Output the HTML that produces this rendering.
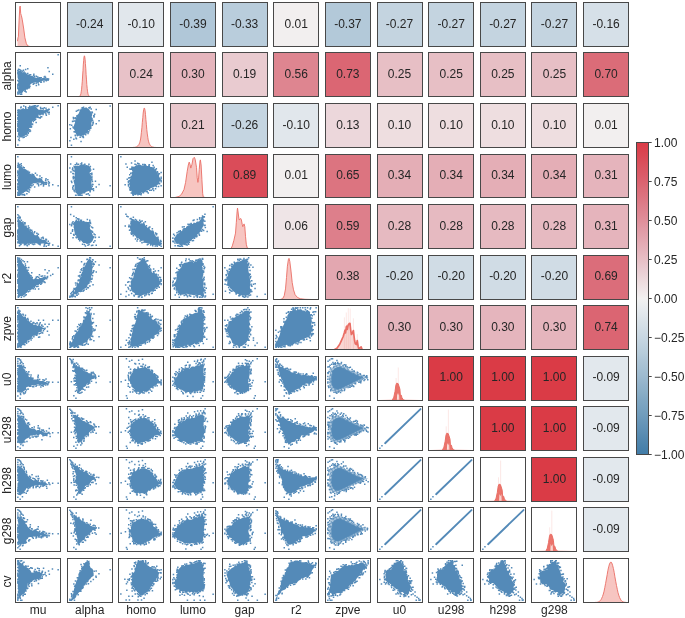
<!DOCTYPE html>
<html><head><meta charset="utf-8"><title>pairplot</title><style>html,body{margin:0;padding:0;background:#fff}svg{display:block}</style></head><body>
<svg width="685" height="618" viewBox="0 0 685 618" font-family="'Liberation Sans', sans-serif">
<rect width="685" height="618" fill="#fff"/>
<defs><pattern id="lat" width="3" height="3" patternUnits="userSpaceOnUse" patternTransform="rotate(-27)"><rect width="3" height="3" fill="#548ab8" fill-opacity="0.3"/><circle cx="1.5" cy="1.5" r="1.2" fill="#548ab8"/></pattern></defs>
<path d="M17.5,70.0L19.0,70.8L20.9,71.0L22.3,72.2L24.2,72.2L26.0,72.4L27.0,74.2L28.3,74.6L29.9,74.4L30.7,76.0L32.2,75.8L33.7,76.8L35.2,77.5L37.0,77.7L38.5,77.3L39.8,77.6L41.2,78.4L42.6,77.9L44.2,77.9L45.8,78.3L47.7,77.9L49.1,79.5L47.7,80.0L46.6,81.0L45.0,80.8L43.2,80.7L41.6,81.0L40.2,81.9L38.6,82.3L37.1,83.1L35.2,82.2L33.6,82.7L32.0,83.2L30.5,84.2L29.7,86.0L28.5,87.3L27.3,88.4L26.3,89.7L24.5,90.2L23.4,91.2L22.5,92.5L21.8,93.8L20.1,93.4L18.2,94.5L18.4,93.0L18.1,91.7L18.2,90.4L17.5,89.0L18.3,87.7L18.6,86.4L17.5,85.1L17.8,83.8L18.4,82.5L17.7,81.2L18.6,79.9L17.8,78.6L17.5,77.3L17.5,76.0L17.5,74.7L18.2,73.3L18.0,72.0L18.3,70.7Z" fill="#548ab8"/>
<path d="M18.0,68.9h1.5v1.5h-1.5zM17.9,68.6h1.5v1.5h-1.5zM20.1,69.8h1.5v1.5h-1.5zM19.1,68.9h1.5v1.5h-1.5zM21.4,70.4h1.5v1.5h-1.5zM24.9,68.7h1.5v1.5h-1.5zM22.7,69.4h1.5v1.5h-1.5zM23.3,71.2h1.5v1.5h-1.5zM29.9,73.9h1.5v1.5h-1.5zM29.3,73.9h1.5v1.5h-1.5zM27.0,72.7h1.5v1.5h-1.5zM33.7,75.5h1.5v1.5h-1.5zM35.6,75.4h1.5v1.5h-1.5zM32.9,74.8h1.5v1.5h-1.5zM37.0,76.3h1.5v1.5h-1.5zM40.5,76.9h1.5v1.5h-1.5zM39.0,76.9h1.5v1.5h-1.5zM43.5,76.3h1.5v1.5h-1.5zM44.8,76.7h1.5v1.5h-1.5zM44.2,75.8h1.5v1.5h-1.5zM47.8,78.3h1.5v1.5h-1.5zM47.3,79.6h1.5v1.5h-1.5zM45.6,79.9h1.5v1.5h-1.5zM40.6,81.3h1.5v1.5h-1.5zM43.2,81.0h1.5v1.5h-1.5zM40.1,81.4h1.5v1.5h-1.5zM35.4,82.4h1.5v1.5h-1.5zM37.5,82.2h1.5v1.5h-1.5zM35.6,84.7h1.5v1.5h-1.5zM32.5,83.6h1.5v1.5h-1.5zM33.4,82.6h1.5v1.5h-1.5zM32.8,83.2h1.5v1.5h-1.5zM29.2,85.5h1.5v1.5h-1.5zM28.3,85.4h1.5v1.5h-1.5zM26.5,88.0h1.5v1.5h-1.5zM27.7,87.2h1.5v1.5h-1.5zM27.3,86.6h1.5v1.5h-1.5zM24.4,90.1h1.5v1.5h-1.5zM24.2,90.6h1.5v1.5h-1.5zM25.4,91.2h1.5v1.5h-1.5zM20.0,93.4h1.5v1.5h-1.5zM20.9,93.4h1.5v1.5h-1.5zM17.3,93.1h1.5v1.5h-1.5zM17.1,79.7h1.5v1.5h-1.5zM17.1,84.5h1.5v1.5h-1.5zM17.1,73.1h1.5v1.5h-1.5zM17.1,72.1h1.5v1.5h-1.5zM17.1,73.0h1.5v1.5h-1.5zM17.1,86.9h1.5v1.5h-1.5zM17.1,83.8h1.5v1.5h-1.5zM17.1,91.6h1.5v1.5h-1.5zM17.1,86.1h1.5v1.5h-1.5zM17.1,69.7h1.5v1.5h-1.5zM17.1,70.2h1.5v1.5h-1.5zM17.1,69.7h1.5v1.5h-1.5zM17.1,87.0h1.5v1.5h-1.5zM17.1,87.6h1.5v1.5h-1.5zM57.4,54.1h1.5v1.5h-1.5zM19.5,65.1h1.5v1.5h-1.5zM27.0,67.9h1.5v1.5h-1.5zM47.2,67.1h1.5v1.5h-1.5zM48.5,70.8h1.5v1.5h-1.5zM52.0,73.6h1.5v1.5h-1.5zM33.1,73.5h1.5v1.5h-1.5zM37.9,83.9h1.5v1.5h-1.5zM28.7,87.1h1.5v1.5h-1.5zM17.1,93.2h1.5v1.5h-1.5zM19.5,93.4h1.5v1.5h-1.5z" fill="#548ab8"/>
<path d="M17.6,111.7L17.7,110.3L18.5,109.0L20.5,109.6L21.7,108.9L23.2,108.1L24.4,109.1L25.8,108.7L27.7,108.9L28.9,107.4L30.4,106.2L32.3,105.5L33.6,105.7L34.9,106.1L35.7,106.4L36.5,107.5L37.3,108.6L38.6,109.7L39.9,109.7L41.3,109.7L42.7,109.9L44.5,110.3L45.9,109.2L47.1,108.9L48.3,109.4L49.0,109.6L48.6,111.3L47.4,112.3L46.0,112.7L44.7,113.2L43.4,114.0L42.2,114.6L40.8,114.9L38.4,114.8L38.7,116.4L39.4,118.1L38.1,118.2L36.6,117.7L35.2,118.6L34.6,120.4L32.3,121.0L31.9,122.6L32.0,124.4L31.6,126.1L31.2,127.4L29.4,128.0L29.0,129.3L29.3,131.0L28.1,132.1L27.4,133.5L26.7,135.0L25.0,134.9L24.6,136.7L23.2,136.4L21.7,137.4L20.5,137.5L19.3,136.7L18.6,136.3L17.7,134.0L18.3,132.7L17.8,131.4L17.5,130.1L18.4,128.8L17.5,127.4L17.9,126.1L17.8,124.8L17.5,123.5L18.0,122.2L17.8,120.8L17.5,119.5L17.5,118.2L18.1,116.9L17.5,115.6L17.5,114.3L17.6,112.9Z" fill="#548ab8"/>
<path d="M17.1,109.4h1.5v1.5h-1.5zM20.4,106.3h1.5v1.5h-1.5zM20.1,107.1h1.5v1.5h-1.5zM25.0,107.6h1.5v1.5h-1.5zM23.0,105.3h1.5v1.5h-1.5zM24.9,106.0h1.5v1.5h-1.5zM27.6,107.0h1.5v1.5h-1.5zM29.0,105.6h1.5v1.5h-1.5zM28.7,106.6h1.5v1.5h-1.5zM33.4,105.1h1.5v1.5h-1.5zM34.8,105.1h1.5v1.5h-1.5zM36.4,105.8h1.5v1.5h-1.5zM37.3,105.1h1.5v1.5h-1.5zM39.8,106.7h1.5v1.5h-1.5zM40.0,108.1h1.5v1.5h-1.5zM41.6,107.7h1.5v1.5h-1.5zM42.6,108.2h1.5v1.5h-1.5zM45.2,107.4h1.5v1.5h-1.5zM48.4,108.8h1.5v1.5h-1.5zM48.0,108.4h1.5v1.5h-1.5zM48.5,111.4h1.5v1.5h-1.5zM47.2,111.8h1.5v1.5h-1.5zM45.1,113.0h1.5v1.5h-1.5zM45.6,114.5h1.5v1.5h-1.5zM40.9,116.0h1.5v1.5h-1.5zM39.3,114.1h1.5v1.5h-1.5zM42.3,113.8h1.5v1.5h-1.5zM39.9,116.2h1.5v1.5h-1.5zM38.8,116.9h1.5v1.5h-1.5zM34.8,118.2h1.5v1.5h-1.5zM34.9,118.4h1.5v1.5h-1.5zM34.6,118.8h1.5v1.5h-1.5zM33.7,119.5h1.5v1.5h-1.5zM31.8,123.3h1.5v1.5h-1.5zM32.6,120.7h1.5v1.5h-1.5zM31.8,123.7h1.5v1.5h-1.5zM35.4,121.8h1.5v1.5h-1.5zM29.0,129.1h1.5v1.5h-1.5zM30.8,126.1h1.5v1.5h-1.5zM29.7,130.3h1.5v1.5h-1.5zM30.2,126.6h1.5v1.5h-1.5zM28.9,130.8h1.5v1.5h-1.5zM27.3,131.8h1.5v1.5h-1.5zM26.7,134.3h1.5v1.5h-1.5zM23.4,136.5h1.5v1.5h-1.5zM25.2,135.4h1.5v1.5h-1.5zM23.0,136.5h1.5v1.5h-1.5zM22.3,136.7h1.5v1.5h-1.5zM22.5,136.7h1.5v1.5h-1.5zM18.5,137.3h1.5v1.5h-1.5zM17.1,135.7h1.5v1.5h-1.5zM17.1,135.8h1.5v1.5h-1.5zM17.1,125.5h1.5v1.5h-1.5zM17.1,130.4h1.5v1.5h-1.5zM17.1,116.7h1.5v1.5h-1.5zM17.1,129.6h1.5v1.5h-1.5zM17.1,114.4h1.5v1.5h-1.5zM17.1,118.3h1.5v1.5h-1.5zM17.1,127.9h1.5v1.5h-1.5zM17.1,123.0h1.5v1.5h-1.5zM17.1,123.3h1.5v1.5h-1.5zM17.1,111.7h1.5v1.5h-1.5zM17.1,121.0h1.5v1.5h-1.5zM17.1,111.6h1.5v1.5h-1.5zM17.1,125.3h1.5v1.5h-1.5zM17.1,124.7h1.5v1.5h-1.5zM57.4,105.1h1.5v1.5h-1.5zM52.0,106.4h1.5v1.5h-1.5zM48.3,113.3h1.5v1.5h-1.5zM34.7,105.1h1.5v1.5h-1.5zM36.3,105.7h1.5v1.5h-1.5zM27.5,132.5h1.5v1.5h-1.5zM18.7,139.7h1.5v1.5h-1.5zM17.1,144.2h1.5v1.5h-1.5zM17.9,138.9h1.5v1.5h-1.5zM39.5,117.3h1.5v1.5h-1.5zM33.1,106.1h1.5v1.5h-1.5zM43.5,106.9h1.5v1.5h-1.5z" fill="#548ab8"/>
<path d="M83.6,108.1L85.4,107.8L86.0,107.0L87.0,108.1L88.4,108.8L89.5,109.7L90.0,111.1L91.6,111.9L91.9,113.5L92.3,115.0L91.6,116.9L92.8,118.3L92.7,119.9L91.8,121.4L91.4,123.0L91.3,124.2L91.8,126.0L91.2,127.1L90.2,128.2L89.9,129.5L88.3,130.2L88.0,132.0L87.2,133.4L85.6,133.7L84.5,135.0L82.8,134.9L81.6,135.9L80.3,136.4L79.1,135.5L77.5,136.5L76.6,135.7L76.2,134.3L75.6,132.9L73.8,131.9L74.9,130.4L73.7,129.1L74.0,127.7L73.9,126.3L74.1,125.1L74.6,123.8L75.1,122.6L75.0,121.3L75.3,120.1L75.7,118.7L76.3,117.3L76.0,115.5L77.6,114.7L78.7,113.4L79.4,111.8L80.0,109.9L81.5,109.6L82.4,108.6Z" fill="#548ab8"/>
<path d="M82.6,106.9h1.5v1.5h-1.5zM82.8,106.6h1.5v1.5h-1.5zM88.2,107.0h1.5v1.5h-1.5zM88.9,107.3h1.5v1.5h-1.5zM89.4,106.6h1.5v1.5h-1.5zM91.3,111.3h1.5v1.5h-1.5zM90.5,108.3h1.5v1.5h-1.5zM91.6,112.0h1.5v1.5h-1.5zM93.0,114.9h1.5v1.5h-1.5zM93.2,116.3h1.5v1.5h-1.5zM93.4,115.2h1.5v1.5h-1.5zM91.9,119.8h1.5v1.5h-1.5zM92.3,122.9h1.5v1.5h-1.5zM92.5,121.6h1.5v1.5h-1.5zM92.2,121.9h1.5v1.5h-1.5zM90.0,127.1h1.5v1.5h-1.5zM90.0,127.6h1.5v1.5h-1.5zM91.6,124.4h1.5v1.5h-1.5zM88.0,130.9h1.5v1.5h-1.5zM87.3,132.8h1.5v1.5h-1.5zM87.3,132.2h1.5v1.5h-1.5zM88.9,129.2h1.5v1.5h-1.5zM84.9,133.9h1.5v1.5h-1.5zM81.7,136.0h1.5v1.5h-1.5zM81.5,135.4h1.5v1.5h-1.5zM82.4,135.3h1.5v1.5h-1.5zM75.2,137.3h1.5v1.5h-1.5zM79.4,136.4h1.5v1.5h-1.5zM75.7,138.0h1.5v1.5h-1.5zM74.5,134.6h1.5v1.5h-1.5zM74.7,134.9h1.5v1.5h-1.5zM72.8,127.2h1.5v1.5h-1.5zM72.3,126.2h1.5v1.5h-1.5zM73.4,131.0h1.5v1.5h-1.5zM73.7,120.2h1.5v1.5h-1.5zM72.2,120.5h1.5v1.5h-1.5zM70.9,124.4h1.5v1.5h-1.5zM71.8,120.7h1.5v1.5h-1.5zM74.4,116.9h1.5v1.5h-1.5zM74.5,117.6h1.5v1.5h-1.5zM72.8,118.0h1.5v1.5h-1.5zM72.6,116.7h1.5v1.5h-1.5zM75.6,110.5h1.5v1.5h-1.5zM78.1,109.2h1.5v1.5h-1.5zM76.8,109.8h1.5v1.5h-1.5zM81.6,107.4h1.5v1.5h-1.5zM81.4,107.1h1.5v1.5h-1.5zM80.4,108.8h1.5v1.5h-1.5zM109.4,105.2h1.5v1.5h-1.5zM95.5,108.7h1.5v1.5h-1.5zM98.3,119.9h1.5v1.5h-1.5zM95.5,123.1h1.5v1.5h-1.5zM93.9,113.5h1.5v1.5h-1.5zM69.1,123.9h1.5v1.5h-1.5zM69.6,127.9h1.5v1.5h-1.5zM70.2,136.8h1.5v1.5h-1.5zM73.1,138.4h1.5v1.5h-1.5zM70.7,144.4h1.5v1.5h-1.5zM80.3,140.8h1.5v1.5h-1.5zM82.7,136.8h1.5v1.5h-1.5zM69.1,140.0h1.5v1.5h-1.5z" fill="#548ab8"/>
<path d="M17.6,163.6L19.7,164.1L20.0,165.9L21.5,166.3L22.4,167.5L23.3,168.8L25.2,169.0L26.5,169.8L27.6,171.0L28.7,171.9L29.6,173.2L30.8,174.0L32.1,174.7L33.4,175.1L34.8,175.4L35.5,176.9L36.5,177.8L37.7,178.4L39.4,178.2L40.8,178.6L42.0,179.1L42.8,180.7L43.9,181.4L45.1,181.9L46.6,181.8L47.8,183.0L49.1,181.7L47.4,183.5L46.1,183.7L44.7,183.5L43.4,184.3L41.9,183.4L40.4,182.8L38.6,182.8L37.3,182.5L36.0,183.2L34.6,183.2L33.0,183.4L31.6,184.4L31.8,186.2L30.1,186.6L30.2,188.3L28.8,188.9L27.6,189.7L27.7,191.6L25.6,191.4L24.2,192.2L23.2,193.4L21.8,193.7L20.9,195.4L19.6,195.0L18.4,194.9L17.5,193.6L18.3,192.2L18.0,190.9L17.5,189.6L17.5,188.2L17.9,186.9L18.5,185.5L17.8,184.2L18.0,182.8L17.5,181.5L18.3,180.1L18.0,178.8L17.5,177.5L18.6,176.1L17.9,174.8L17.5,173.4L17.5,172.1L18.5,170.7L18.5,169.4L18.5,168.0L17.5,166.7L18.2,165.4Z" fill="#548ab8"/>
<path d="M17.7,163.2h1.5v1.5h-1.5zM17.6,162.4h1.5v1.5h-1.5zM20.7,165.0h1.5v1.5h-1.5zM19.3,164.1h1.5v1.5h-1.5zM20.5,162.9h1.5v1.5h-1.5zM22.6,166.9h1.5v1.5h-1.5zM22.5,166.6h1.5v1.5h-1.5zM22.4,166.7h1.5v1.5h-1.5zM23.5,167.0h1.5v1.5h-1.5zM28.7,171.4h1.5v1.5h-1.5zM27.1,170.5h1.5v1.5h-1.5zM31.4,173.5h1.5v1.5h-1.5zM32.8,173.9h1.5v1.5h-1.5zM34.7,172.5h1.5v1.5h-1.5zM36.3,174.2h1.5v1.5h-1.5zM39.1,177.7h1.5v1.5h-1.5zM39.2,175.3h1.5v1.5h-1.5zM41.0,177.0h1.5v1.5h-1.5zM45.3,178.1h1.5v1.5h-1.5zM44.9,179.5h1.5v1.5h-1.5zM45.0,179.9h1.5v1.5h-1.5zM47.1,179.1h1.5v1.5h-1.5zM47.8,181.1h1.5v1.5h-1.5zM48.0,183.3h1.5v1.5h-1.5zM48.6,181.9h1.5v1.5h-1.5zM44.3,183.2h1.5v1.5h-1.5zM45.5,183.6h1.5v1.5h-1.5zM42.9,184.1h1.5v1.5h-1.5zM37.9,183.5h1.5v1.5h-1.5zM41.2,183.1h1.5v1.5h-1.5zM40.1,183.8h1.5v1.5h-1.5zM37.0,182.5h1.5v1.5h-1.5zM36.5,182.9h1.5v1.5h-1.5zM32.4,184.1h1.5v1.5h-1.5zM31.1,184.9h1.5v1.5h-1.5zM29.9,186.7h1.5v1.5h-1.5zM28.8,189.2h1.5v1.5h-1.5zM26.9,190.4h1.5v1.5h-1.5zM28.3,188.7h1.5v1.5h-1.5zM26.1,193.1h1.5v1.5h-1.5zM23.7,193.8h1.5v1.5h-1.5zM23.9,194.4h1.5v1.5h-1.5zM22.8,194.1h1.5v1.5h-1.5zM21.3,194.1h1.5v1.5h-1.5zM18.6,194.4h1.5v1.5h-1.5zM17.3,194.4h1.5v1.5h-1.5zM17.1,166.4h1.5v1.5h-1.5zM17.1,185.8h1.5v1.5h-1.5zM17.1,175.1h1.5v1.5h-1.5zM17.1,172.0h1.5v1.5h-1.5zM17.1,185.7h1.5v1.5h-1.5zM17.1,170.8h1.5v1.5h-1.5zM17.1,174.6h1.5v1.5h-1.5zM17.1,193.4h1.5v1.5h-1.5zM17.1,179.5h1.5v1.5h-1.5zM17.1,164.7h1.5v1.5h-1.5zM17.1,186.4h1.5v1.5h-1.5zM17.1,178.9h1.5v1.5h-1.5zM17.1,188.5h1.5v1.5h-1.5zM17.1,171.3h1.5v1.5h-1.5zM17.1,170.3h1.5v1.5h-1.5zM17.1,184.0h1.5v1.5h-1.5zM17.1,183.0h1.5v1.5h-1.5zM17.1,191.7h1.5v1.5h-1.5zM17.1,156.1h1.5v1.5h-1.5zM57.4,184.9h1.5v1.5h-1.5zM52.0,184.1h1.5v1.5h-1.5zM48.3,184.9h1.5v1.5h-1.5zM42.7,185.2h1.5v1.5h-1.5zM37.9,184.9h1.5v1.5h-1.5zM33.9,186.2h1.5v1.5h-1.5zM28.3,191.3h1.5v1.5h-1.5zM17.1,194.4h1.5v1.5h-1.5zM18.7,194.2h1.5v1.5h-1.5z" fill="#548ab8"/>
<path d="M73.0,165.5L74.5,166.0L75.9,166.1L77.1,165.8L78.7,165.7L80.3,165.0L81.9,164.5L83.5,164.3L84.9,165.3L86.5,165.0L88.0,165.5L89.0,165.3L89.7,166.7L90.9,168.0L90.6,169.6L91.0,171.2L89.5,172.8L90.2,174.5L91.4,175.9L92.2,177.7L90.8,179.2L91.5,180.8L91.5,182.4L90.9,184.2L91.9,185.4L91.6,187.0L92.6,188.0L92.1,189.4L91.3,190.2L90.3,191.6L88.6,191.0L87.3,191.6L85.8,192.0L84.8,193.4L83.3,193.6L81.5,194.0L80.3,195.2L78.1,194.8L76.9,193.8L75.9,192.7L75.9,191.1L74.6,189.8L74.5,188.0L74.7,186.4L74.5,185.0L74.2,183.6L73.9,182.2L73.4,180.8L74.7,179.3L73.6,177.6L74.9,176.1L74.6,174.4L75.0,172.7L73.9,171.2L74.5,169.5L74.3,168.2L73.6,166.9Z" fill="#548ab8"/>
<path d="M74.5,164.1h1.5v1.5h-1.5zM75.9,162.4h1.5v1.5h-1.5zM76.2,163.8h1.5v1.5h-1.5zM77.8,163.6h1.5v1.5h-1.5zM80.3,163.0h1.5v1.5h-1.5zM81.0,162.3h1.5v1.5h-1.5zM80.6,163.7h1.5v1.5h-1.5zM84.0,163.6h1.5v1.5h-1.5zM84.2,163.8h1.5v1.5h-1.5zM88.2,163.6h1.5v1.5h-1.5zM89.6,165.8h1.5v1.5h-1.5zM91.1,172.6h1.5v1.5h-1.5zM89.7,173.1h1.5v1.5h-1.5zM89.9,169.2h1.5v1.5h-1.5zM92.8,168.6h1.5v1.5h-1.5zM91.3,176.3h1.5v1.5h-1.5zM91.1,174.0h1.5v1.5h-1.5zM91.1,179.2h1.5v1.5h-1.5zM91.2,178.2h1.5v1.5h-1.5zM91.7,180.8h1.5v1.5h-1.5zM91.0,178.2h1.5v1.5h-1.5zM92.2,183.7h1.5v1.5h-1.5zM91.5,185.5h1.5v1.5h-1.5zM91.3,183.6h1.5v1.5h-1.5zM92.7,188.1h1.5v1.5h-1.5zM91.7,188.5h1.5v1.5h-1.5zM89.4,190.9h1.5v1.5h-1.5zM88.7,194.4h1.5v1.5h-1.5zM87.5,193.0h1.5v1.5h-1.5zM85.6,193.4h1.5v1.5h-1.5zM85.9,193.6h1.5v1.5h-1.5zM81.3,194.4h1.5v1.5h-1.5zM79.8,194.4h1.5v1.5h-1.5zM80.9,194.4h1.5v1.5h-1.5zM78.7,194.4h1.5v1.5h-1.5zM77.3,194.3h1.5v1.5h-1.5zM74.9,194.4h1.5v1.5h-1.5zM74.3,190.9h1.5v1.5h-1.5zM75.3,194.4h1.5v1.5h-1.5zM73.3,190.1h1.5v1.5h-1.5zM74.0,189.6h1.5v1.5h-1.5zM72.0,186.9h1.5v1.5h-1.5zM72.9,185.0h1.5v1.5h-1.5zM71.1,181.7h1.5v1.5h-1.5zM72.4,185.5h1.5v1.5h-1.5zM72.4,176.5h1.5v1.5h-1.5zM72.6,178.1h1.5v1.5h-1.5zM72.7,176.3h1.5v1.5h-1.5zM72.8,175.8h1.5v1.5h-1.5zM72.1,172.7h1.5v1.5h-1.5zM72.5,170.0h1.5v1.5h-1.5zM72.8,172.9h1.5v1.5h-1.5zM72.0,167.2h1.5v1.5h-1.5zM72.0,168.8h1.5v1.5h-1.5zM71.7,168.7h1.5v1.5h-1.5zM70.7,156.1h1.5v1.5h-1.5zM69.9,163.3h1.5v1.5h-1.5zM69.1,167.3h1.5v1.5h-1.5zM70.2,171.3h1.5v1.5h-1.5zM70.7,180.4h1.5v1.5h-1.5zM109.4,184.9h1.5v1.5h-1.5zM98.3,183.8h1.5v1.5h-1.5zM94.7,180.4h1.5v1.5h-1.5zM95.5,186.2h1.5v1.5h-1.5zM92.8,189.7h1.5v1.5h-1.5zM77.9,194.4h1.5v1.5h-1.5zM72.3,188.4h1.5v1.5h-1.5z" fill="#548ab8"/>
<path d="M131.2,166.3L132.7,166.4L134.2,166.8L135.5,165.7L136.9,165.4L138.4,164.5L140.0,164.5L141.7,165.5L143.1,165.4L144.5,165.0L145.9,164.6L146.9,165.9L148.2,166.1L149.7,165.5L150.4,167.0L151.9,167.0L153.2,167.5L154.4,168.1L154.8,169.6L156.2,170.6L156.9,172.0L157.1,174.0L159.1,174.6L159.1,176.5L160.0,178.0L160.8,179.0L161.0,180.5L159.5,181.5L159.6,182.6L158.7,184.2L157.2,185.1L156.1,186.6L154.4,186.8L152.9,187.5L151.3,187.9L150.0,188.7L148.9,190.0L147.5,190.4L146.0,190.8L144.8,192.0L143.3,192.9L141.3,192.6L140.1,194.2L138.4,194.5L136.7,194.5L135.2,195.3L133.6,194.6L131.9,194.0L131.6,192.4L131.4,190.8L130.0,189.7L129.5,188.3L129.5,186.9L129.9,185.3L128.7,184.0L129.6,182.7L129.1,181.2L129.5,179.8L130.6,178.7L129.7,176.9L131.3,175.9L131.8,174.5L131.1,172.8L132.5,171.7L131.9,170.2L131.6,169.0Z" fill="#548ab8"/>
<path d="M135.8,164.3h1.5v1.5h-1.5zM134.3,160.2h1.5v1.5h-1.5zM134.3,163.4h1.5v1.5h-1.5zM130.8,162.3h1.5v1.5h-1.5zM142.0,163.7h1.5v1.5h-1.5zM138.2,163.0h1.5v1.5h-1.5zM136.9,162.5h1.5v1.5h-1.5zM137.7,162.9h1.5v1.5h-1.5zM144.5,164.1h1.5v1.5h-1.5zM143.7,163.8h1.5v1.5h-1.5zM148.6,163.9h1.5v1.5h-1.5zM148.2,164.6h1.5v1.5h-1.5zM153.4,166.4h1.5v1.5h-1.5zM152.4,164.7h1.5v1.5h-1.5zM151.2,161.6h1.5v1.5h-1.5zM156.7,170.9h1.5v1.5h-1.5zM155.6,168.1h1.5v1.5h-1.5zM154.9,169.0h1.5v1.5h-1.5zM160.4,171.8h1.5v1.5h-1.5zM158.7,173.1h1.5v1.5h-1.5zM157.1,172.5h1.5v1.5h-1.5zM160.4,176.4h1.5v1.5h-1.5zM160.4,178.1h1.5v1.5h-1.5zM160.3,179.9h1.5v1.5h-1.5zM160.4,180.0h1.5v1.5h-1.5zM160.4,181.1h1.5v1.5h-1.5zM155.7,185.7h1.5v1.5h-1.5zM158.8,183.0h1.5v1.5h-1.5zM157.8,185.8h1.5v1.5h-1.5zM152.3,187.8h1.5v1.5h-1.5zM151.9,188.2h1.5v1.5h-1.5zM150.6,189.6h1.5v1.5h-1.5zM154.8,188.1h1.5v1.5h-1.5zM145.3,190.8h1.5v1.5h-1.5zM147.5,192.3h1.5v1.5h-1.5zM149.0,189.4h1.5v1.5h-1.5zM146.5,190.9h1.5v1.5h-1.5zM142.7,191.9h1.5v1.5h-1.5zM140.3,194.1h1.5v1.5h-1.5zM140.6,192.7h1.5v1.5h-1.5zM137.2,194.0h1.5v1.5h-1.5zM138.8,193.6h1.5v1.5h-1.5zM139.2,193.6h1.5v1.5h-1.5zM132.1,193.8h1.5v1.5h-1.5zM132.5,194.2h1.5v1.5h-1.5zM129.2,189.1h1.5v1.5h-1.5zM129.6,189.4h1.5v1.5h-1.5zM130.6,192.2h1.5v1.5h-1.5zM128.8,187.1h1.5v1.5h-1.5zM127.7,183.9h1.5v1.5h-1.5zM127.8,185.2h1.5v1.5h-1.5zM127.6,180.7h1.5v1.5h-1.5zM128.4,180.1h1.5v1.5h-1.5zM127.7,182.0h1.5v1.5h-1.5zM130.0,172.4h1.5v1.5h-1.5zM129.1,176.9h1.5v1.5h-1.5zM128.0,177.2h1.5v1.5h-1.5zM129.0,173.9h1.5v1.5h-1.5zM129.8,168.5h1.5v1.5h-1.5zM131.1,168.5h1.5v1.5h-1.5zM129.2,168.2h1.5v1.5h-1.5zM131.0,167.6h1.5v1.5h-1.5zM129.8,168.5h1.5v1.5h-1.5zM120.1,156.1h1.5v1.5h-1.5zM125.2,163.3h1.5v1.5h-1.5zM126.5,166.5h1.5v1.5h-1.5zM126.5,178.5h1.5v1.5h-1.5zM124.4,184.1h1.5v1.5h-1.5zM160.4,176.6h1.5v1.5h-1.5zM160.4,184.9h1.5v1.5h-1.5zM152.9,189.7h1.5v1.5h-1.5zM132.6,194.4h1.5v1.5h-1.5zM157.7,173.7h1.5v1.5h-1.5z" fill="#548ab8"/>
<path d="M17.6,215.9L18.1,217.2L18.6,218.6L19.4,219.9L20.5,220.8L21.3,221.8L22.8,222.3L23.9,223.6L24.6,225.4L26.8,225.5L26.9,227.5L28.8,228.0L29.0,229.8L30.4,230.7L31.5,231.9L33.2,232.3L33.8,234.0L34.9,235.3L36.7,235.2L37.8,236.1L39.1,236.8L39.7,238.6L41.1,239.1L42.3,239.7L44.0,239.4L45.1,240.3L46.3,241.3L47.4,242.6L49.2,243.0L49.5,245.2L48.1,244.1L46.6,243.9L45.1,244.3L43.6,243.4L41.9,243.4L40.2,244.1L38.6,243.7L37.0,243.5L35.4,242.9L33.8,243.6L32.2,243.5L30.7,244.0L29.0,243.4L27.4,243.8L25.8,244.4L24.5,243.9L23.2,243.7L21.8,243.8L20.2,243.9L19.0,243.9L17.6,242.5L17.5,241.2L18.0,239.9L17.8,238.5L17.5,237.2L18.5,235.9L17.7,234.6L18.3,233.3L17.5,231.9L17.5,230.6L17.8,229.3L18.4,228.0L17.7,226.7L17.7,225.3L17.5,224.0L17.8,222.7L17.6,221.4L17.5,220.0L17.8,218.7L17.9,217.4Z" fill="#548ab8"/>
<path d="M18.1,215.3h1.5v1.5h-1.5zM19.2,217.8h1.5v1.5h-1.5zM18.7,216.7h1.5v1.5h-1.5zM20.6,219.5h1.5v1.5h-1.5zM22.2,221.3h1.5v1.5h-1.5zM24.4,222.2h1.5v1.5h-1.5zM23.9,222.1h1.5v1.5h-1.5zM24.1,223.3h1.5v1.5h-1.5zM27.6,225.2h1.5v1.5h-1.5zM29.8,229.6h1.5v1.5h-1.5zM28.2,227.0h1.5v1.5h-1.5zM29.2,228.7h1.5v1.5h-1.5zM31.4,230.7h1.5v1.5h-1.5zM33.6,232.1h1.5v1.5h-1.5zM30.9,229.6h1.5v1.5h-1.5zM36.6,234.5h1.5v1.5h-1.5zM37.6,233.5h1.5v1.5h-1.5zM36.1,232.6h1.5v1.5h-1.5zM42.2,236.5h1.5v1.5h-1.5zM40.8,237.2h1.5v1.5h-1.5zM42.6,237.4h1.5v1.5h-1.5zM45.7,238.8h1.5v1.5h-1.5zM47.5,240.5h1.5v1.5h-1.5zM45.2,239.7h1.5v1.5h-1.5zM48.8,242.4h1.5v1.5h-1.5zM45.5,245.4h1.5v1.5h-1.5zM48.1,244.2h1.5v1.5h-1.5zM47.6,244.4h1.5v1.5h-1.5zM39.4,243.9h1.5v1.5h-1.5zM43.3,245.4h1.5v1.5h-1.5zM43.7,244.1h1.5v1.5h-1.5zM38.5,243.6h1.5v1.5h-1.5zM39.0,243.0h1.5v1.5h-1.5zM37.6,242.8h1.5v1.5h-1.5zM31.7,243.3h1.5v1.5h-1.5zM34.0,243.3h1.5v1.5h-1.5zM32.8,243.8h1.5v1.5h-1.5zM27.9,243.3h1.5v1.5h-1.5zM26.6,244.9h1.5v1.5h-1.5zM26.2,244.2h1.5v1.5h-1.5zM23.7,244.0h1.5v1.5h-1.5zM24.6,243.7h1.5v1.5h-1.5zM20.3,243.4h1.5v1.5h-1.5zM19.7,243.9h1.5v1.5h-1.5zM17.1,242.0h1.5v1.5h-1.5zM17.1,236.2h1.5v1.5h-1.5zM17.1,231.4h1.5v1.5h-1.5zM17.1,238.5h1.5v1.5h-1.5zM17.1,232.4h1.5v1.5h-1.5zM17.1,234.5h1.5v1.5h-1.5zM17.1,241.4h1.5v1.5h-1.5zM17.1,230.6h1.5v1.5h-1.5zM17.1,232.5h1.5v1.5h-1.5zM17.1,235.8h1.5v1.5h-1.5zM17.1,216.9h1.5v1.5h-1.5zM17.1,236.0h1.5v1.5h-1.5zM17.1,231.4h1.5v1.5h-1.5zM17.1,238.3h1.5v1.5h-1.5zM17.1,220.4h1.5v1.5h-1.5zM17.1,229.4h1.5v1.5h-1.5zM17.1,206.1h1.5v1.5h-1.5zM57.4,245.4h1.5v1.5h-1.5zM52.0,244.2h1.5v1.5h-1.5zM17.1,214.0h1.5v1.5h-1.5zM19.5,216.6h1.5v1.5h-1.5zM33.9,231.0h1.5v1.5h-1.5zM45.1,238.6h1.5v1.5h-1.5zM18.7,245.0h1.5v1.5h-1.5zM28.3,243.8h1.5v1.5h-1.5z" fill="#548ab8"/>
<path d="M74.8,221.6L75.9,220.2L77.4,220.9L78.6,220.3L79.8,221.2L81.3,220.3L82.4,221.3L83.8,220.7L85.0,221.8L86.3,221.8L87.7,222.1L89.0,222.0L90.5,222.2L89.6,223.9L90.8,225.6L89.8,227.4L90.2,229.0L91.4,230.5L91.6,232.0L92.3,233.7L92.9,235.5L94.8,236.8L93.8,238.1L93.2,239.2L92.5,240.9L91.3,242.2L89.8,243.4L88.6,243.7L86.7,244.0L85.4,243.1L83.2,243.1L81.9,241.6L80.9,240.2L79.0,239.8L78.0,238.4L76.6,237.3L76.2,235.4L74.5,234.5L74.8,232.9L74.4,231.5L74.1,230.1L74.1,228.8L73.5,227.2L73.8,225.6L72.7,224.1L73.7,222.5Z" fill="#548ab8"/>
<path d="M76.9,218.1h1.5v1.5h-1.5zM75.7,219.5h1.5v1.5h-1.5zM80.4,219.5h1.5v1.5h-1.5zM80.7,219.6h1.5v1.5h-1.5zM78.1,218.3h1.5v1.5h-1.5zM79.8,219.4h1.5v1.5h-1.5zM86.6,218.7h1.5v1.5h-1.5zM88.9,221.2h1.5v1.5h-1.5zM89.0,219.4h1.5v1.5h-1.5zM89.6,221.5h1.5v1.5h-1.5zM90.8,226.2h1.5v1.5h-1.5zM89.8,222.7h1.5v1.5h-1.5zM91.9,227.0h1.5v1.5h-1.5zM90.7,230.3h1.5v1.5h-1.5zM91.4,230.7h1.5v1.5h-1.5zM93.3,233.2h1.5v1.5h-1.5zM91.9,231.6h1.5v1.5h-1.5zM94.3,233.9h1.5v1.5h-1.5zM94.6,236.8h1.5v1.5h-1.5zM94.7,236.5h1.5v1.5h-1.5zM93.0,241.6h1.5v1.5h-1.5zM94.2,240.0h1.5v1.5h-1.5zM88.3,243.8h1.5v1.5h-1.5zM90.8,244.8h1.5v1.5h-1.5zM87.2,244.5h1.5v1.5h-1.5zM84.7,245.2h1.5v1.5h-1.5zM81.8,243.5h1.5v1.5h-1.5zM83.7,243.7h1.5v1.5h-1.5zM78.9,239.9h1.5v1.5h-1.5zM77.9,238.6h1.5v1.5h-1.5zM79.1,239.9h1.5v1.5h-1.5zM75.4,236.5h1.5v1.5h-1.5zM75.8,237.0h1.5v1.5h-1.5zM73.3,234.4h1.5v1.5h-1.5zM71.7,230.5h1.5v1.5h-1.5zM72.9,233.8h1.5v1.5h-1.5zM71.9,229.0h1.5v1.5h-1.5zM71.1,223.8h1.5v1.5h-1.5zM70.8,225.1h1.5v1.5h-1.5zM71.1,223.8h1.5v1.5h-1.5zM72.3,220.9h1.5v1.5h-1.5zM71.5,222.2h1.5v1.5h-1.5zM70.7,206.1h1.5v1.5h-1.5zM69.9,213.7h1.5v1.5h-1.5zM73.1,215.6h1.5v1.5h-1.5zM75.5,216.9h1.5v1.5h-1.5zM69.1,223.7h1.5v1.5h-1.5zM70.2,232.6h1.5v1.5h-1.5zM72.3,237.0h1.5v1.5h-1.5zM98.3,236.6h1.5v1.5h-1.5zM95.5,244.6h1.5v1.5h-1.5zM109.4,245.4h1.5v1.5h-1.5zM92.0,244.6h1.5v1.5h-1.5zM77.9,219.3h1.5v1.5h-1.5z" fill="#548ab8"/>
<path d="M130.3,218.8L132.0,218.8L133.6,219.3L135.0,220.4L136.9,220.4L138.4,221.3L139.8,221.5L140.4,223.4L141.9,223.3L143.5,223.4L144.7,224.2L145.4,225.7L146.6,226.5L147.5,227.7L149.4,227.6L149.9,229.5L151.0,230.5L153.1,230.3L154.0,231.8L154.2,233.8L155.1,235.1L155.9,236.4L157.6,237.2L158.7,238.3L159.2,240.0L159.7,241.8L161.4,242.5L160.9,245.1L159.6,245.6L158.2,245.6L156.8,245.9L155.3,244.9L153.7,245.1L151.9,245.2L150.6,243.9L148.8,243.8L147.3,243.2L145.8,242.9L144.3,242.4L143.4,240.6L141.6,240.9L140.3,240.6L139.5,239.2L138.5,238.2L136.8,238.5L136.1,237.3L135.4,236.0L134.3,235.0L133.0,234.4L131.7,233.3L130.9,232.0L130.9,230.3L130.2,229.1L130.0,227.7L129.0,226.4L130.6,225.2L130.0,223.0L131.0,221.9L131.7,221.1L131.1,219.8Z" fill="#548ab8"/>
<path d="M130.3,217.8h1.5v1.5h-1.5zM132.6,216.4h1.5v1.5h-1.5zM135.7,219.4h1.5v1.5h-1.5zM134.5,218.7h1.5v1.5h-1.5zM134.6,218.7h1.5v1.5h-1.5zM138.9,219.6h1.5v1.5h-1.5zM141.4,220.2h1.5v1.5h-1.5zM139.8,221.6h1.5v1.5h-1.5zM139.9,220.8h1.5v1.5h-1.5zM145.7,224.9h1.5v1.5h-1.5zM143.2,223.5h1.5v1.5h-1.5zM143.0,222.3h1.5v1.5h-1.5zM144.6,221.1h1.5v1.5h-1.5zM149.1,226.2h1.5v1.5h-1.5zM148.2,226.8h1.5v1.5h-1.5zM151.6,228.1h1.5v1.5h-1.5zM154.8,232.3h1.5v1.5h-1.5zM155.3,233.3h1.5v1.5h-1.5zM156.0,233.0h1.5v1.5h-1.5zM155.7,233.9h1.5v1.5h-1.5zM157.2,236.6h1.5v1.5h-1.5zM159.8,239.8h1.5v1.5h-1.5zM159.9,240.4h1.5v1.5h-1.5zM160.4,240.7h1.5v1.5h-1.5zM160.4,242.9h1.5v1.5h-1.5zM158.9,244.4h1.5v1.5h-1.5zM156.4,245.4h1.5v1.5h-1.5zM152.0,245.0h1.5v1.5h-1.5zM154.5,245.2h1.5v1.5h-1.5zM146.6,244.0h1.5v1.5h-1.5zM149.9,243.7h1.5v1.5h-1.5zM149.9,244.2h1.5v1.5h-1.5zM141.3,242.1h1.5v1.5h-1.5zM143.2,241.4h1.5v1.5h-1.5zM141.2,241.7h1.5v1.5h-1.5zM137.0,238.4h1.5v1.5h-1.5zM136.3,240.3h1.5v1.5h-1.5zM139.4,240.3h1.5v1.5h-1.5zM132.6,234.9h1.5v1.5h-1.5zM134.8,238.3h1.5v1.5h-1.5zM132.8,234.8h1.5v1.5h-1.5zM130.3,232.2h1.5v1.5h-1.5zM131.5,233.1h1.5v1.5h-1.5zM130.8,233.5h1.5v1.5h-1.5zM129.4,229.2h1.5v1.5h-1.5zM128.0,225.9h1.5v1.5h-1.5zM128.8,229.6h1.5v1.5h-1.5zM128.3,224.4h1.5v1.5h-1.5zM128.4,225.7h1.5v1.5h-1.5zM130.4,221.0h1.5v1.5h-1.5zM130.5,220.4h1.5v1.5h-1.5zM129.5,217.9h1.5v1.5h-1.5zM120.1,206.1h1.5v1.5h-1.5zM125.2,213.4h1.5v1.5h-1.5zM126.1,215.6h1.5v1.5h-1.5zM124.5,225.3h1.5v1.5h-1.5zM127.3,216.1h1.5v1.5h-1.5zM160.4,245.4h1.5v1.5h-1.5zM147.3,243.4h1.5v1.5h-1.5z" fill="#548ab8"/>
<path d="M173.7,239.1L174.3,237.9L175.1,236.9L175.9,236.1L176.7,234.3L178.2,233.5L179.6,232.5L180.7,231.4L182.2,230.7L182.6,228.8L183.9,227.9L185.8,228.1L186.4,226.4L187.7,225.7L189.2,225.4L190.2,224.4L191.2,223.6L192.9,223.9L193.7,222.5L195.6,223.0L196.9,221.4L199.1,221.5L200.0,220.0L201.3,218.9L202.2,217.1L203.8,216.1L203.8,217.4L203.4,218.9L204.7,220.1L203.8,221.5L203.4,222.8L203.9,224.3L203.5,225.5L202.9,226.8L202.3,228.1L201.7,229.1L201.5,231.1L199.9,232.0L199.1,233.5L197.7,234.1L197.0,235.4L196.5,237.0L195.2,237.6L193.8,238.5L192.2,239.3L191.3,241.0L189.7,241.3L188.6,242.6L187.5,243.6L185.8,243.8L184.8,245.2L183.5,244.7L181.7,245.1L180.0,245.2L178.7,243.7L176.6,244.0L175.6,242.3L174.7,241.1L174.2,239.7Z" fill="#548ab8"/>
<path d="M172.1,237.2h1.5v1.5h-1.5zM173.8,234.7h1.5v1.5h-1.5zM172.9,233.6h1.5v1.5h-1.5zM178.2,231.3h1.5v1.5h-1.5zM176.3,232.1h1.5v1.5h-1.5zM177.8,230.8h1.5v1.5h-1.5zM179.6,230.4h1.5v1.5h-1.5zM179.5,230.1h1.5v1.5h-1.5zM181.7,226.3h1.5v1.5h-1.5zM188.0,224.1h1.5v1.5h-1.5zM183.4,225.9h1.5v1.5h-1.5zM187.3,223.6h1.5v1.5h-1.5zM189.3,223.4h1.5v1.5h-1.5zM190.4,222.8h1.5v1.5h-1.5zM189.2,223.5h1.5v1.5h-1.5zM192.4,219.7h1.5v1.5h-1.5zM193.3,219.3h1.5v1.5h-1.5zM196.6,218.7h1.5v1.5h-1.5zM198.9,216.9h1.5v1.5h-1.5zM198.9,218.3h1.5v1.5h-1.5zM201.9,216.1h1.5v1.5h-1.5zM200.8,217.2h1.5v1.5h-1.5zM203.6,216.3h1.5v1.5h-1.5zM203.4,215.9h1.5v1.5h-1.5zM203.5,224.4h1.5v1.5h-1.5zM203.4,224.8h1.5v1.5h-1.5zM204.3,224.4h1.5v1.5h-1.5zM204.1,220.5h1.5v1.5h-1.5zM206.4,230.8h1.5v1.5h-1.5zM201.9,228.7h1.5v1.5h-1.5zM204.6,226.8h1.5v1.5h-1.5zM202.7,229.8h1.5v1.5h-1.5zM200.8,230.4h1.5v1.5h-1.5zM202.9,229.8h1.5v1.5h-1.5zM196.3,235.3h1.5v1.5h-1.5zM198.7,234.5h1.5v1.5h-1.5zM195.8,235.9h1.5v1.5h-1.5zM198.3,233.3h1.5v1.5h-1.5zM192.7,239.7h1.5v1.5h-1.5zM191.7,240.1h1.5v1.5h-1.5zM193.8,237.6h1.5v1.5h-1.5zM187.5,242.4h1.5v1.5h-1.5zM188.0,243.6h1.5v1.5h-1.5zM188.6,241.4h1.5v1.5h-1.5zM186.5,244.2h1.5v1.5h-1.5zM185.1,243.6h1.5v1.5h-1.5zM185.4,244.1h1.5v1.5h-1.5zM180.9,244.7h1.5v1.5h-1.5zM179.9,245.4h1.5v1.5h-1.5zM177.7,244.7h1.5v1.5h-1.5zM178.5,245.4h1.5v1.5h-1.5zM174.2,242.2h1.5v1.5h-1.5zM174.4,245.0h1.5v1.5h-1.5zM172.1,240.4h1.5v1.5h-1.5zM173.1,240.6h1.5v1.5h-1.5zM212.4,206.1h1.5v1.5h-1.5zM204.2,213.4h1.5v1.5h-1.5zM201.8,215.3h1.5v1.5h-1.5zM172.1,237.4h1.5v1.5h-1.5zM172.6,241.0h1.5v1.5h-1.5zM176.9,245.0h1.5v1.5h-1.5zM181.7,245.4h1.5v1.5h-1.5z" fill="#548ab8"/>
<path d="M17.5,257.8L19.3,258.2L20.3,259.5L21.6,260.6L22.1,262.2L22.7,263.5L23.8,264.5L24.3,265.9L26.2,266.4L26.0,268.0L26.6,269.2L27.8,270.1L27.9,271.6L29.2,272.4L29.6,273.7L30.3,274.9L30.4,276.6L31.6,277.1L32.4,278.2L33.9,279.5L35.1,278.1L36.5,278.3L38.1,279.3L39.2,278.0L40.7,278.1L42.0,277.7L43.5,276.9L44.8,277.1L46.9,276.7L46.3,278.3L45.5,279.6L44.4,280.3L43.2,281.2L42.7,282.7L41.1,283.1L39.8,284.0L38.5,284.9L36.7,284.9L35.7,286.2L34.9,287.9L33.0,287.7L32.0,289.2L30.7,289.9L29.0,289.9L28.0,290.9L27.4,292.2L26.0,293.2L24.9,294.6L23.4,295.5L22.2,296.5L20.3,296.0L19.3,297.5L17.5,297.1L17.6,295.7L18.0,294.4L17.9,293.1L17.9,291.8L17.5,290.5L18.1,289.2L18.0,287.9L17.7,286.6L18.0,285.3L18.1,284.0L17.5,282.7L17.5,281.4L17.8,280.0L17.9,278.7L18.3,277.4L18.1,276.1L18.4,274.8L17.7,273.5L17.7,272.2L18.5,270.9L17.5,269.6L18.1,268.3L17.5,267.0L17.5,265.7L17.5,264.3L18.3,263.0L17.9,261.7L17.5,260.4L18.6,259.1Z" fill="#548ab8"/>
<path d="M17.1,257.1h1.5v1.5h-1.5zM22.2,259.9h1.5v1.5h-1.5zM18.9,257.5h1.5v1.5h-1.5zM20.7,258.8h1.5v1.5h-1.5zM24.7,265.1h1.5v1.5h-1.5zM24.6,263.2h1.5v1.5h-1.5zM23.6,261.1h1.5v1.5h-1.5zM28.0,266.8h1.5v1.5h-1.5zM27.2,269.5h1.5v1.5h-1.5zM25.9,266.9h1.5v1.5h-1.5zM29.5,274.7h1.5v1.5h-1.5zM31.0,272.0h1.5v1.5h-1.5zM29.9,275.1h1.5v1.5h-1.5zM30.4,275.3h1.5v1.5h-1.5zM31.5,276.7h1.5v1.5h-1.5zM35.5,276.4h1.5v1.5h-1.5zM36.5,275.9h1.5v1.5h-1.5zM38.0,276.6h1.5v1.5h-1.5zM40.5,275.6h1.5v1.5h-1.5zM44.1,275.3h1.5v1.5h-1.5zM41.9,275.2h1.5v1.5h-1.5zM46.8,275.7h1.5v1.5h-1.5zM46.5,276.8h1.5v1.5h-1.5zM46.7,276.8h1.5v1.5h-1.5zM44.3,281.8h1.5v1.5h-1.5zM43.6,281.3h1.5v1.5h-1.5zM43.1,281.1h1.5v1.5h-1.5zM40.2,283.3h1.5v1.5h-1.5zM41.0,282.6h1.5v1.5h-1.5zM40.0,283.4h1.5v1.5h-1.5zM37.3,285.4h1.5v1.5h-1.5zM36.0,285.7h1.5v1.5h-1.5zM34.5,288.3h1.5v1.5h-1.5zM32.1,287.8h1.5v1.5h-1.5zM32.6,288.0h1.5v1.5h-1.5zM27.6,291.0h1.5v1.5h-1.5zM29.0,290.2h1.5v1.5h-1.5zM25.3,294.0h1.5v1.5h-1.5zM24.4,294.8h1.5v1.5h-1.5zM25.5,294.0h1.5v1.5h-1.5zM23.2,295.7h1.5v1.5h-1.5zM20.6,296.4h1.5v1.5h-1.5zM17.6,296.4h1.5v1.5h-1.5zM17.1,274.1h1.5v1.5h-1.5zM17.1,260.2h1.5v1.5h-1.5zM17.1,275.2h1.5v1.5h-1.5zM17.1,276.0h1.5v1.5h-1.5zM17.1,269.4h1.5v1.5h-1.5zM17.1,282.3h1.5v1.5h-1.5zM17.1,282.5h1.5v1.5h-1.5zM17.1,269.8h1.5v1.5h-1.5zM17.1,292.4h1.5v1.5h-1.5zM17.1,280.6h1.5v1.5h-1.5zM17.1,273.8h1.5v1.5h-1.5zM17.1,258.5h1.5v1.5h-1.5zM17.1,279.0h1.5v1.5h-1.5zM17.1,257.2h1.5v1.5h-1.5zM17.1,275.5h1.5v1.5h-1.5zM17.1,289.6h1.5v1.5h-1.5zM17.1,257.9h1.5v1.5h-1.5zM17.1,276.2h1.5v1.5h-1.5zM17.1,261.2h1.5v1.5h-1.5zM17.1,264.1h1.5v1.5h-1.5zM17.1,261.4h1.5v1.5h-1.5zM17.1,290.2h1.5v1.5h-1.5zM17.1,276.2h1.5v1.5h-1.5zM17.1,288.9h1.5v1.5h-1.5zM57.4,267.1h1.5v1.5h-1.5zM26.7,261.1h1.5v1.5h-1.5zM44.3,269.1h1.5v1.5h-1.5zM48.3,269.9h1.5v1.5h-1.5zM46.7,272.3h1.5v1.5h-1.5zM52.0,273.4h1.5v1.5h-1.5zM49.9,274.7h1.5v1.5h-1.5zM38.7,273.9h1.5v1.5h-1.5zM45.9,277.9h1.5v1.5h-1.5zM37.9,288.3h1.5v1.5h-1.5z" fill="#548ab8"/>
<path d="M69.6,296.6L70.6,295.5L71.3,294.2L72.8,293.6L73.1,292.1L74.8,291.6L74.9,289.9L74.8,288.2L76.0,287.1L76.9,285.8L76.9,284.2L78.6,283.2L79.3,281.9L78.8,280.0L79.8,278.8L80.4,277.5L81.4,276.4L80.6,274.7L81.6,273.6L81.7,272.2L82.9,271.2L83.0,269.7L82.9,268.2L84.1,267.2L84.9,266.1L85.6,264.7L86.0,263.2L86.8,261.9L87.4,260.9L88.5,259.6L88.8,258.5L90.3,258.9L90.9,260.1L92.1,261.2L91.8,262.6L92.8,264.2L91.8,265.9L93.1,267.4L92.1,269.0L92.5,270.6L91.8,272.2L92.7,273.8L91.8,275.3L91.1,276.6L90.9,278.1L91.7,279.7L90.5,280.7L89.7,281.8L89.8,283.5L88.5,284.3L87.5,285.1L87.3,286.8L86.3,287.8L84.9,288.5L83.8,289.2L82.6,289.9L82.1,291.7L80.7,292.3L79.0,292.1L78.0,293.1L77.0,294.2L75.5,294.1L74.1,294.5L73.6,296.3L72.3,296.9L70.9,297.5Z" fill="#548ab8"/>
<path d="M70.1,293.1h1.5v1.5h-1.5zM69.1,295.4h1.5v1.5h-1.5zM72.8,289.4h1.5v1.5h-1.5zM72.7,290.5h1.5v1.5h-1.5zM71.8,291.0h1.5v1.5h-1.5zM70.9,291.9h1.5v1.5h-1.5zM73.3,287.8h1.5v1.5h-1.5zM74.1,288.5h1.5v1.5h-1.5zM73.8,287.9h1.5v1.5h-1.5zM75.2,284.2h1.5v1.5h-1.5zM77.7,279.3h1.5v1.5h-1.5zM76.5,282.4h1.5v1.5h-1.5zM74.8,282.2h1.5v1.5h-1.5zM77.4,280.1h1.5v1.5h-1.5zM79.1,274.8h1.5v1.5h-1.5zM79.3,276.3h1.5v1.5h-1.5zM79.5,271.4h1.5v1.5h-1.5zM77.8,275.2h1.5v1.5h-1.5zM81.3,269.8h1.5v1.5h-1.5zM82.7,266.8h1.5v1.5h-1.5zM80.3,268.9h1.5v1.5h-1.5zM81.1,267.9h1.5v1.5h-1.5zM83.6,263.2h1.5v1.5h-1.5zM83.2,264.2h1.5v1.5h-1.5zM84.1,262.7h1.5v1.5h-1.5zM86.6,258.5h1.5v1.5h-1.5zM86.2,258.8h1.5v1.5h-1.5zM89.8,257.3h1.5v1.5h-1.5zM89.0,257.1h1.5v1.5h-1.5zM92.3,259.2h1.5v1.5h-1.5zM91.5,261.0h1.5v1.5h-1.5zM91.8,259.0h1.5v1.5h-1.5zM92.1,263.3h1.5v1.5h-1.5zM92.6,262.6h1.5v1.5h-1.5zM93.5,263.4h1.5v1.5h-1.5zM92.2,265.6h1.5v1.5h-1.5zM92.4,271.6h1.5v1.5h-1.5zM93.1,270.1h1.5v1.5h-1.5zM92.7,270.8h1.5v1.5h-1.5zM92.0,271.9h1.5v1.5h-1.5zM90.9,278.4h1.5v1.5h-1.5zM91.3,277.9h1.5v1.5h-1.5zM91.3,277.5h1.5v1.5h-1.5zM91.8,275.1h1.5v1.5h-1.5zM88.8,285.3h1.5v1.5h-1.5zM89.2,285.3h1.5v1.5h-1.5zM90.3,281.1h1.5v1.5h-1.5zM85.6,288.4h1.5v1.5h-1.5zM87.6,287.1h1.5v1.5h-1.5zM86.7,287.1h1.5v1.5h-1.5zM83.4,289.3h1.5v1.5h-1.5zM82.9,289.8h1.5v1.5h-1.5zM82.3,290.4h1.5v1.5h-1.5zM76.4,294.6h1.5v1.5h-1.5zM77.7,293.3h1.5v1.5h-1.5zM75.6,294.3h1.5v1.5h-1.5zM74.5,296.1h1.5v1.5h-1.5zM71.7,296.0h1.5v1.5h-1.5zM73.1,295.3h1.5v1.5h-1.5zM69.1,296.4h1.5v1.5h-1.5zM109.4,267.1h1.5v1.5h-1.5zM80.8,261.1h1.5v1.5h-1.5zM89.5,257.1h1.5v1.5h-1.5zM94.7,261.1h1.5v1.5h-1.5zM98.3,264.3h1.5v1.5h-1.5zM95.5,271.2h1.5v1.5h-1.5zM93.1,263.8h1.5v1.5h-1.5zM92.3,284.0h1.5v1.5h-1.5zM69.1,296.4h1.5v1.5h-1.5z" fill="#548ab8"/>
<path d="M141.5,259.6L143.2,258.8L145.2,258.9L145.3,260.5L146.8,261.2L146.3,262.9L147.8,264.2L147.9,265.9L148.3,267.8L149.7,268.9L151.3,269.8L151.7,271.9L152.8,273.0L154.5,273.0L155.6,273.8L156.7,274.7L157.2,276.1L158.6,276.9L159.1,278.4L159.2,279.7L159.9,281.0L160.5,282.3L161.1,283.0L160.2,284.3L159.1,285.2L158.7,287.0L157.0,287.6L155.2,288.1L154.4,289.8L153.5,291.0L152.0,291.4L150.5,291.7L149.8,293.4L147.7,292.9L146.5,294.5L144.8,294.8L143.1,294.8L141.7,295.8L139.9,296.3L138.5,295.3L136.9,295.0L134.9,295.3L134.8,293.3L133.8,292.4L132.4,292.1L132.0,290.4L130.8,289.0L130.9,287.5L130.9,286.1L130.8,284.7L130.8,283.3L130.3,281.7L131.4,280.5L131.6,279.0L133.2,278.0L133.4,276.4L133.7,275.0L133.3,273.3L135.0,272.3L134.6,270.7L135.4,269.2L136.4,267.7L136.2,265.9L137.4,264.8L137.9,263.3L138.7,262.1L140.2,261.4L140.8,260.0Z" fill="#548ab8"/>
<path d="M143.5,257.1h1.5v1.5h-1.5zM141.8,257.9h1.5v1.5h-1.5zM147.0,260.1h1.5v1.5h-1.5zM146.0,260.3h1.5v1.5h-1.5zM148.1,266.3h1.5v1.5h-1.5zM147.7,265.5h1.5v1.5h-1.5zM148.9,264.8h1.5v1.5h-1.5zM150.0,268.7h1.5v1.5h-1.5zM148.6,266.7h1.5v1.5h-1.5zM149.5,268.2h1.5v1.5h-1.5zM152.8,271.0h1.5v1.5h-1.5zM154.6,270.3h1.5v1.5h-1.5zM153.1,271.6h1.5v1.5h-1.5zM155.6,273.4h1.5v1.5h-1.5zM157.4,274.2h1.5v1.5h-1.5zM158.4,276.5h1.5v1.5h-1.5zM159.7,276.8h1.5v1.5h-1.5zM159.6,278.8h1.5v1.5h-1.5zM160.4,279.1h1.5v1.5h-1.5zM160.0,280.4h1.5v1.5h-1.5zM160.4,282.9h1.5v1.5h-1.5zM158.5,286.6h1.5v1.5h-1.5zM160.4,283.7h1.5v1.5h-1.5zM156.1,287.4h1.5v1.5h-1.5zM155.5,287.6h1.5v1.5h-1.5zM154.5,289.5h1.5v1.5h-1.5zM153.0,289.6h1.5v1.5h-1.5zM150.8,292.8h1.5v1.5h-1.5zM152.4,290.2h1.5v1.5h-1.5zM151.5,292.4h1.5v1.5h-1.5zM145.4,294.0h1.5v1.5h-1.5zM148.5,293.9h1.5v1.5h-1.5zM147.5,293.3h1.5v1.5h-1.5zM144.0,294.9h1.5v1.5h-1.5zM141.3,296.2h1.5v1.5h-1.5zM141.1,296.4h1.5v1.5h-1.5zM137.7,295.6h1.5v1.5h-1.5zM138.7,296.0h1.5v1.5h-1.5zM138.4,295.5h1.5v1.5h-1.5zM133.2,294.5h1.5v1.5h-1.5zM133.5,295.3h1.5v1.5h-1.5zM130.9,292.8h1.5v1.5h-1.5zM130.2,289.6h1.5v1.5h-1.5zM129.6,289.7h1.5v1.5h-1.5zM127.9,288.2h1.5v1.5h-1.5zM129.4,285.6h1.5v1.5h-1.5zM129.1,284.8h1.5v1.5h-1.5zM128.1,281.0h1.5v1.5h-1.5zM127.0,281.5h1.5v1.5h-1.5zM131.0,277.6h1.5v1.5h-1.5zM128.9,277.0h1.5v1.5h-1.5zM130.2,278.1h1.5v1.5h-1.5zM132.7,271.5h1.5v1.5h-1.5zM131.4,274.8h1.5v1.5h-1.5zM132.0,273.2h1.5v1.5h-1.5zM132.2,273.0h1.5v1.5h-1.5zM134.5,265.4h1.5v1.5h-1.5zM132.3,268.8h1.5v1.5h-1.5zM134.0,268.6h1.5v1.5h-1.5zM135.2,263.8h1.5v1.5h-1.5zM135.1,264.3h1.5v1.5h-1.5zM136.6,262.7h1.5v1.5h-1.5zM138.7,258.6h1.5v1.5h-1.5zM140.0,258.6h1.5v1.5h-1.5zM120.1,293.6h1.5v1.5h-1.5zM136.9,257.1h1.5v1.5h-1.5zM160.4,267.0h1.5v1.5h-1.5zM157.7,269.9h1.5v1.5h-1.5zM152.9,268.3h1.5v1.5h-1.5zM124.9,284.3h1.5v1.5h-1.5zM127.3,286.7h1.5v1.5h-1.5zM125.7,290.7h1.5v1.5h-1.5zM128.1,294.2h1.5v1.5h-1.5zM125.2,295.8h1.5v1.5h-1.5zM137.7,296.3h1.5v1.5h-1.5zM160.4,280.3h1.5v1.5h-1.5z" fill="#548ab8"/>
<path d="M172.5,285.6L173.9,284.0L175.0,282.5L176.0,280.9L176.3,279.4L176.6,278.0L176.8,276.5L176.5,274.8L177.2,273.2L176.9,271.5L178.8,271.0L179.2,269.3L180.9,268.1L181.8,265.9L181.5,264.5L183.1,263.8L184.5,262.8L186.3,262.5L187.7,262.2L189.3,261.4L190.5,261.4L192.1,261.1L193.6,262.7L194.8,261.1L196.7,261.4L197.8,260.0L199.5,260.0L200.5,259.0L200.9,257.9L201.1,257.7L201.6,259.4L202.6,261.1L202.6,262.4L203.3,263.8L203.5,265.1L202.0,266.5L202.9,267.8L202.5,269.2L203.3,270.5L203.4,271.9L203.1,273.2L203.4,274.6L203.0,276.0L202.7,277.3L202.6,278.7L204.1,279.9L203.5,281.3L203.6,282.7L203.9,284.0L203.2,285.4L203.5,287.0L204.2,288.6L205.0,290.2L203.5,291.9L203.8,293.5L204.0,295.1L204.7,295.9L203.0,296.8L201.6,296.2L200.3,295.3L198.9,294.9L197.3,295.0L195.9,294.8L194.6,295.3L193.3,295.3L192.0,294.7L190.6,294.8L189.3,294.5L188.1,293.9L186.7,293.7L185.1,294.1L183.6,294.4L181.9,294.8L180.5,294.6L179.3,294.1L177.8,292.9L177.2,290.3L175.5,290.7L175.9,289.3L175.6,287.1L174.3,286.1Z" fill="#548ab8"/>
<path d="M172.1,284.2h1.5v1.5h-1.5zM172.5,280.6h1.5v1.5h-1.5zM172.1,282.0h1.5v1.5h-1.5zM175.1,277.3h1.5v1.5h-1.5zM173.9,278.2h1.5v1.5h-1.5zM173.4,277.4h1.5v1.5h-1.5zM176.1,271.5h1.5v1.5h-1.5zM175.9,272.1h1.5v1.5h-1.5zM175.3,271.9h1.5v1.5h-1.5zM176.0,267.6h1.5v1.5h-1.5zM177.8,269.1h1.5v1.5h-1.5zM179.9,265.8h1.5v1.5h-1.5zM179.5,265.0h1.5v1.5h-1.5zM178.9,264.1h1.5v1.5h-1.5zM180.3,263.8h1.5v1.5h-1.5zM180.8,261.9h1.5v1.5h-1.5zM181.0,261.5h1.5v1.5h-1.5zM185.0,260.0h1.5v1.5h-1.5zM185.4,258.3h1.5v1.5h-1.5zM188.3,258.5h1.5v1.5h-1.5zM189.4,260.0h1.5v1.5h-1.5zM191.3,260.0h1.5v1.5h-1.5zM195.1,259.4h1.5v1.5h-1.5zM192.6,260.8h1.5v1.5h-1.5zM195.8,259.8h1.5v1.5h-1.5zM196.6,259.2h1.5v1.5h-1.5zM198.0,258.7h1.5v1.5h-1.5zM199.1,258.3h1.5v1.5h-1.5zM201.8,257.7h1.5v1.5h-1.5zM202.0,258.5h1.5v1.5h-1.5zM203.5,267.4h1.5v1.5h-1.5zM203.1,265.4h1.5v1.5h-1.5zM202.4,263.3h1.5v1.5h-1.5zM204.0,266.7h1.5v1.5h-1.5zM203.3,267.9h1.5v1.5h-1.5zM202.6,271.7h1.5v1.5h-1.5zM202.9,271.1h1.5v1.5h-1.5zM203.4,276.4h1.5v1.5h-1.5zM202.8,271.4h1.5v1.5h-1.5zM202.8,270.3h1.5v1.5h-1.5zM203.0,277.9h1.5v1.5h-1.5zM203.3,278.9h1.5v1.5h-1.5zM203.9,282.4h1.5v1.5h-1.5zM203.7,284.1h1.5v1.5h-1.5zM204.1,283.9h1.5v1.5h-1.5zM204.2,289.6h1.5v1.5h-1.5zM203.8,290.2h1.5v1.5h-1.5zM205.5,287.6h1.5v1.5h-1.5zM203.8,286.4h1.5v1.5h-1.5zM204.3,292.1h1.5v1.5h-1.5zM204.6,292.0h1.5v1.5h-1.5zM204.8,295.3h1.5v1.5h-1.5zM202.0,296.0h1.5v1.5h-1.5zM201.2,296.4h1.5v1.5h-1.5zM196.8,295.3h1.5v1.5h-1.5zM196.8,294.6h1.5v1.5h-1.5zM198.9,296.4h1.5v1.5h-1.5zM196.4,294.8h1.5v1.5h-1.5zM196.4,295.1h1.5v1.5h-1.5zM195.3,295.0h1.5v1.5h-1.5zM188.7,295.0h1.5v1.5h-1.5zM188.5,294.4h1.5v1.5h-1.5zM189.9,295.5h1.5v1.5h-1.5zM185.4,293.8h1.5v1.5h-1.5zM185.1,294.1h1.5v1.5h-1.5zM186.2,294.6h1.5v1.5h-1.5zM183.5,294.7h1.5v1.5h-1.5zM183.7,294.6h1.5v1.5h-1.5zM178.6,296.4h1.5v1.5h-1.5zM179.9,294.0h1.5v1.5h-1.5zM177.9,293.8h1.5v1.5h-1.5zM176.0,292.0h1.5v1.5h-1.5zM174.5,294.3h1.5v1.5h-1.5zM176.1,290.3h1.5v1.5h-1.5zM174.0,288.3h1.5v1.5h-1.5zM173.9,287.2h1.5v1.5h-1.5zM172.1,285.3h1.5v1.5h-1.5zM173.5,287.9h1.5v1.5h-1.5zM212.4,293.4h1.5v1.5h-1.5zM186.7,296.1h1.5v1.5h-1.5zM193.3,296.3h1.5v1.5h-1.5zM196.6,296.4h1.5v1.5h-1.5zM199.4,296.3h1.5v1.5h-1.5zM204.2,296.3h1.5v1.5h-1.5zM179.6,291.1h1.5v1.5h-1.5z" fill="#548ab8"/>
<path d="M245.0,259.2L246.9,259.0L247.3,260.3L248.4,261.6L247.3,263.1L248.5,264.4L248.5,265.8L248.1,267.5L248.3,269.1L248.6,270.7L248.6,272.3L249.9,273.8L250.1,275.4L249.4,277.1L249.9,278.7L250.3,280.3L250.9,281.8L250.1,283.5L250.4,285.0L249.9,286.6L250.0,288.2L251.3,289.9L251.1,291.6L250.3,292.8L250.2,294.2L249.2,294.5L248.0,295.5L246.6,295.5L245.5,296.3L244.1,295.5L242.7,295.8L241.3,295.3L239.6,296.2L238.9,294.7L237.8,293.8L236.0,294.2L235.2,292.8L234.1,291.7L232.7,290.9L231.7,289.6L230.6,288.8L229.9,287.5L229.0,286.4L227.4,285.7L227.1,284.2L227.3,282.8L227.3,281.3L227.2,279.9L226.8,278.8L226.2,277.1L228.1,276.1L227.3,274.4L228.2,273.3L228.6,271.6L229.8,270.5L230.4,268.9L231.3,267.6L231.8,266.2L232.8,265.2L233.7,264.0L234.1,262.4L236.0,262.3L237.4,261.4L239.3,261.5L240.6,261.1L241.9,260.5L242.9,258.9Z" fill="#548ab8"/>
<path d="M246.4,258.6h1.5v1.5h-1.5zM246.9,258.7h1.5v1.5h-1.5zM248.0,263.0h1.5v1.5h-1.5zM247.8,264.3h1.5v1.5h-1.5zM248.0,262.6h1.5v1.5h-1.5zM250.1,264.3h1.5v1.5h-1.5zM248.3,266.5h1.5v1.5h-1.5zM249.3,269.8h1.5v1.5h-1.5zM252.2,266.5h1.5v1.5h-1.5zM248.7,266.4h1.5v1.5h-1.5zM249.6,276.7h1.5v1.5h-1.5zM249.5,273.5h1.5v1.5h-1.5zM249.5,277.2h1.5v1.5h-1.5zM250.0,275.8h1.5v1.5h-1.5zM251.0,280.0h1.5v1.5h-1.5zM250.3,283.4h1.5v1.5h-1.5zM254.4,282.9h1.5v1.5h-1.5zM250.1,290.1h1.5v1.5h-1.5zM250.1,289.0h1.5v1.5h-1.5zM251.2,285.4h1.5v1.5h-1.5zM250.6,284.9h1.5v1.5h-1.5zM250.1,290.9h1.5v1.5h-1.5zM249.8,294.2h1.5v1.5h-1.5zM248.3,294.8h1.5v1.5h-1.5zM244.8,296.1h1.5v1.5h-1.5zM245.2,295.8h1.5v1.5h-1.5zM243.7,296.4h1.5v1.5h-1.5zM241.9,295.6h1.5v1.5h-1.5zM242.6,296.1h1.5v1.5h-1.5zM235.4,293.3h1.5v1.5h-1.5zM238.1,294.9h1.5v1.5h-1.5zM238.7,295.0h1.5v1.5h-1.5zM230.4,290.2h1.5v1.5h-1.5zM231.2,290.6h1.5v1.5h-1.5zM228.9,292.0h1.5v1.5h-1.5zM229.4,289.6h1.5v1.5h-1.5zM227.9,286.7h1.5v1.5h-1.5zM224.7,290.5h1.5v1.5h-1.5zM228.8,288.7h1.5v1.5h-1.5zM226.3,284.0h1.5v1.5h-1.5zM224.4,278.9h1.5v1.5h-1.5zM225.5,278.4h1.5v1.5h-1.5zM225.4,279.6h1.5v1.5h-1.5zM225.1,280.0h1.5v1.5h-1.5zM225.6,274.8h1.5v1.5h-1.5zM226.8,272.2h1.5v1.5h-1.5zM225.4,274.1h1.5v1.5h-1.5zM229.0,268.3h1.5v1.5h-1.5zM228.5,268.4h1.5v1.5h-1.5zM227.1,270.6h1.5v1.5h-1.5zM226.2,269.8h1.5v1.5h-1.5zM229.0,264.8h1.5v1.5h-1.5zM231.5,263.8h1.5v1.5h-1.5zM230.8,263.4h1.5v1.5h-1.5zM230.9,265.4h1.5v1.5h-1.5zM237.2,258.6h1.5v1.5h-1.5zM233.5,261.4h1.5v1.5h-1.5zM237.0,259.0h1.5v1.5h-1.5zM239.3,258.2h1.5v1.5h-1.5zM240.2,258.8h1.5v1.5h-1.5zM238.5,259.4h1.5v1.5h-1.5zM243.2,257.8h1.5v1.5h-1.5zM224.1,267.0h1.5v1.5h-1.5zM247.9,257.1h1.5v1.5h-1.5zM264.4,293.6h1.5v1.5h-1.5zM256.4,295.8h1.5v1.5h-1.5zM254.3,287.8h1.5v1.5h-1.5zM252.7,283.5h1.5v1.5h-1.5zM224.3,283.5h1.5v1.5h-1.5zM225.5,273.9h1.5v1.5h-1.5zM251.1,290.7h1.5v1.5h-1.5zM247.1,296.3h1.5v1.5h-1.5z" fill="#548ab8"/>
<path d="M17.6,309.7L18.0,310.9L19.7,311.5L20.4,313.0L21.7,314.0L22.1,315.6L23.2,316.5L24.8,316.8L25.9,317.8L26.8,319.0L27.6,320.4L29.1,320.9L30.1,322.3L31.4,323.1L32.8,324.0L34.0,324.9L35.7,324.5L36.9,325.4L38.3,325.9L39.8,325.7L41.0,326.4L42.3,327.3L43.6,328.4L41.8,329.5L41.9,331.6L40.4,332.1L38.6,332.2L38.1,334.3L36.6,334.9L35.3,335.8L33.4,335.8L32.1,336.8L31.3,338.7L30.0,339.7L28.3,340.1L27.1,341.1L26.7,342.9L24.8,343.2L24.2,345.1L22.3,345.3L21.1,346.9L19.4,347.5L17.9,347.5L17.6,346.2L18.5,344.8L17.5,343.5L18.5,342.1L17.6,340.8L18.3,339.4L17.5,338.1L17.7,336.7L17.5,335.4L17.8,334.1L17.5,332.7L17.5,331.4L18.1,330.0L18.3,328.7L17.5,327.3L18.4,326.0L17.5,324.7L18.3,323.3L18.4,322.0L18.4,320.6L17.5,319.3L17.5,317.9L17.9,316.6L17.5,315.2L18.2,313.9L17.5,312.6L17.5,311.2Z" fill="#548ab8"/>
<path d="M18.9,310.2h1.5v1.5h-1.5zM19.2,310.5h1.5v1.5h-1.5zM18.0,309.5h1.5v1.5h-1.5zM22.5,314.3h1.5v1.5h-1.5zM24.5,316.4h1.5v1.5h-1.5zM24.7,314.6h1.5v1.5h-1.5zM22.2,313.6h1.5v1.5h-1.5zM26.7,318.3h1.5v1.5h-1.5zM27.5,319.2h1.5v1.5h-1.5zM27.0,317.8h1.5v1.5h-1.5zM32.1,322.4h1.5v1.5h-1.5zM32.7,321.8h1.5v1.5h-1.5zM30.2,320.5h1.5v1.5h-1.5zM34.6,323.1h1.5v1.5h-1.5zM36.3,323.1h1.5v1.5h-1.5zM32.6,322.1h1.5v1.5h-1.5zM38.7,323.3h1.5v1.5h-1.5zM38.2,324.4h1.5v1.5h-1.5zM38.8,323.7h1.5v1.5h-1.5zM40.9,325.0h1.5v1.5h-1.5zM42.3,325.8h1.5v1.5h-1.5zM43.8,328.4h1.5v1.5h-1.5zM42.6,327.9h1.5v1.5h-1.5zM38.5,332.9h1.5v1.5h-1.5zM41.3,331.7h1.5v1.5h-1.5zM39.8,332.4h1.5v1.5h-1.5zM36.0,334.5h1.5v1.5h-1.5zM38.9,336.2h1.5v1.5h-1.5zM36.1,334.0h1.5v1.5h-1.5zM31.3,337.5h1.5v1.5h-1.5zM33.1,335.9h1.5v1.5h-1.5zM30.4,339.3h1.5v1.5h-1.5zM27.6,340.7h1.5v1.5h-1.5zM28.0,340.6h1.5v1.5h-1.5zM27.5,340.9h1.5v1.5h-1.5zM25.8,342.4h1.5v1.5h-1.5zM24.0,344.0h1.5v1.5h-1.5zM23.8,344.0h1.5v1.5h-1.5zM20.2,346.4h1.5v1.5h-1.5zM20.2,346.4h1.5v1.5h-1.5zM17.1,346.4h1.5v1.5h-1.5zM17.1,344.6h1.5v1.5h-1.5zM17.1,345.2h1.5v1.5h-1.5zM17.1,335.7h1.5v1.5h-1.5zM17.1,324.8h1.5v1.5h-1.5zM17.1,325.7h1.5v1.5h-1.5zM17.1,312.4h1.5v1.5h-1.5zM17.1,315.1h1.5v1.5h-1.5zM17.1,316.7h1.5v1.5h-1.5zM17.1,332.0h1.5v1.5h-1.5zM17.1,332.5h1.5v1.5h-1.5zM17.1,338.3h1.5v1.5h-1.5zM17.1,343.2h1.5v1.5h-1.5zM17.1,319.3h1.5v1.5h-1.5zM17.1,321.2h1.5v1.5h-1.5zM17.1,315.6h1.5v1.5h-1.5zM17.1,312.0h1.5v1.5h-1.5zM17.1,311.4h1.5v1.5h-1.5zM17.1,335.8h1.5v1.5h-1.5zM17.1,318.5h1.5v1.5h-1.5zM17.1,311.8h1.5v1.5h-1.5zM17.1,328.5h1.5v1.5h-1.5zM17.1,324.3h1.5v1.5h-1.5zM17.1,343.4h1.5v1.5h-1.5zM17.1,307.1h1.5v1.5h-1.5zM57.4,319.5h1.5v1.5h-1.5zM52.0,319.5h1.5v1.5h-1.5zM37.9,319.5h1.5v1.5h-1.5zM42.7,319.5h1.5v1.5h-1.5zM39.5,321.9h1.5v1.5h-1.5zM44.3,323.5h1.5v1.5h-1.5zM48.3,323.5h1.5v1.5h-1.5zM46.7,325.9h1.5v1.5h-1.5zM42.7,329.9h1.5v1.5h-1.5zM46.7,330.4h1.5v1.5h-1.5zM48.3,334.3h1.5v1.5h-1.5zM37.9,336.4h1.5v1.5h-1.5zM41.1,324.3h1.5v1.5h-1.5zM36.3,321.9h1.5v1.5h-1.5zM33.1,321.9h1.5v1.5h-1.5zM34.7,327.5h1.5v1.5h-1.5zM38.7,328.3h1.5v1.5h-1.5zM44.3,327.5h1.5v1.5h-1.5zM41.9,332.3h1.5v1.5h-1.5z" fill="#548ab8"/>
<path d="M70.1,346.9L69.6,345.3L70.0,344.0L70.7,342.7L72.2,342.0L72.4,340.6L72.8,339.3L73.9,338.4L74.1,336.6L74.5,335.0L75.6,333.8L76.3,332.3L77.8,331.3L78.6,329.9L78.3,327.9L79.7,326.8L81.1,325.7L81.4,324.1L82.6,322.9L82.9,321.2L83.0,319.7L84.8,319.2L84.1,317.3L85.7,316.6L86.6,315.5L86.7,314.1L87.1,312.8L87.5,311.5L89.4,310.4L89.0,308.4L90.1,309.5L90.0,311.0L89.7,312.4L90.2,314.0L91.2,315.5L91.3,317.1L91.2,318.7L91.4,320.3L92.0,321.9L92.4,323.4L91.5,325.2L92.9,326.7L92.5,328.3L92.7,329.9L93.0,331.6L92.5,333.1L92.2,334.8L90.9,335.9L90.6,337.8L88.8,338.5L88.0,339.9L87.0,341.5L85.7,342.6L84.0,343.0L83.0,344.0L82.0,344.9L80.8,345.5L79.2,345.2L77.7,345.9L76.4,347.2L74.7,347.5L73.1,346.6L71.3,347.5Z" fill="#548ab8"/>
<path d="M69.8,342.3h1.5v1.5h-1.5zM69.1,342.8h1.5v1.5h-1.5zM69.1,343.9h1.5v1.5h-1.5zM71.6,338.3h1.5v1.5h-1.5zM71.6,338.0h1.5v1.5h-1.5zM69.5,341.3h1.5v1.5h-1.5zM71.9,336.7h1.5v1.5h-1.5zM71.9,336.2h1.5v1.5h-1.5zM72.1,336.1h1.5v1.5h-1.5zM73.1,335.0h1.5v1.5h-1.5zM76.8,326.0h1.5v1.5h-1.5zM77.0,328.8h1.5v1.5h-1.5zM74.4,330.2h1.5v1.5h-1.5zM75.4,330.6h1.5v1.5h-1.5zM80.0,322.9h1.5v1.5h-1.5zM79.0,324.6h1.5v1.5h-1.5zM79.3,324.7h1.5v1.5h-1.5zM78.1,323.8h1.5v1.5h-1.5zM83.2,316.2h1.5v1.5h-1.5zM83.4,316.9h1.5v1.5h-1.5zM83.6,316.7h1.5v1.5h-1.5zM86.4,311.2h1.5v1.5h-1.5zM85.5,312.7h1.5v1.5h-1.5zM84.7,312.1h1.5v1.5h-1.5zM85.3,307.1h1.5v1.5h-1.5zM86.2,310.2h1.5v1.5h-1.5zM87.0,307.8h1.5v1.5h-1.5zM91.0,307.1h1.5v1.5h-1.5zM89.7,309.1h1.5v1.5h-1.5zM90.3,313.7h1.5v1.5h-1.5zM90.3,312.8h1.5v1.5h-1.5zM93.2,313.3h1.5v1.5h-1.5zM92.0,317.8h1.5v1.5h-1.5zM91.4,322.0h1.5v1.5h-1.5zM92.7,321.8h1.5v1.5h-1.5zM91.4,323.0h1.5v1.5h-1.5zM91.7,322.5h1.5v1.5h-1.5zM94.1,329.5h1.5v1.5h-1.5zM93.1,330.1h1.5v1.5h-1.5zM93.2,329.6h1.5v1.5h-1.5zM92.3,328.1h1.5v1.5h-1.5zM91.4,335.5h1.5v1.5h-1.5zM90.9,335.3h1.5v1.5h-1.5zM92.0,335.7h1.5v1.5h-1.5zM89.4,337.5h1.5v1.5h-1.5zM90.7,338.7h1.5v1.5h-1.5zM89.3,338.9h1.5v1.5h-1.5zM84.6,343.7h1.5v1.5h-1.5zM86.0,340.9h1.5v1.5h-1.5zM85.8,342.8h1.5v1.5h-1.5zM81.2,343.9h1.5v1.5h-1.5zM83.6,344.2h1.5v1.5h-1.5zM81.9,344.4h1.5v1.5h-1.5zM81.5,344.2h1.5v1.5h-1.5zM77.3,345.7h1.5v1.5h-1.5zM77.7,346.4h1.5v1.5h-1.5zM76.9,346.4h1.5v1.5h-1.5zM73.8,346.4h1.5v1.5h-1.5zM73.3,346.4h1.5v1.5h-1.5zM69.6,346.4h1.5v1.5h-1.5zM109.4,319.5h1.5v1.5h-1.5zM88.8,307.1h1.5v1.5h-1.5zM95.5,325.1h1.5v1.5h-1.5zM94.3,328.8h1.5v1.5h-1.5zM98.3,336.0h1.5v1.5h-1.5zM93.1,340.0h1.5v1.5h-1.5zM87.5,343.6h1.5v1.5h-1.5zM69.1,343.6h1.5v1.5h-1.5zM69.1,346.4h1.5v1.5h-1.5z" fill="#548ab8"/>
<path d="M137.6,310.0L139.3,309.8L140.8,310.9L142.4,310.9L143.7,312.2L145.4,312.3L147.5,311.8L147.8,313.8L148.8,315.5L149.6,316.8L151.3,317.3L151.9,318.9L153.1,319.9L154.9,319.9L156.1,321.0L157.2,321.8L157.6,323.5L158.3,323.9L159.3,325.0L160.4,326.1L160.5,327.3L160.7,328.9L159.6,329.9L159.2,331.2L158.3,332.2L157.6,333.5L156.6,334.4L155.1,334.9L154.1,335.9L153.5,337.6L152.3,338.6L150.3,338.7L149.9,340.7L147.9,340.5L146.5,341.2L145.6,343.0L144.0,343.5L142.7,344.2L141.0,344.1L139.6,344.8L138.5,346.1L136.8,346.2L135.1,346.3L133.8,346.8L131.9,346.7L130.4,345.9L130.0,344.6L130.3,343.2L130.1,342.1L130.8,340.7L130.1,339.0L131.1,337.8L131.5,336.4L131.3,335.0L131.9,333.7L132.3,332.5L132.9,331.3L132.5,329.8L132.8,328.5L133.4,327.3L133.6,326.0L134.2,324.8L135.1,323.6L135.5,322.4L135.8,321.1L136.3,319.9L135.7,318.4L137.1,317.3L136.4,315.8L137.4,314.6L137.7,313.3L137.9,311.7Z" fill="#548ab8"/>
<path d="M141.6,309.3h1.5v1.5h-1.5zM141.7,309.7h1.5v1.5h-1.5zM140.9,309.6h1.5v1.5h-1.5zM144.2,309.2h1.5v1.5h-1.5zM143.0,309.9h1.5v1.5h-1.5zM142.3,309.4h1.5v1.5h-1.5zM149.6,313.7h1.5v1.5h-1.5zM147.6,313.5h1.5v1.5h-1.5zM150.8,316.3h1.5v1.5h-1.5zM149.7,315.5h1.5v1.5h-1.5zM151.6,315.5h1.5v1.5h-1.5zM155.1,319.1h1.5v1.5h-1.5zM153.8,318.9h1.5v1.5h-1.5zM155.2,318.2h1.5v1.5h-1.5zM157.2,318.7h1.5v1.5h-1.5zM158.2,322.4h1.5v1.5h-1.5zM157.6,321.2h1.5v1.5h-1.5zM160.0,323.4h1.5v1.5h-1.5zM159.6,323.7h1.5v1.5h-1.5zM160.4,329.7h1.5v1.5h-1.5zM159.2,330.6h1.5v1.5h-1.5zM159.6,328.1h1.5v1.5h-1.5zM156.8,334.8h1.5v1.5h-1.5zM157.8,333.0h1.5v1.5h-1.5zM157.2,332.4h1.5v1.5h-1.5zM157.7,332.0h1.5v1.5h-1.5zM149.3,339.5h1.5v1.5h-1.5zM152.4,337.2h1.5v1.5h-1.5zM153.3,336.2h1.5v1.5h-1.5zM152.1,337.4h1.5v1.5h-1.5zM144.6,342.9h1.5v1.5h-1.5zM144.7,342.3h1.5v1.5h-1.5zM148.6,341.0h1.5v1.5h-1.5zM146.6,341.6h1.5v1.5h-1.5zM140.4,344.3h1.5v1.5h-1.5zM139.8,344.5h1.5v1.5h-1.5zM139.0,344.6h1.5v1.5h-1.5zM136.5,345.7h1.5v1.5h-1.5zM137.5,345.9h1.5v1.5h-1.5zM134.3,346.4h1.5v1.5h-1.5zM131.6,346.4h1.5v1.5h-1.5zM129.5,346.0h1.5v1.5h-1.5zM128.7,342.3h1.5v1.5h-1.5zM128.1,343.8h1.5v1.5h-1.5zM128.2,336.9h1.5v1.5h-1.5zM128.8,340.3h1.5v1.5h-1.5zM128.6,340.7h1.5v1.5h-1.5zM129.5,333.4h1.5v1.5h-1.5zM130.3,330.1h1.5v1.5h-1.5zM129.8,334.4h1.5v1.5h-1.5zM131.1,330.6h1.5v1.5h-1.5zM131.3,328.1h1.5v1.5h-1.5zM132.5,324.4h1.5v1.5h-1.5zM132.5,327.4h1.5v1.5h-1.5zM131.7,324.9h1.5v1.5h-1.5zM134.6,317.5h1.5v1.5h-1.5zM134.7,318.2h1.5v1.5h-1.5zM134.7,317.3h1.5v1.5h-1.5zM134.9,316.0h1.5v1.5h-1.5zM134.4,313.8h1.5v1.5h-1.5zM133.9,315.9h1.5v1.5h-1.5zM136.0,311.2h1.5v1.5h-1.5zM136.3,310.5h1.5v1.5h-1.5zM120.1,346.4h1.5v1.5h-1.5zM136.9,307.1h1.5v1.5h-1.5zM160.4,319.5h1.5v1.5h-1.5zM160.4,327.5h1.5v1.5h-1.5zM125.7,339.6h1.5v1.5h-1.5zM124.9,344.4h1.5v1.5h-1.5zM127.3,342.0h1.5v1.5h-1.5zM128.1,346.4h1.5v1.5h-1.5zM159.3,319.5h1.5v1.5h-1.5zM147.3,312.3h1.5v1.5h-1.5z" fill="#548ab8"/>
<path d="M199.3,308.1L200.8,309.3L201.5,309.0L202.5,310.1L202.7,311.4L202.5,312.8L204.1,313.9L204.3,315.2L204.1,316.5L204.4,317.9L203.4,319.2L204.5,320.5L203.3,321.9L204.2,323.2L203.8,324.6L203.7,325.9L203.3,327.2L204.1,328.6L203.3,329.9L202.9,331.4L204.2,333.1L203.9,334.7L203.3,336.1L203.7,337.7L203.1,339.0L202.7,340.6L201.4,341.1L199.9,341.2L199.0,342.3L197.8,343.1L196.4,343.6L194.8,343.3L193.5,344.2L192.2,344.9L190.7,345.2L189.2,345.1L187.6,344.8L186.5,346.2L184.9,345.8L183.5,346.2L182.4,347.5L180.9,347.1L179.3,346.5L177.7,347.5L176.1,347.5L174.9,346.4L172.9,345.9L174.2,344.6L174.0,343.3L174.6,342.2L173.6,340.4L174.3,339.1L175.9,338.0L176.1,336.6L176.8,335.4L176.1,333.7L177.6,332.8L176.8,331.0L178.7,330.3L178.0,328.4L179.1,327.2L179.3,325.6L181.0,324.9L180.8,323.0L182.6,322.5L182.3,320.6L183.0,319.1L184.8,318.6L186.3,317.8L187.2,316.2L188.9,316.4L189.7,315.2L190.7,314.1L192.2,314.2L193.9,313.6L195.3,312.7L197.8,312.5L197.7,310.7L198.3,309.4Z" fill="#548ab8"/>
<path d="M201.2,307.3h1.5v1.5h-1.5zM198.8,307.1h1.5v1.5h-1.5zM203.4,311.5h1.5v1.5h-1.5zM202.8,309.9h1.5v1.5h-1.5zM202.7,311.0h1.5v1.5h-1.5zM203.3,316.9h1.5v1.5h-1.5zM204.1,316.7h1.5v1.5h-1.5zM203.7,318.8h1.5v1.5h-1.5zM203.3,315.9h1.5v1.5h-1.5zM203.4,316.3h1.5v1.5h-1.5zM204.0,323.3h1.5v1.5h-1.5zM206.2,326.8h1.5v1.5h-1.5zM205.7,327.1h1.5v1.5h-1.5zM204.4,328.5h1.5v1.5h-1.5zM203.4,326.9h1.5v1.5h-1.5zM203.6,330.9h1.5v1.5h-1.5zM204.1,330.2h1.5v1.5h-1.5zM203.3,335.5h1.5v1.5h-1.5zM203.5,329.4h1.5v1.5h-1.5zM203.0,336.0h1.5v1.5h-1.5zM204.0,336.5h1.5v1.5h-1.5zM206.0,338.6h1.5v1.5h-1.5zM201.5,340.4h1.5v1.5h-1.5zM199.4,340.9h1.5v1.5h-1.5zM200.5,340.2h1.5v1.5h-1.5zM197.8,342.6h1.5v1.5h-1.5zM192.9,344.9h1.5v1.5h-1.5zM196.2,342.2h1.5v1.5h-1.5zM196.0,343.0h1.5v1.5h-1.5zM194.8,342.7h1.5v1.5h-1.5zM188.4,344.8h1.5v1.5h-1.5zM189.7,345.2h1.5v1.5h-1.5zM186.5,345.8h1.5v1.5h-1.5zM185.3,346.3h1.5v1.5h-1.5zM185.1,345.8h1.5v1.5h-1.5zM183.3,346.4h1.5v1.5h-1.5zM182.4,346.4h1.5v1.5h-1.5zM177.9,346.4h1.5v1.5h-1.5zM176.9,346.4h1.5v1.5h-1.5zM179.0,346.4h1.5v1.5h-1.5zM172.5,345.9h1.5v1.5h-1.5zM175.0,346.4h1.5v1.5h-1.5zM172.1,341.8h1.5v1.5h-1.5zM172.8,342.2h1.5v1.5h-1.5zM172.1,339.2h1.5v1.5h-1.5zM172.4,339.7h1.5v1.5h-1.5zM173.6,335.7h1.5v1.5h-1.5zM174.2,335.9h1.5v1.5h-1.5zM173.7,333.9h1.5v1.5h-1.5zM174.4,334.3h1.5v1.5h-1.5zM173.6,334.4h1.5v1.5h-1.5zM174.8,329.2h1.5v1.5h-1.5zM177.7,325.4h1.5v1.5h-1.5zM178.8,324.6h1.5v1.5h-1.5zM176.5,328.6h1.5v1.5h-1.5zM177.2,327.4h1.5v1.5h-1.5zM180.7,321.3h1.5v1.5h-1.5zM181.3,320.3h1.5v1.5h-1.5zM180.6,321.4h1.5v1.5h-1.5zM184.5,315.2h1.5v1.5h-1.5zM185.9,315.9h1.5v1.5h-1.5zM183.8,317.3h1.5v1.5h-1.5zM186.5,315.5h1.5v1.5h-1.5zM186.7,314.4h1.5v1.5h-1.5zM189.1,313.6h1.5v1.5h-1.5zM195.4,310.4h1.5v1.5h-1.5zM194.4,309.8h1.5v1.5h-1.5zM195.0,310.6h1.5v1.5h-1.5zM198.1,307.9h1.5v1.5h-1.5zM198.0,307.5h1.5v1.5h-1.5zM197.6,308.5h1.5v1.5h-1.5zM212.4,346.4h1.5v1.5h-1.5zM172.1,343.9h1.5v1.5h-1.5zM202.6,342.8h1.5v1.5h-1.5zM198.5,344.8h1.5v1.5h-1.5zM193.7,346.0h1.5v1.5h-1.5zM189.7,313.9h1.5v1.5h-1.5zM200.1,307.1h1.5v1.5h-1.5z" fill="#548ab8"/>
<path d="M246.1,310.5L247.5,310.8L249.5,310.7L249.3,312.3L249.5,313.9L249.8,315.5L249.6,317.1L249.5,318.7L249.6,320.3L249.4,321.9L248.9,323.5L249.2,325.1L249.2,326.7L250.0,328.3L249.1,329.9L249.7,331.5L250.1,333.1L248.7,334.7L248.7,336.1L248.4,337.5L249.1,339.2L248.2,340.5L247.1,341.1L246.4,342.6L245.1,343.4L244.2,344.3L243.0,345.3L241.8,346.1L240.9,346.2L239.0,347.0L237.6,345.6L236.3,345.3L234.5,344.8L233.3,343.7L232.0,342.6L231.7,341.1L231.2,339.8L230.6,338.6L229.6,337.7L228.9,336.3L228.2,335.0L228.4,333.4L227.5,332.3L227.0,330.9L227.2,329.5L226.5,328.1L227.6,327.0L228.2,325.4L228.3,323.6L228.4,321.6L230.1,321.0L231.9,320.5L232.4,318.4L234.1,317.8L235.7,317.1L236.6,315.4L238.5,315.5L239.5,314.2L241.1,313.8L242.8,312.9L243.9,311.2L245.3,311.1Z" fill="#548ab8"/>
<path d="M245.9,308.7h1.5v1.5h-1.5zM248.5,309.1h1.5v1.5h-1.5zM248.7,311.7h1.5v1.5h-1.5zM248.5,312.6h1.5v1.5h-1.5zM250.2,311.3h1.5v1.5h-1.5zM249.0,315.8h1.5v1.5h-1.5zM250.0,317.1h1.5v1.5h-1.5zM249.4,318.4h1.5v1.5h-1.5zM249.2,318.7h1.5v1.5h-1.5zM248.5,322.5h1.5v1.5h-1.5zM249.9,328.5h1.5v1.5h-1.5zM249.1,328.9h1.5v1.5h-1.5zM248.8,324.1h1.5v1.5h-1.5zM249.0,328.5h1.5v1.5h-1.5zM249.7,333.6h1.5v1.5h-1.5zM249.9,334.0h1.5v1.5h-1.5zM249.2,330.7h1.5v1.5h-1.5zM249.9,329.4h1.5v1.5h-1.5zM248.3,339.4h1.5v1.5h-1.5zM247.9,339.5h1.5v1.5h-1.5zM248.6,335.9h1.5v1.5h-1.5zM247.5,344.7h1.5v1.5h-1.5zM245.1,343.5h1.5v1.5h-1.5zM244.7,343.7h1.5v1.5h-1.5zM242.6,346.2h1.5v1.5h-1.5zM244.5,346.4h1.5v1.5h-1.5zM243.2,346.3h1.5v1.5h-1.5zM235.8,346.3h1.5v1.5h-1.5zM238.5,346.1h1.5v1.5h-1.5zM238.5,346.4h1.5v1.5h-1.5zM234.3,344.7h1.5v1.5h-1.5zM232.7,346.4h1.5v1.5h-1.5zM233.0,344.6h1.5v1.5h-1.5zM228.4,342.7h1.5v1.5h-1.5zM229.1,340.7h1.5v1.5h-1.5zM229.6,341.9h1.5v1.5h-1.5zM226.4,332.8h1.5v1.5h-1.5zM226.4,335.4h1.5v1.5h-1.5zM227.6,336.0h1.5v1.5h-1.5zM227.4,336.1h1.5v1.5h-1.5zM224.6,327.9h1.5v1.5h-1.5zM226.2,330.2h1.5v1.5h-1.5zM226.0,329.1h1.5v1.5h-1.5zM225.1,329.0h1.5v1.5h-1.5zM226.0,324.7h1.5v1.5h-1.5zM226.1,325.3h1.5v1.5h-1.5zM226.2,324.0h1.5v1.5h-1.5zM230.4,318.2h1.5v1.5h-1.5zM229.7,316.3h1.5v1.5h-1.5zM231.2,318.3h1.5v1.5h-1.5zM235.2,315.0h1.5v1.5h-1.5zM232.0,317.5h1.5v1.5h-1.5zM235.3,314.6h1.5v1.5h-1.5zM236.2,313.5h1.5v1.5h-1.5zM237.3,313.8h1.5v1.5h-1.5zM239.5,311.9h1.5v1.5h-1.5zM241.5,311.2h1.5v1.5h-1.5zM240.8,310.4h1.5v1.5h-1.5zM244.2,308.8h1.5v1.5h-1.5zM242.9,308.9h1.5v1.5h-1.5zM224.1,319.5h1.5v1.5h-1.5zM227.1,319.5h1.5v1.5h-1.5zM247.1,307.1h1.5v1.5h-1.5zM264.4,346.4h1.5v1.5h-1.5zM256.4,342.3h1.5v1.5h-1.5zM254.3,344.8h1.5v1.5h-1.5zM252.7,337.2h1.5v1.5h-1.5zM251.1,325.9h1.5v1.5h-1.5zM224.7,325.1h1.5v1.5h-1.5zM225.5,330.7h1.5v1.5h-1.5zM243.9,346.4h1.5v1.5h-1.5zM252.7,339.6h1.5v1.5h-1.5z" fill="#548ab8"/>
<path d="M275.5,345.2L275.8,343.8L275.9,342.4L277.0,341.1L277.8,340.0L277.8,338.3L278.9,337.1L279.4,335.7L279.9,334.2L280.2,332.7L280.8,331.2L280.7,329.5L281.3,328.1L282.8,327.1L283.3,325.6L284.0,324.2L284.3,322.7L284.7,321.2L286.2,320.1L286.6,318.6L287.3,317.3L287.2,315.8L287.9,314.7L288.5,313.5L289.3,312.8L290.2,310.9L291.7,310.9L293.2,309.7L294.7,309.8L296.3,310.2L297.9,309.9L299.5,309.9L301.1,309.8L302.7,310.6L304.1,310.5L305.5,311.6L307.0,310.6L308.4,310.8L310.2,312.0L309.9,313.8L311.6,314.9L310.7,316.4L311.7,317.7L311.6,320.1L311.9,321.5L311.7,322.8L311.2,324.3L311.9,325.9L312.6,327.5L312.5,329.1L312.2,330.7L311.2,332.2L311.5,333.8L310.0,334.9L309.6,336.8L307.2,337.4L305.6,338.1L304.1,339.0L302.6,339.8L300.6,340.0L299.4,341.7L297.8,342.5L296.0,342.7L294.5,343.6L293.3,344.4L291.8,343.9L290.6,344.9L289.3,345.3L287.9,345.6L286.4,344.8L285.2,345.9L283.7,345.5L282.4,345.9L280.9,346.8L279.3,347.2L277.4,346.7L276.2,347.5Z" fill="#548ab8"/>
<path d="M275.1,343.4h1.5v1.5h-1.5zM275.1,340.7h1.5v1.5h-1.5zM275.1,344.0h1.5v1.5h-1.5zM275.5,334.7h1.5v1.5h-1.5zM276.2,336.2h1.5v1.5h-1.5zM275.1,337.8h1.5v1.5h-1.5zM280.2,327.3h1.5v1.5h-1.5zM277.7,331.4h1.5v1.5h-1.5zM275.1,329.6h1.5v1.5h-1.5zM279.4,330.5h1.5v1.5h-1.5zM280.7,327.2h1.5v1.5h-1.5zM280.1,326.0h1.5v1.5h-1.5zM280.3,327.2h1.5v1.5h-1.5zM281.1,325.9h1.5v1.5h-1.5zM285.6,316.4h1.5v1.5h-1.5zM283.2,320.8h1.5v1.5h-1.5zM283.2,317.9h1.5v1.5h-1.5zM283.3,321.5h1.5v1.5h-1.5zM285.7,312.4h1.5v1.5h-1.5zM287.5,311.5h1.5v1.5h-1.5zM287.3,311.5h1.5v1.5h-1.5zM288.0,311.1h1.5v1.5h-1.5zM292.6,307.9h1.5v1.5h-1.5zM294.3,308.5h1.5v1.5h-1.5zM292.6,309.3h1.5v1.5h-1.5zM290.9,308.6h1.5v1.5h-1.5zM296.1,307.5h1.5v1.5h-1.5zM299.2,309.3h1.5v1.5h-1.5zM300.0,309.2h1.5v1.5h-1.5zM297.1,309.0h1.5v1.5h-1.5zM304.7,308.9h1.5v1.5h-1.5zM306.5,310.0h1.5v1.5h-1.5zM304.8,308.9h1.5v1.5h-1.5zM309.5,308.3h1.5v1.5h-1.5zM310.6,314.0h1.5v1.5h-1.5zM312.2,311.5h1.5v1.5h-1.5zM311.5,315.1h1.5v1.5h-1.5zM311.2,317.5h1.5v1.5h-1.5zM311.1,317.6h1.5v1.5h-1.5zM313.7,322.0h1.5v1.5h-1.5zM311.8,321.8h1.5v1.5h-1.5zM311.9,322.3h1.5v1.5h-1.5zM311.7,325.6h1.5v1.5h-1.5zM314.0,324.3h1.5v1.5h-1.5zM312.4,328.9h1.5v1.5h-1.5zM311.5,329.9h1.5v1.5h-1.5zM311.7,332.7h1.5v1.5h-1.5zM312.6,332.9h1.5v1.5h-1.5zM310.6,335.3h1.5v1.5h-1.5zM310.4,334.0h1.5v1.5h-1.5zM311.0,333.3h1.5v1.5h-1.5zM308.5,336.6h1.5v1.5h-1.5zM309.6,339.9h1.5v1.5h-1.5zM303.7,338.9h1.5v1.5h-1.5zM306.0,338.6h1.5v1.5h-1.5zM302.8,339.2h1.5v1.5h-1.5zM303.4,339.1h1.5v1.5h-1.5zM300.2,341.7h1.5v1.5h-1.5zM298.2,341.8h1.5v1.5h-1.5zM295.3,342.8h1.5v1.5h-1.5zM297.0,343.2h1.5v1.5h-1.5zM290.7,344.0h1.5v1.5h-1.5zM291.6,343.9h1.5v1.5h-1.5zM289.6,345.0h1.5v1.5h-1.5zM287.6,344.7h1.5v1.5h-1.5zM289.2,344.9h1.5v1.5h-1.5zM284.2,345.9h1.5v1.5h-1.5zM282.9,345.5h1.5v1.5h-1.5zM282.9,345.7h1.5v1.5h-1.5zM280.2,346.4h1.5v1.5h-1.5zM281.2,346.2h1.5v1.5h-1.5zM277.8,346.4h1.5v1.5h-1.5zM275.6,346.4h1.5v1.5h-1.5zM275.1,346.4h1.5v1.5h-1.5zM275.1,345.1h1.5v1.5h-1.5zM275.1,345.4h1.5v1.5h-1.5zM292.3,307.1h1.5v1.5h-1.5zM294.7,307.1h1.5v1.5h-1.5zM297.1,307.1h1.5v1.5h-1.5zM299.6,307.1h1.5v1.5h-1.5zM302.0,307.1h1.5v1.5h-1.5zM304.4,307.1h1.5v1.5h-1.5zM306.8,307.1h1.5v1.5h-1.5zM309.9,307.1h1.5v1.5h-1.5zM315.4,307.1h1.5v1.5h-1.5zM313.3,310.9h1.5v1.5h-1.5zM314.9,310.9h1.5v1.5h-1.5zM313.3,313.8h1.5v1.5h-1.5zM312.5,321.9h1.5v1.5h-1.5zM311.7,325.1h1.5v1.5h-1.5zM312.1,329.1h1.5v1.5h-1.5zM311.7,334.0h1.5v1.5h-1.5zM309.3,337.2h1.5v1.5h-1.5zM275.1,345.3h1.5v1.5h-1.5zM276.1,345.3h1.5v1.5h-1.5zM295.5,307.3h1.5v1.5h-1.5z" fill="#548ab8"/>
<path d="M18.3,368.3L18.6,365.8L20.8,365.8L22.3,366.1L23.2,367.1L23.7,368.7L25.2,369.7L25.7,371.7L26.9,373.2L27.9,374.1L28.2,375.6L29.0,377.1L31.1,377.2L32.5,377.8L33.5,379.6L35.0,379.5L36.4,379.5L37.8,379.3L39.0,380.6L40.3,380.9L41.7,381.1L43.2,380.7L44.3,381.7L46.0,382.0L47.4,383.2L49.5,382.7L47.8,384.6L46.1,384.0L44.5,385.0L43.2,385.0L41.9,384.5L40.5,384.8L39.1,384.0L37.8,384.3L36.4,384.8L35.2,385.4L33.8,385.4L32.2,384.9L30.8,385.9L29.3,386.5L27.7,386.7L26.0,387.5L26.3,389.4L25.0,390.3L23.2,391.7L22.1,392.4L21.3,392.8L19.0,392.6L17.6,391.2L17.5,389.9L17.8,388.6L17.5,387.3L17.5,386.0L18.1,384.7L17.5,383.4L17.7,382.1L18.4,380.8L17.7,379.5L17.5,378.2L17.8,376.9L17.8,375.6L17.9,374.3L17.5,373.0L17.5,371.7L18.3,370.4L18.0,369.1Z" fill="#548ab8"/>
<path d="M17.1,365.5h1.5v1.5h-1.5zM18.4,365.1h1.5v1.5h-1.5zM19.0,364.4h1.5v1.5h-1.5zM22.3,365.8h1.5v1.5h-1.5zM20.7,364.4h1.5v1.5h-1.5zM23.4,366.7h1.5v1.5h-1.5zM24.4,367.1h1.5v1.5h-1.5zM28.1,370.9h1.5v1.5h-1.5zM25.7,371.0h1.5v1.5h-1.5zM30.3,374.3h1.5v1.5h-1.5zM27.1,372.4h1.5v1.5h-1.5zM28.1,374.1h1.5v1.5h-1.5zM30.1,376.3h1.5v1.5h-1.5zM30.0,376.2h1.5v1.5h-1.5zM32.2,377.6h1.5v1.5h-1.5zM32.0,377.5h1.5v1.5h-1.5zM38.9,378.7h1.5v1.5h-1.5zM37.1,378.7h1.5v1.5h-1.5zM37.2,375.9h1.5v1.5h-1.5zM43.5,379.8h1.5v1.5h-1.5zM43.8,379.6h1.5v1.5h-1.5zM46.2,381.1h1.5v1.5h-1.5zM45.3,378.2h1.5v1.5h-1.5zM47.8,381.7h1.5v1.5h-1.5zM47.1,383.7h1.5v1.5h-1.5zM44.7,384.2h1.5v1.5h-1.5zM46.5,384.1h1.5v1.5h-1.5zM40.7,384.6h1.5v1.5h-1.5zM40.1,386.3h1.5v1.5h-1.5zM42.4,385.4h1.5v1.5h-1.5zM38.3,384.3h1.5v1.5h-1.5zM39.3,384.1h1.5v1.5h-1.5zM36.1,384.5h1.5v1.5h-1.5zM32.2,386.0h1.5v1.5h-1.5zM31.9,385.8h1.5v1.5h-1.5zM32.9,386.0h1.5v1.5h-1.5zM29.0,385.6h1.5v1.5h-1.5zM30.0,385.6h1.5v1.5h-1.5zM27.3,388.4h1.5v1.5h-1.5zM25.6,389.3h1.5v1.5h-1.5zM27.3,388.3h1.5v1.5h-1.5zM24.8,391.1h1.5v1.5h-1.5zM24.4,392.3h1.5v1.5h-1.5zM22.6,392.1h1.5v1.5h-1.5zM23.2,392.9h1.5v1.5h-1.5zM19.9,393.7h1.5v1.5h-1.5zM19.7,393.1h1.5v1.5h-1.5zM17.1,390.7h1.5v1.5h-1.5zM17.1,368.0h1.5v1.5h-1.5zM17.1,387.5h1.5v1.5h-1.5zM17.1,389.6h1.5v1.5h-1.5zM17.1,380.3h1.5v1.5h-1.5zM17.1,380.4h1.5v1.5h-1.5zM17.1,378.2h1.5v1.5h-1.5zM17.1,372.0h1.5v1.5h-1.5zM17.1,385.3h1.5v1.5h-1.5zM17.1,371.7h1.5v1.5h-1.5zM17.1,369.7h1.5v1.5h-1.5zM17.1,380.3h1.5v1.5h-1.5zM17.1,373.8h1.5v1.5h-1.5zM17.1,385.7h1.5v1.5h-1.5zM17.1,382.7h1.5v1.5h-1.5zM17.1,358.1h1.5v1.5h-1.5zM19.1,358.9h1.5v1.5h-1.5zM19.9,359.6h1.5v1.5h-1.5zM17.1,360.5h1.5v1.5h-1.5zM20.3,360.9h1.5v1.5h-1.5zM17.1,362.6h1.5v1.5h-1.5zM19.5,362.6h1.5v1.5h-1.5zM22.4,363.0h1.5v1.5h-1.5zM17.1,364.6h1.5v1.5h-1.5zM20.3,365.0h1.5v1.5h-1.5zM22.8,365.2h1.5v1.5h-1.5zM18.3,358.1h1.5v1.5h-1.5zM21.1,361.7h1.5v1.5h-1.5zM37.5,374.4h1.5v1.5h-1.5zM37.3,376.7h1.5v1.5h-1.5zM51.9,381.4h1.5v1.5h-1.5zM57.4,381.4h1.5v1.5h-1.5zM48.2,381.2h1.5v1.5h-1.5zM42.2,379.1h1.5v1.5h-1.5zM17.1,395.3h1.5v1.5h-1.5zM19.4,397.4h1.5v1.5h-1.5zM30.4,379.0h1.5v1.5h-1.5zM35.3,385.6h1.5v1.5h-1.5zM32.5,385.8h1.5v1.5h-1.5zM42.2,384.4h1.5v1.5h-1.5z" fill="#548ab8"/>
<path d="M70.5,361.4L71.9,362.0L72.9,363.1L74.2,363.7L75.0,365.3L76.8,365.1L77.7,366.4L79.2,366.6L80.4,367.4L81.6,368.1L82.4,369.3L83.5,370.5L84.8,371.2L86.2,371.6L87.7,372.2L88.7,373.3L90.4,373.3L91.9,373.6L92.5,375.4L94.4,374.9L95.1,376.4L96.7,377.2L95.0,377.3L94.3,378.7L92.6,378.9L91.2,379.8L90.1,380.9L89.6,382.9L88.1,383.2L86.9,383.8L86.3,385.2L85.5,386.2L84.3,386.9L83.1,387.6L83.1,389.4L81.7,389.8L80.7,390.9L79.5,391.8L78.9,393.3L77.0,391.7L77.5,390.0L77.5,388.3L77.1,386.6L77.0,385.1L75.9,383.7L76.0,382.1L75.3,380.9L75.6,379.3L74.2,378.3L75.6,377.3L75.2,375.8L76.3,374.3L75.2,373.3L74.8,372.0L74.0,370.8L74.4,369.3L74.5,368.0L73.3,367.0L73.0,365.4L73.1,363.5L72.7,362.0Z" fill="#548ab8"/>
<path d="M72.5,358.7h1.5v1.5h-1.5zM73.8,362.7h1.5v1.5h-1.5zM77.1,363.5h1.5v1.5h-1.5zM75.8,362.2h1.5v1.5h-1.5zM74.2,363.6h1.5v1.5h-1.5zM81.8,367.7h1.5v1.5h-1.5zM78.3,365.2h1.5v1.5h-1.5zM81.1,367.5h1.5v1.5h-1.5zM84.2,369.7h1.5v1.5h-1.5zM81.9,368.2h1.5v1.5h-1.5zM86.0,369.4h1.5v1.5h-1.5zM83.1,368.9h1.5v1.5h-1.5zM90.6,371.8h1.5v1.5h-1.5zM91.4,372.2h1.5v1.5h-1.5zM90.9,372.8h1.5v1.5h-1.5zM92.4,371.5h1.5v1.5h-1.5zM93.3,372.9h1.5v1.5h-1.5zM94.7,375.2h1.5v1.5h-1.5zM94.3,374.1h1.5v1.5h-1.5zM95.1,376.7h1.5v1.5h-1.5zM94.8,377.8h1.5v1.5h-1.5zM94.8,377.0h1.5v1.5h-1.5zM90.5,380.4h1.5v1.5h-1.5zM90.8,380.6h1.5v1.5h-1.5zM89.0,382.2h1.5v1.5h-1.5zM87.9,382.5h1.5v1.5h-1.5zM87.8,386.3h1.5v1.5h-1.5zM87.3,383.5h1.5v1.5h-1.5zM87.2,383.6h1.5v1.5h-1.5zM85.9,386.5h1.5v1.5h-1.5zM82.5,388.6h1.5v1.5h-1.5zM84.1,389.3h1.5v1.5h-1.5zM80.0,392.2h1.5v1.5h-1.5zM78.5,392.4h1.5v1.5h-1.5zM81.2,391.6h1.5v1.5h-1.5zM77.0,391.7h1.5v1.5h-1.5zM74.8,390.6h1.5v1.5h-1.5zM76.2,386.9h1.5v1.5h-1.5zM76.0,389.4h1.5v1.5h-1.5zM73.5,383.9h1.5v1.5h-1.5zM75.0,383.1h1.5v1.5h-1.5zM75.4,384.5h1.5v1.5h-1.5zM74.3,380.0h1.5v1.5h-1.5zM73.2,378.1h1.5v1.5h-1.5zM74.5,380.4h1.5v1.5h-1.5zM73.9,376.8h1.5v1.5h-1.5zM74.5,374.5h1.5v1.5h-1.5zM73.9,376.7h1.5v1.5h-1.5zM73.1,370.4h1.5v1.5h-1.5zM73.7,370.3h1.5v1.5h-1.5zM72.4,366.8h1.5v1.5h-1.5zM72.0,370.1h1.5v1.5h-1.5zM72.5,366.1h1.5v1.5h-1.5zM70.7,361.2h1.5v1.5h-1.5zM71.2,362.7h1.5v1.5h-1.5zM69.1,358.1h1.5v1.5h-1.5zM70.0,359.0h1.5v1.5h-1.5zM71.1,360.1h1.5v1.5h-1.5zM72.1,361.2h1.5v1.5h-1.5zM98.0,375.6h1.5v1.5h-1.5zM109.4,381.2h1.5v1.5h-1.5zM95.4,381.8h1.5v1.5h-1.5zM70.6,380.9h1.5v1.5h-1.5zM73.1,395.0h1.5v1.5h-1.5zM75.2,397.4h1.5v1.5h-1.5zM93.1,372.7h1.5v1.5h-1.5zM73.4,380.3h1.5v1.5h-1.5z" fill="#548ab8"/>
<path d="M132.6,370.8L133.9,370.0L135.0,368.8L136.8,368.9L137.9,367.6L139.5,368.3L141.0,368.1L142.5,368.0L143.8,367.3L145.4,367.0L146.6,367.8L147.8,368.6L148.9,368.8L150.2,369.4L150.4,371.1L152.2,371.2L153.1,372.2L153.4,373.6L154.9,374.3L155.7,375.4L156.2,376.7L157.3,377.9L158.5,379.0L159.1,380.9L160.6,381.0L161.4,383.5L159.4,383.6L157.1,383.6L156.5,385.4L154.9,385.6L153.6,386.4L152.6,387.7L150.8,388.1L149.9,389.5L148.8,390.5L147.4,391.0L145.9,391.1L144.7,392.0L143.2,391.3L142.2,393.1L140.7,392.7L139.5,392.9L138.3,391.7L136.3,392.1L134.5,391.5L134.5,389.5L133.5,388.2L132.1,387.3L131.2,386.2L131.4,384.6L130.2,383.7L130.0,381.7L129.3,379.8L129.8,378.3L129.9,376.8L130.5,375.4L131.4,374.0L132.5,372.6Z" fill="#548ab8"/>
<path d="M133.9,368.3h1.5v1.5h-1.5zM133.1,369.0h1.5v1.5h-1.5zM134.9,363.3h1.5v1.5h-1.5zM141.6,366.3h1.5v1.5h-1.5zM140.2,365.6h1.5v1.5h-1.5zM137.3,366.4h1.5v1.5h-1.5zM141.8,365.6h1.5v1.5h-1.5zM148.6,366.1h1.5v1.5h-1.5zM148.2,366.9h1.5v1.5h-1.5zM144.0,366.2h1.5v1.5h-1.5zM150.5,369.6h1.5v1.5h-1.5zM151.8,370.4h1.5v1.5h-1.5zM151.5,369.8h1.5v1.5h-1.5zM154.4,374.1h1.5v1.5h-1.5zM153.7,373.1h1.5v1.5h-1.5zM156.1,374.9h1.5v1.5h-1.5zM157.2,376.5h1.5v1.5h-1.5zM156.7,376.6h1.5v1.5h-1.5zM157.0,375.7h1.5v1.5h-1.5zM160.4,380.2h1.5v1.5h-1.5zM160.4,379.2h1.5v1.5h-1.5zM160.4,381.9h1.5v1.5h-1.5zM160.4,384.1h1.5v1.5h-1.5zM160.3,383.2h1.5v1.5h-1.5zM156.4,385.1h1.5v1.5h-1.5zM154.4,385.2h1.5v1.5h-1.5zM152.2,387.1h1.5v1.5h-1.5zM151.0,390.5h1.5v1.5h-1.5zM149.6,389.3h1.5v1.5h-1.5zM148.1,392.1h1.5v1.5h-1.5zM146.8,390.1h1.5v1.5h-1.5zM145.3,390.8h1.5v1.5h-1.5zM143.4,392.2h1.5v1.5h-1.5zM142.0,391.9h1.5v1.5h-1.5zM139.6,392.3h1.5v1.5h-1.5zM138.3,392.9h1.5v1.5h-1.5zM136.1,392.5h1.5v1.5h-1.5zM135.2,391.3h1.5v1.5h-1.5zM133.6,390.1h1.5v1.5h-1.5zM132.3,388.8h1.5v1.5h-1.5zM131.9,391.2h1.5v1.5h-1.5zM129.0,386.5h1.5v1.5h-1.5zM127.5,385.4h1.5v1.5h-1.5zM128.4,379.7h1.5v1.5h-1.5zM127.5,382.9h1.5v1.5h-1.5zM127.8,376.7h1.5v1.5h-1.5zM127.5,374.4h1.5v1.5h-1.5zM128.0,378.2h1.5v1.5h-1.5zM130.1,372.1h1.5v1.5h-1.5zM129.8,373.1h1.5v1.5h-1.5zM129.8,371.5h1.5v1.5h-1.5zM125.7,358.1h1.5v1.5h-1.5zM131.1,359.6h1.5v1.5h-1.5zM128.8,360.5h1.5v1.5h-1.5zM137.9,359.6h1.5v1.5h-1.5zM141.7,358.6h1.5v1.5h-1.5zM134.1,362.7h1.5v1.5h-1.5zM138.6,363.1h1.5v1.5h-1.5zM142.4,363.6h1.5v1.5h-1.5zM144.7,364.6h1.5v1.5h-1.5zM128.0,366.2h1.5v1.5h-1.5zM129.8,368.4h1.5v1.5h-1.5zM128.0,372.2h1.5v1.5h-1.5zM127.7,376.0h1.5v1.5h-1.5zM120.4,380.9h1.5v1.5h-1.5zM124.7,379.4h1.5v1.5h-1.5zM125.7,395.0h1.5v1.5h-1.5zM126.5,397.4h1.5v1.5h-1.5zM129.5,391.2h1.5v1.5h-1.5zM155.3,374.5h1.5v1.5h-1.5zM147.0,366.6h1.5v1.5h-1.5z" fill="#548ab8"/>
<path d="M173.5,382.2L174.6,381.2L174.0,379.5L175.0,378.4L176.1,377.4L177.3,376.3L177.5,374.9L177.8,373.2L179.2,372.6L180.5,372.1L181.2,370.3L183.2,370.8L183.9,369.2L185.1,368.4L186.4,367.8L187.9,367.8L189.5,368.4L190.7,367.5L191.8,366.4L193.3,366.6L194.8,366.8L196.0,365.4L197.7,365.4L199.5,365.5L200.4,364.0L201.9,364.2L202.9,363.1L203.0,364.7L204.8,365.4L203.7,366.8L203.6,368.1L203.6,369.5L203.6,370.9L203.4,372.2L204.0,373.8L203.7,375.3L204.5,376.8L204.4,378.3L204.6,379.8L203.9,381.3L203.9,382.9L204.1,384.4L203.5,385.7L203.1,387.0L203.2,388.3L203.0,389.4L201.5,389.8L200.6,391.1L199.0,390.5L197.6,391.5L196.0,391.6L194.8,392.1L193.3,391.4L192.2,392.9L190.8,392.7L189.5,391.9L188.2,392.1L186.8,392.4L185.6,392.0L184.1,391.4L182.7,390.3L181.4,389.7L179.8,389.4L178.8,388.2L177.1,388.2L176.1,387.3L176.0,385.6L174.3,385.2L174.5,383.4Z" fill="#548ab8"/>
<path d="M172.1,376.5h1.5v1.5h-1.5zM172.1,380.6h1.5v1.5h-1.5zM173.7,377.5h1.5v1.5h-1.5zM174.1,377.0h1.5v1.5h-1.5zM174.9,374.8h1.5v1.5h-1.5zM175.4,373.5h1.5v1.5h-1.5zM178.4,370.5h1.5v1.5h-1.5zM176.9,372.1h1.5v1.5h-1.5zM175.3,370.9h1.5v1.5h-1.5zM181.4,369.3h1.5v1.5h-1.5zM181.3,369.5h1.5v1.5h-1.5zM182.1,368.1h1.5v1.5h-1.5zM183.2,368.4h1.5v1.5h-1.5zM184.6,365.0h1.5v1.5h-1.5zM184.6,367.2h1.5v1.5h-1.5zM188.5,366.4h1.5v1.5h-1.5zM189.1,365.0h1.5v1.5h-1.5zM188.6,364.4h1.5v1.5h-1.5zM198.1,363.5h1.5v1.5h-1.5zM197.0,364.3h1.5v1.5h-1.5zM196.6,361.1h1.5v1.5h-1.5zM199.4,362.5h1.5v1.5h-1.5zM200.5,358.6h1.5v1.5h-1.5zM201.9,361.7h1.5v1.5h-1.5zM203.3,363.4h1.5v1.5h-1.5zM203.8,370.1h1.5v1.5h-1.5zM204.4,368.1h1.5v1.5h-1.5zM204.1,368.5h1.5v1.5h-1.5zM203.7,368.4h1.5v1.5h-1.5zM203.9,376.5h1.5v1.5h-1.5zM204.2,372.0h1.5v1.5h-1.5zM204.0,373.8h1.5v1.5h-1.5zM203.9,376.1h1.5v1.5h-1.5zM203.7,381.2h1.5v1.5h-1.5zM203.7,378.0h1.5v1.5h-1.5zM203.7,379.6h1.5v1.5h-1.5zM203.3,385.0h1.5v1.5h-1.5zM203.4,385.3h1.5v1.5h-1.5zM203.5,388.7h1.5v1.5h-1.5zM202.9,390.4h1.5v1.5h-1.5zM200.9,390.1h1.5v1.5h-1.5zM199.6,391.6h1.5v1.5h-1.5zM196.7,391.6h1.5v1.5h-1.5zM199.3,391.5h1.5v1.5h-1.5zM194.2,391.8h1.5v1.5h-1.5zM194.3,391.5h1.5v1.5h-1.5zM192.3,395.8h1.5v1.5h-1.5zM193.6,391.7h1.5v1.5h-1.5zM189.2,392.0h1.5v1.5h-1.5zM186.8,395.5h1.5v1.5h-1.5zM185.1,391.7h1.5v1.5h-1.5zM182.0,391.9h1.5v1.5h-1.5zM182.6,393.0h1.5v1.5h-1.5zM180.8,390.5h1.5v1.5h-1.5zM177.2,388.7h1.5v1.5h-1.5zM176.4,387.5h1.5v1.5h-1.5zM175.7,387.7h1.5v1.5h-1.5zM174.1,385.5h1.5v1.5h-1.5zM174.2,385.6h1.5v1.5h-1.5zM173.2,383.1h1.5v1.5h-1.5zM187.0,361.6h1.5v1.5h-1.5zM185.5,364.6h1.5v1.5h-1.5zM189.3,364.2h1.5v1.5h-1.5zM193.8,360.5h1.5v1.5h-1.5zM196.9,359.6h1.5v1.5h-1.5zM199.9,359.3h1.5v1.5h-1.5zM202.9,359.6h1.5v1.5h-1.5zM204.4,358.1h1.5v1.5h-1.5zM195.3,362.7h1.5v1.5h-1.5zM198.4,362.1h1.5v1.5h-1.5zM201.4,361.6h1.5v1.5h-1.5zM180.9,366.9h1.5v1.5h-1.5zM178.6,368.4h1.5v1.5h-1.5zM202.9,360.8h1.5v1.5h-1.5zM212.4,380.9h1.5v1.5h-1.5zM172.1,380.6h1.5v1.5h-1.5zM172.1,384.4h1.5v1.5h-1.5zM174.1,373.0h1.5v1.5h-1.5zM201.9,395.0h1.5v1.5h-1.5zM200.3,397.4h1.5v1.5h-1.5zM190.0,392.8h1.5v1.5h-1.5z" fill="#548ab8"/>
<path d="M245.0,366.3L246.2,364.8L247.3,365.2L250.3,365.4L250.6,366.7L249.5,368.1L250.6,369.4L249.5,370.7L249.9,372.2L249.8,373.7L249.5,375.2L249.2,376.5L249.2,378.2L248.3,379.6L248.0,381.5L248.4,382.9L249.1,384.1L249.6,385.1L249.2,386.6L248.9,388.1L249.2,389.7L247.7,390.8L246.3,392.4L244.6,392.1L243.1,392.8L241.6,393.4L240.1,392.9L238.7,392.1L237.3,391.7L236.1,390.7L234.9,389.7L233.1,389.4L232.7,387.8L231.1,387.4L230.9,385.6L229.0,385.4L228.5,383.9L227.7,383.0L226.5,381.5L226.0,379.8L227.1,378.2L228.4,376.9L229.8,376.0L230.4,374.5L231.4,373.4L231.7,371.8L233.6,371.7L233.5,369.8L234.7,369.0L236.4,369.0L237.3,367.6L238.5,366.7L240.2,366.6L241.7,366.2L243.1,365.1Z" fill="#548ab8"/>
<path d="M245.8,363.8h1.5v1.5h-1.5zM246.2,362.8h1.5v1.5h-1.5zM248.5,364.3h1.5v1.5h-1.5zM247.2,363.3h1.5v1.5h-1.5zM250.2,369.2h1.5v1.5h-1.5zM250.4,369.8h1.5v1.5h-1.5zM250.2,369.7h1.5v1.5h-1.5zM250.1,373.1h1.5v1.5h-1.5zM249.7,371.3h1.5v1.5h-1.5zM249.9,373.1h1.5v1.5h-1.5zM250.3,372.6h1.5v1.5h-1.5zM249.3,379.6h1.5v1.5h-1.5zM248.7,378.5h1.5v1.5h-1.5zM248.4,380.4h1.5v1.5h-1.5zM249.4,383.5h1.5v1.5h-1.5zM249.0,383.3h1.5v1.5h-1.5zM249.7,388.0h1.5v1.5h-1.5zM249.3,385.4h1.5v1.5h-1.5zM249.5,388.1h1.5v1.5h-1.5zM247.7,389.6h1.5v1.5h-1.5zM247.4,389.8h1.5v1.5h-1.5zM241.8,392.4h1.5v1.5h-1.5zM243.9,391.7h1.5v1.5h-1.5zM239.5,392.6h1.5v1.5h-1.5zM237.2,393.3h1.5v1.5h-1.5zM236.6,393.0h1.5v1.5h-1.5zM235.6,390.9h1.5v1.5h-1.5zM234.1,392.1h1.5v1.5h-1.5zM231.1,387.3h1.5v1.5h-1.5zM229.9,386.4h1.5v1.5h-1.5zM227.5,383.8h1.5v1.5h-1.5zM229.2,385.7h1.5v1.5h-1.5zM228.3,384.3h1.5v1.5h-1.5zM224.9,380.4h1.5v1.5h-1.5zM226.2,381.8h1.5v1.5h-1.5zM224.3,377.6h1.5v1.5h-1.5zM226.9,375.9h1.5v1.5h-1.5zM225.8,376.8h1.5v1.5h-1.5zM228.6,373.3h1.5v1.5h-1.5zM227.4,375.2h1.5v1.5h-1.5zM227.8,374.4h1.5v1.5h-1.5zM233.4,368.8h1.5v1.5h-1.5zM232.2,369.7h1.5v1.5h-1.5zM229.5,371.2h1.5v1.5h-1.5zM237.8,366.2h1.5v1.5h-1.5zM235.4,367.4h1.5v1.5h-1.5zM235.8,366.0h1.5v1.5h-1.5zM240.2,365.2h1.5v1.5h-1.5zM238.3,364.8h1.5v1.5h-1.5zM242.3,364.7h1.5v1.5h-1.5zM240.9,365.0h1.5v1.5h-1.5zM244.7,359.0h1.5v1.5h-1.5zM246.2,360.1h1.5v1.5h-1.5zM248.5,360.5h1.5v1.5h-1.5zM250.4,361.6h1.5v1.5h-1.5zM252.0,360.1h1.5v1.5h-1.5zM256.5,358.1h1.5v1.5h-1.5zM237.8,362.4h1.5v1.5h-1.5zM241.6,362.7h1.5v1.5h-1.5zM244.7,362.4h1.5v1.5h-1.5zM247.7,362.7h1.5v1.5h-1.5zM250.0,363.1h1.5v1.5h-1.5zM232.5,368.4h1.5v1.5h-1.5zM236.3,365.4h1.5v1.5h-1.5zM264.4,380.9h1.5v1.5h-1.5zM224.2,376.8h1.5v1.5h-1.5zM224.1,381.4h1.5v1.5h-1.5zM252.3,379.8h1.5v1.5h-1.5zM251.5,382.1h1.5v1.5h-1.5zM250.8,385.2h1.5v1.5h-1.5zM254.5,395.0h1.5v1.5h-1.5zM253.5,397.4h1.5v1.5h-1.5zM250.0,373.0h1.5v1.5h-1.5zM250.4,368.4h1.5v1.5h-1.5z" fill="#548ab8"/>
<path d="M275.5,358.9L276.2,361.0L277.8,362.0L277.9,364.2L279.9,364.7L280.5,367.0L282.7,366.6L283.9,368.3L285.6,368.2L286.6,369.6L288.0,370.1L289.4,370.7L290.6,371.5L291.8,372.4L293.3,372.6L295.1,372.1L296.0,373.8L297.6,373.5L299.0,373.8L300.3,374.4L301.5,375.3L302.9,375.0L304.3,375.0L305.7,375.0L307.0,375.6L308.4,375.2L310.0,375.7L311.6,376.1L313.3,376.0L314.3,377.6L316.3,377.4L315.9,378.9L315.4,380.6L314.0,381.0L312.3,381.2L311.7,383.0L310.2,383.7L308.4,383.8L306.8,383.5L305.4,383.8L304.4,385.2L302.9,385.2L301.7,386.1L300.3,386.4L298.5,388.2L297.3,389.2L295.9,389.7L294.4,390.7L293.2,392.4L291.5,392.3L290.2,393.4L287.9,392.7L287.6,391.0L286.3,389.9L285.5,388.5L284.4,387.2L284.0,386.0L283.3,384.8L283.3,383.4L282.6,382.1L282.6,380.5L281.6,379.4L281.0,378.0L280.6,376.6L279.9,375.4L279.4,373.7L279.3,372.0L278.4,370.5L278.6,368.8L277.2,367.6L277.7,365.9L277.0,364.6L276.9,363.2L275.5,362.1L275.5,360.3Z" fill="#548ab8"/>
<path d="M275.7,358.6h1.5v1.5h-1.5zM275.9,358.1h1.5v1.5h-1.5zM277.2,361.3h1.5v1.5h-1.5zM277.7,360.3h1.5v1.5h-1.5zM279.1,363.2h1.5v1.5h-1.5zM279.3,364.1h1.5v1.5h-1.5zM280.9,364.8h1.5v1.5h-1.5zM282.0,366.0h1.5v1.5h-1.5zM287.4,368.6h1.5v1.5h-1.5zM285.1,367.7h1.5v1.5h-1.5zM286.5,367.6h1.5v1.5h-1.5zM289.8,368.4h1.5v1.5h-1.5zM289.3,368.7h1.5v1.5h-1.5zM294.4,371.2h1.5v1.5h-1.5zM293.4,371.2h1.5v1.5h-1.5zM298.2,372.9h1.5v1.5h-1.5zM298.0,372.9h1.5v1.5h-1.5zM297.7,372.6h1.5v1.5h-1.5zM300.1,373.3h1.5v1.5h-1.5zM302.4,373.3h1.5v1.5h-1.5zM305.7,373.1h1.5v1.5h-1.5zM306.1,373.5h1.5v1.5h-1.5zM305.2,374.0h1.5v1.5h-1.5zM310.6,375.3h1.5v1.5h-1.5zM312.5,372.6h1.5v1.5h-1.5zM311.2,375.1h1.5v1.5h-1.5zM314.0,376.1h1.5v1.5h-1.5zM315.2,376.2h1.5v1.5h-1.5zM315.4,377.6h1.5v1.5h-1.5zM315.4,379.0h1.5v1.5h-1.5zM315.4,378.9h1.5v1.5h-1.5zM312.7,381.0h1.5v1.5h-1.5zM312.1,383.4h1.5v1.5h-1.5zM308.4,383.1h1.5v1.5h-1.5zM308.3,384.2h1.5v1.5h-1.5zM305.7,384.5h1.5v1.5h-1.5zM304.2,384.3h1.5v1.5h-1.5zM303.5,387.0h1.5v1.5h-1.5zM302.8,385.8h1.5v1.5h-1.5zM300.3,385.6h1.5v1.5h-1.5zM299.3,386.2h1.5v1.5h-1.5zM298.3,387.8h1.5v1.5h-1.5zM296.8,390.0h1.5v1.5h-1.5zM296.0,389.7h1.5v1.5h-1.5zM293.6,391.1h1.5v1.5h-1.5zM293.9,390.6h1.5v1.5h-1.5zM290.1,392.4h1.5v1.5h-1.5zM290.4,392.5h1.5v1.5h-1.5zM288.6,393.2h1.5v1.5h-1.5zM288.2,392.7h1.5v1.5h-1.5zM285.9,392.7h1.5v1.5h-1.5zM285.4,392.1h1.5v1.5h-1.5zM284.2,389.5h1.5v1.5h-1.5zM283.6,389.2h1.5v1.5h-1.5zM280.5,385.0h1.5v1.5h-1.5zM283.4,385.8h1.5v1.5h-1.5zM280.4,379.4h1.5v1.5h-1.5zM281.8,382.2h1.5v1.5h-1.5zM281.1,380.5h1.5v1.5h-1.5zM279.2,375.4h1.5v1.5h-1.5zM278.9,375.0h1.5v1.5h-1.5zM279.4,379.0h1.5v1.5h-1.5zM277.5,373.5h1.5v1.5h-1.5zM277.9,373.8h1.5v1.5h-1.5zM277.5,371.7h1.5v1.5h-1.5zM276.5,369.3h1.5v1.5h-1.5zM276.2,366.6h1.5v1.5h-1.5zM275.1,366.6h1.5v1.5h-1.5zM275.3,365.2h1.5v1.5h-1.5zM275.4,364.4h1.5v1.5h-1.5zM275.1,363.6h1.5v1.5h-1.5zM275.1,360.5h1.5v1.5h-1.5zM275.1,360.2h1.5v1.5h-1.5zM275.1,358.9h1.5v1.5h-1.5zM315.4,376.3h1.5v1.5h-1.5zM304.8,373.9h1.5v1.5h-1.5zM295.5,371.5h1.5v1.5h-1.5zM278.5,381.2h1.5v1.5h-1.5zM283.5,395.3h1.5v1.5h-1.5zM288.1,397.4h1.5v1.5h-1.5zM299.6,388.8h1.5v1.5h-1.5zM298.7,386.8h1.5v1.5h-1.5zM288.2,370.6h1.5v1.5h-1.5z" fill="#548ab8"/>
<path d="M329.3,369.0L331.2,368.8L332.4,367.9L332.9,367.0L333.6,365.2L335.1,365.3L336.2,365.3L337.6,365.0L339.1,364.2L340.7,364.3L341.4,366.0L342.8,366.2L344.4,366.1L345.2,367.5L346.7,367.5L347.9,368.1L348.7,369.5L350.1,369.9L351.1,370.8L352.7,370.6L353.7,371.8L355.3,371.4L355.9,373.4L357.6,373.0L358.6,374.1L359.9,374.6L360.9,375.4L362.6,374.8L363.4,376.3L364.8,376.6L366.8,376.5L368.5,377.7L367.4,378.2L365.8,377.8L364.6,378.5L363.4,379.6L362.2,380.5L360.4,380.3L359.5,381.4L357.9,381.4L356.8,382.2L355.6,382.9L354.9,384.4L353.1,383.8L352.4,385.4L351.1,386.0L349.6,386.0L348.6,386.9L347.1,387.1L346.3,388.5L344.9,388.7L343.5,388.9L342.2,389.4L341.6,391.3L339.9,391.7L338.3,392.4L336.5,392.6L335.2,392.0L334.1,390.9L332.8,391.4L331.3,390.2L330.8,388.6L329.3,387.6L329.7,386.0L329.1,384.7L329.5,383.3L328.2,382.1L329.2,380.8L328.5,379.1L328.7,377.5L329.2,375.9L329.7,374.1L330.1,372.3L330.3,370.9Z" fill="url(#lat)"/>
<path d="M332.7,371.3L334.9,368.8L337.7,367.5L341.2,367.5L345.0,369.4L348.8,371.3L352.5,373.2L356.3,375.1L360.1,376.7L363.0,377.5L360.1,378.9L357.0,380.4L353.2,382.3L349.4,384.2L345.6,386.1L341.8,388.0L338.0,389.3L334.9,388.6L333.0,386.4L332.0,383.3L331.7,380.1L332.0,376.3L332.4,373.5Z" fill="#548ab8" stroke="#548ab8" stroke-width="0.8" stroke-linejoin="round"/>
<path d="M328.5,365.9h1.5v1.5h-1.5zM329.8,367.2h1.5v1.5h-1.5zM332.9,363.6h1.5v1.5h-1.5zM334.6,363.6h1.5v1.5h-1.5zM338.3,363.1h1.5v1.5h-1.5zM337.5,363.1h1.5v1.5h-1.5zM336.5,363.1h1.5v1.5h-1.5zM340.3,363.1h1.5v1.5h-1.5zM343.6,364.0h1.5v1.5h-1.5zM342.2,364.8h1.5v1.5h-1.5zM348.3,367.0h1.5v1.5h-1.5zM345.0,365.8h1.5v1.5h-1.5zM346.6,366.3h1.5v1.5h-1.5zM351.3,368.8h1.5v1.5h-1.5zM353.5,370.5h1.5v1.5h-1.5zM353.1,370.3h1.5v1.5h-1.5zM356.6,371.5h1.5v1.5h-1.5zM356.5,372.0h1.5v1.5h-1.5zM357.1,372.1h1.5v1.5h-1.5zM359.3,373.1h1.5v1.5h-1.5zM363.5,374.8h1.5v1.5h-1.5zM363.0,374.8h1.5v1.5h-1.5zM359.8,373.7h1.5v1.5h-1.5zM366.0,374.9h1.5v1.5h-1.5zM365.2,375.7h1.5v1.5h-1.5zM366.1,375.6h1.5v1.5h-1.5zM366.2,377.3h1.5v1.5h-1.5zM367.0,379.1h1.5v1.5h-1.5zM360.4,380.3h1.5v1.5h-1.5zM363.3,379.8h1.5v1.5h-1.5zM364.2,378.7h1.5v1.5h-1.5zM359.7,380.6h1.5v1.5h-1.5zM359.4,381.3h1.5v1.5h-1.5zM360.0,381.9h1.5v1.5h-1.5zM358.1,381.6h1.5v1.5h-1.5zM350.8,385.4h1.5v1.5h-1.5zM353.0,385.7h1.5v1.5h-1.5zM354.8,383.1h1.5v1.5h-1.5zM352.2,385.1h1.5v1.5h-1.5zM349.3,386.5h1.5v1.5h-1.5zM349.0,386.2h1.5v1.5h-1.5zM347.3,386.8h1.5v1.5h-1.5zM343.5,389.8h1.5v1.5h-1.5zM343.9,388.9h1.5v1.5h-1.5zM341.3,390.0h1.5v1.5h-1.5zM339.8,391.8h1.5v1.5h-1.5zM337.7,391.2h1.5v1.5h-1.5zM336.1,392.5h1.5v1.5h-1.5zM335.1,391.8h1.5v1.5h-1.5zM333.3,391.4h1.5v1.5h-1.5zM330.1,389.1h1.5v1.5h-1.5zM330.0,390.1h1.5v1.5h-1.5zM330.1,388.9h1.5v1.5h-1.5zM328.0,386.8h1.5v1.5h-1.5zM327.6,385.3h1.5v1.5h-1.5zM328.2,386.6h1.5v1.5h-1.5zM327.1,381.2h1.5v1.5h-1.5zM327.1,382.3h1.5v1.5h-1.5zM327.1,375.8h1.5v1.5h-1.5zM327.1,378.5h1.5v1.5h-1.5zM327.1,372.0h1.5v1.5h-1.5zM327.6,371.9h1.5v1.5h-1.5zM328.3,370.8h1.5v1.5h-1.5zM328.4,371.1h1.5v1.5h-1.5zM327.3,360.5h1.5v1.5h-1.5zM328.9,359.3h1.5v1.5h-1.5zM330.6,358.1h1.5v1.5h-1.5zM331.8,358.1h1.5v1.5h-1.5zM336.2,359.7h1.5v1.5h-1.5zM332.2,361.7h1.5v1.5h-1.5zM334.6,362.1h1.5v1.5h-1.5zM337.0,361.7h1.5v1.5h-1.5zM340.7,361.7h1.5v1.5h-1.5zM345.1,364.2h1.5v1.5h-1.5zM349.6,366.6h1.5v1.5h-1.5zM327.1,366.2h1.5v1.5h-1.5zM327.3,372.7h1.5v1.5h-1.5zM327.1,381.2h1.5v1.5h-1.5zM328.9,395.3h1.5v1.5h-1.5zM333.4,397.4h1.5v1.5h-1.5zM329.3,364.6h1.5v1.5h-1.5zM331.0,363.4h1.5v1.5h-1.5zM333.4,363.0h1.5v1.5h-1.5z" fill="#548ab8"/>
<path d="M17.5,418.3L18.6,416.4L20.8,416.3L21.7,417.6L23.9,417.3L23.7,419.3L24.9,420.5L25.5,422.3L26.3,424.2L28.0,424.6L28.9,425.6L29.2,427.4L30.7,428.2L32.4,429.0L33.8,428.8L35.2,429.3L36.3,430.4L37.8,430.0L39.2,430.0L40.4,431.0L41.9,430.8L43.0,431.9L44.2,432.5L46.0,432.6L47.7,433.0L49.3,432.9L47.7,434.5L46.2,435.4L44.6,434.8L43.2,435.2L41.9,434.9L40.4,434.1L39.1,434.8L37.8,435.6L36.3,434.4L35.0,435.2L33.6,435.2L32.3,435.7L30.6,435.6L29.3,437.2L28.2,438.1L26.7,438.5L25.4,439.4L24.6,440.5L23.6,443.1L22.3,443.4L21.1,443.8L18.8,443.3L17.8,441.8L17.6,440.5L17.7,439.2L17.5,437.9L17.5,436.6L18.6,435.3L18.1,434.0L17.5,432.6L18.5,431.3L17.5,430.0L18.6,428.7L17.6,427.4L17.5,426.1L18.2,424.8L18.0,423.5L18.2,422.2L17.5,420.9L17.8,419.6Z" fill="#548ab8"/>
<path d="M17.5,416.0h1.5v1.5h-1.5zM18.4,415.3h1.5v1.5h-1.5zM17.8,415.5h1.5v1.5h-1.5zM21.2,415.7h1.5v1.5h-1.5zM22.9,416.8h1.5v1.5h-1.5zM24.5,418.4h1.5v1.5h-1.5zM26.7,422.5h1.5v1.5h-1.5zM27.9,421.9h1.5v1.5h-1.5zM25.9,419.2h1.5v1.5h-1.5zM28.8,423.8h1.5v1.5h-1.5zM27.3,422.9h1.5v1.5h-1.5zM31.2,426.9h1.5v1.5h-1.5zM31.5,427.0h1.5v1.5h-1.5zM33.5,426.3h1.5v1.5h-1.5zM33.2,428.4h1.5v1.5h-1.5zM38.8,427.4h1.5v1.5h-1.5zM38.9,429.2h1.5v1.5h-1.5zM42.6,429.2h1.5v1.5h-1.5zM41.0,429.2h1.5v1.5h-1.5zM43.4,430.7h1.5v1.5h-1.5zM48.5,427.8h1.5v1.5h-1.5zM45.7,430.3h1.5v1.5h-1.5zM49.1,432.9h1.5v1.5h-1.5zM47.4,431.8h1.5v1.5h-1.5zM49.4,435.7h1.5v1.5h-1.5zM45.2,434.6h1.5v1.5h-1.5zM46.1,434.8h1.5v1.5h-1.5zM41.2,439.0h1.5v1.5h-1.5zM43.0,434.8h1.5v1.5h-1.5zM43.7,434.6h1.5v1.5h-1.5zM36.0,436.1h1.5v1.5h-1.5zM37.4,435.3h1.5v1.5h-1.5zM35.5,435.4h1.5v1.5h-1.5zM34.3,435.5h1.5v1.5h-1.5zM29.2,436.7h1.5v1.5h-1.5zM31.5,436.2h1.5v1.5h-1.5zM29.2,437.6h1.5v1.5h-1.5zM26.2,440.8h1.5v1.5h-1.5zM24.0,441.2h1.5v1.5h-1.5zM22.3,444.7h1.5v1.5h-1.5zM22.2,444.6h1.5v1.5h-1.5zM20.1,443.7h1.5v1.5h-1.5zM17.1,441.5h1.5v1.5h-1.5zM17.1,433.4h1.5v1.5h-1.5zM17.1,418.6h1.5v1.5h-1.5zM17.1,418.7h1.5v1.5h-1.5zM17.1,428.9h1.5v1.5h-1.5zM17.1,432.9h1.5v1.5h-1.5zM17.1,436.9h1.5v1.5h-1.5zM17.1,422.9h1.5v1.5h-1.5zM17.1,440.6h1.5v1.5h-1.5zM17.1,429.5h1.5v1.5h-1.5zM17.1,437.2h1.5v1.5h-1.5zM17.1,431.7h1.5v1.5h-1.5zM17.1,419.2h1.5v1.5h-1.5zM17.1,433.3h1.5v1.5h-1.5zM17.1,437.9h1.5v1.5h-1.5zM17.1,408.1h1.5v1.5h-1.5zM19.1,409.5h1.5v1.5h-1.5zM19.9,410.1h1.5v1.5h-1.5zM17.1,411.1h1.5v1.5h-1.5zM20.3,411.5h1.5v1.5h-1.5zM17.1,413.1h1.5v1.5h-1.5zM19.5,413.1h1.5v1.5h-1.5zM22.4,413.5h1.5v1.5h-1.5zM17.1,415.1h1.5v1.5h-1.5zM20.3,415.5h1.5v1.5h-1.5zM22.8,415.8h1.5v1.5h-1.5zM18.3,408.7h1.5v1.5h-1.5zM21.1,412.3h1.5v1.5h-1.5zM37.5,425.0h1.5v1.5h-1.5zM37.3,427.3h1.5v1.5h-1.5zM51.9,432.0h1.5v1.5h-1.5zM57.4,432.0h1.5v1.5h-1.5zM48.2,431.7h1.5v1.5h-1.5zM42.2,429.7h1.5v1.5h-1.5zM17.1,445.9h1.5v1.5h-1.5zM19.4,447.4h1.5v1.5h-1.5zM30.4,429.5h1.5v1.5h-1.5zM35.3,436.2h1.5v1.5h-1.5zM32.5,436.3h1.5v1.5h-1.5zM42.2,435.0h1.5v1.5h-1.5z" fill="#548ab8"/>
<path d="M71.1,411.4L72.0,412.5L72.5,414.1L73.7,415.1L75.6,414.8L76.7,415.8L77.9,416.8L79.2,417.3L80.4,417.8L81.0,419.5L82.2,420.3L83.5,421.1L85.0,421.3L86.0,422.6L87.8,422.4L88.8,423.7L90.0,424.6L91.5,425.0L92.6,425.8L93.6,426.6L95.4,426.5L96.2,427.1L94.6,427.5L93.8,428.7L92.8,429.7L91.4,430.6L90.2,431.6L89.0,432.8L88.6,434.3L87.7,435.2L86.2,435.6L84.9,436.2L84.3,437.5L84.1,439.1L82.6,439.5L82.3,441.0L81.0,441.7L79.6,442.3L79.2,443.5L77.5,442.2L77.0,440.6L77.5,438.8L76.7,437.3L76.9,435.6L76.7,434.1L76.3,432.5L75.6,431.3L74.6,430.3L74.7,429.0L75.0,427.7L75.6,426.5L75.2,425.2L75.4,423.8L75.0,422.5L74.0,421.4L74.3,420.0L74.4,418.5L73.7,417.3L73.0,415.9L72.7,414.3L71.3,413.1Z" fill="#548ab8"/>
<path d="M72.0,412.1h1.5v1.5h-1.5zM73.8,412.2h1.5v1.5h-1.5zM74.2,412.3h1.5v1.5h-1.5zM76.5,415.5h1.5v1.5h-1.5zM76.9,414.4h1.5v1.5h-1.5zM81.5,418.5h1.5v1.5h-1.5zM80.8,417.3h1.5v1.5h-1.5zM81.4,418.0h1.5v1.5h-1.5zM86.5,421.2h1.5v1.5h-1.5zM85.8,420.1h1.5v1.5h-1.5zM82.9,418.3h1.5v1.5h-1.5zM90.1,421.7h1.5v1.5h-1.5zM87.9,422.1h1.5v1.5h-1.5zM89.6,421.1h1.5v1.5h-1.5zM94.6,425.8h1.5v1.5h-1.5zM93.7,424.2h1.5v1.5h-1.5zM95.5,426.0h1.5v1.5h-1.5zM93.7,429.5h1.5v1.5h-1.5zM93.4,429.2h1.5v1.5h-1.5zM93.4,428.6h1.5v1.5h-1.5zM91.7,430.2h1.5v1.5h-1.5zM92.3,431.4h1.5v1.5h-1.5zM90.2,431.7h1.5v1.5h-1.5zM85.4,435.7h1.5v1.5h-1.5zM87.6,433.4h1.5v1.5h-1.5zM87.4,435.1h1.5v1.5h-1.5zM83.1,440.5h1.5v1.5h-1.5zM83.5,437.6h1.5v1.5h-1.5zM83.3,439.3h1.5v1.5h-1.5zM80.7,441.2h1.5v1.5h-1.5zM81.2,442.8h1.5v1.5h-1.5zM80.0,444.2h1.5v1.5h-1.5zM76.6,444.2h1.5v1.5h-1.5zM75.2,441.6h1.5v1.5h-1.5zM75.8,437.4h1.5v1.5h-1.5zM76.0,437.4h1.5v1.5h-1.5zM74.3,433.0h1.5v1.5h-1.5zM73.0,436.7h1.5v1.5h-1.5zM75.5,435.5h1.5v1.5h-1.5zM73.9,429.6h1.5v1.5h-1.5zM75.0,431.5h1.5v1.5h-1.5zM73.8,426.4h1.5v1.5h-1.5zM74.0,426.5h1.5v1.5h-1.5zM74.3,423.5h1.5v1.5h-1.5zM73.8,422.6h1.5v1.5h-1.5zM73.2,420.0h1.5v1.5h-1.5zM71.1,418.0h1.5v1.5h-1.5zM72.2,420.0h1.5v1.5h-1.5zM72.5,416.6h1.5v1.5h-1.5zM71.0,415.0h1.5v1.5h-1.5zM71.1,412.8h1.5v1.5h-1.5zM70.1,412.3h1.5v1.5h-1.5zM69.1,408.4h1.5v1.5h-1.5zM70.0,409.6h1.5v1.5h-1.5zM71.1,410.6h1.5v1.5h-1.5zM72.1,411.7h1.5v1.5h-1.5zM98.0,426.1h1.5v1.5h-1.5zM109.4,431.8h1.5v1.5h-1.5zM95.4,432.4h1.5v1.5h-1.5zM70.6,431.5h1.5v1.5h-1.5zM73.1,445.6h1.5v1.5h-1.5zM75.2,447.4h1.5v1.5h-1.5zM93.1,423.3h1.5v1.5h-1.5zM73.4,430.9h1.5v1.5h-1.5z" fill="#548ab8"/>
<path d="M132.9,421.9L134.4,421.4L135.4,420.0L137.1,419.9L137.9,418.0L139.4,418.4L140.9,417.8L142.5,418.2L143.9,417.5L145.2,418.1L146.6,418.3L147.7,419.5L149.3,419.0L149.8,420.4L150.6,421.4L152.1,421.8L152.6,423.1L154.2,423.7L153.7,425.7L155.6,426.0L155.8,427.5L156.3,429.3L158.2,429.8L159.1,431.5L161.3,431.6L161.3,433.6L159.4,434.0L157.7,435.0L155.9,435.0L154.6,435.7L153.8,437.2L152.4,438.1L150.9,438.7L149.7,439.6L148.5,440.5L147.5,441.7L145.6,441.0L144.6,442.0L143.2,442.0L141.9,442.4L140.6,442.8L139.2,444.1L137.8,443.3L136.4,442.3L134.6,442.0L134.6,439.9L132.8,439.3L131.9,438.0L131.7,436.6L130.4,435.6L131.1,434.0L129.7,432.3L129.1,430.3L130.3,429.0L130.5,427.4L130.5,425.9L130.7,424.1L132.6,423.2Z" fill="#548ab8"/>
<path d="M135.0,418.4h1.5v1.5h-1.5zM134.1,419.0h1.5v1.5h-1.5zM132.7,419.8h1.5v1.5h-1.5zM140.6,416.2h1.5v1.5h-1.5zM139.4,416.5h1.5v1.5h-1.5zM137.9,414.4h1.5v1.5h-1.5zM144.8,415.6h1.5v1.5h-1.5zM143.4,416.3h1.5v1.5h-1.5zM148.2,416.9h1.5v1.5h-1.5zM151.5,420.7h1.5v1.5h-1.5zM151.9,420.7h1.5v1.5h-1.5zM154.0,418.9h1.5v1.5h-1.5zM154.3,424.3h1.5v1.5h-1.5zM154.9,425.4h1.5v1.5h-1.5zM154.0,422.3h1.5v1.5h-1.5zM154.9,423.9h1.5v1.5h-1.5zM156.8,428.4h1.5v1.5h-1.5zM156.8,427.0h1.5v1.5h-1.5zM158.3,429.0h1.5v1.5h-1.5zM160.0,430.5h1.5v1.5h-1.5zM160.4,432.7h1.5v1.5h-1.5zM159.5,434.7h1.5v1.5h-1.5zM158.5,434.0h1.5v1.5h-1.5zM157.9,434.1h1.5v1.5h-1.5zM155.0,435.6h1.5v1.5h-1.5zM154.7,438.1h1.5v1.5h-1.5zM156.4,435.8h1.5v1.5h-1.5zM149.4,439.4h1.5v1.5h-1.5zM152.0,437.7h1.5v1.5h-1.5zM147.6,440.2h1.5v1.5h-1.5zM144.6,441.8h1.5v1.5h-1.5zM148.2,440.1h1.5v1.5h-1.5zM141.7,442.6h1.5v1.5h-1.5zM141.4,443.6h1.5v1.5h-1.5zM140.2,443.0h1.5v1.5h-1.5zM137.1,442.5h1.5v1.5h-1.5zM134.3,442.0h1.5v1.5h-1.5zM137.4,444.7h1.5v1.5h-1.5zM131.3,439.9h1.5v1.5h-1.5zM132.6,440.1h1.5v1.5h-1.5zM131.9,438.6h1.5v1.5h-1.5zM129.9,434.6h1.5v1.5h-1.5zM130.5,436.2h1.5v1.5h-1.5zM130.3,436.9h1.5v1.5h-1.5zM127.5,431.4h1.5v1.5h-1.5zM129.2,433.0h1.5v1.5h-1.5zM128.5,430.6h1.5v1.5h-1.5zM126.4,427.6h1.5v1.5h-1.5zM129.3,425.5h1.5v1.5h-1.5zM130.3,421.1h1.5v1.5h-1.5zM130.8,422.3h1.5v1.5h-1.5zM131.6,420.7h1.5v1.5h-1.5zM125.7,408.1h1.5v1.5h-1.5zM131.1,410.2h1.5v1.5h-1.5zM128.8,411.1h1.5v1.5h-1.5zM137.9,410.2h1.5v1.5h-1.5zM141.7,409.1h1.5v1.5h-1.5zM134.1,413.2h1.5v1.5h-1.5zM138.6,413.7h1.5v1.5h-1.5zM142.4,414.1h1.5v1.5h-1.5zM144.7,415.2h1.5v1.5h-1.5zM128.0,416.7h1.5v1.5h-1.5zM129.8,419.0h1.5v1.5h-1.5zM128.0,422.8h1.5v1.5h-1.5zM127.7,426.6h1.5v1.5h-1.5zM120.4,431.5h1.5v1.5h-1.5zM124.7,429.9h1.5v1.5h-1.5zM125.7,445.6h1.5v1.5h-1.5zM126.5,447.4h1.5v1.5h-1.5zM129.5,441.8h1.5v1.5h-1.5zM155.3,425.1h1.5v1.5h-1.5zM147.0,417.2h1.5v1.5h-1.5z" fill="#548ab8"/>
<path d="M173.2,432.6L173.8,431.4L174.9,430.4L175.2,429.1L175.4,427.5L176.6,426.5L177.8,425.8L177.9,423.9L179.1,423.1L180.2,422.1L182.0,422.2L182.5,420.2L184.3,420.7L185.6,420.1L186.4,418.4L187.9,418.3L189.4,418.3L190.8,418.6L191.8,416.8L193.4,417.9L194.8,417.5L196.2,416.5L197.5,415.5L199.2,415.4L200.3,414.4L201.8,414.4L202.4,414.0L202.9,415.3L204.5,416.0L204.5,417.3L204.6,418.7L203.8,420.1L204.5,421.4L203.5,422.8L203.7,424.3L203.5,425.8L204.5,427.4L204.4,428.9L204.2,430.4L204.0,431.9L204.3,433.4L203.6,434.9L204.4,436.4L202.7,437.4L202.4,438.8L203.4,440.5L202.1,441.4L200.7,442.0L199.0,441.3L197.5,441.6L196.1,442.8L194.6,441.8L193.4,442.8L192.2,443.6L190.8,443.3L189.5,442.9L188.1,443.4L186.8,443.4L185.8,442.0L184.2,441.6L182.6,441.1L180.7,441.4L179.4,440.6L178.7,439.0L177.8,438.1L176.3,437.6L175.9,436.2L174.2,435.8L174.6,433.9Z" fill="#548ab8"/>
<path d="M172.2,429.9h1.5v1.5h-1.5zM172.1,431.0h1.5v1.5h-1.5zM174.2,426.7h1.5v1.5h-1.5zM173.7,427.7h1.5v1.5h-1.5zM177.7,419.7h1.5v1.5h-1.5zM179.2,421.4h1.5v1.5h-1.5zM177.8,421.4h1.5v1.5h-1.5zM181.0,418.8h1.5v1.5h-1.5zM180.4,420.6h1.5v1.5h-1.5zM182.8,419.0h1.5v1.5h-1.5zM183.4,417.0h1.5v1.5h-1.5zM186.5,417.1h1.5v1.5h-1.5zM183.8,418.4h1.5v1.5h-1.5zM188.2,417.3h1.5v1.5h-1.5zM192.7,415.1h1.5v1.5h-1.5zM188.5,416.2h1.5v1.5h-1.5zM191.0,416.1h1.5v1.5h-1.5zM197.7,414.2h1.5v1.5h-1.5zM195.0,415.4h1.5v1.5h-1.5zM195.6,414.5h1.5v1.5h-1.5zM202.1,412.8h1.5v1.5h-1.5zM198.3,414.1h1.5v1.5h-1.5zM203.9,411.9h1.5v1.5h-1.5zM204.3,413.1h1.5v1.5h-1.5zM204.4,419.0h1.5v1.5h-1.5zM203.8,420.5h1.5v1.5h-1.5zM205.1,417.6h1.5v1.5h-1.5zM206.7,420.7h1.5v1.5h-1.5zM204.9,426.0h1.5v1.5h-1.5zM204.3,425.2h1.5v1.5h-1.5zM204.5,427.6h1.5v1.5h-1.5zM204.1,428.9h1.5v1.5h-1.5zM204.0,430.7h1.5v1.5h-1.5zM203.9,431.5h1.5v1.5h-1.5zM204.0,430.5h1.5v1.5h-1.5zM203.5,436.4h1.5v1.5h-1.5zM203.2,437.4h1.5v1.5h-1.5zM203.2,435.5h1.5v1.5h-1.5zM201.4,440.5h1.5v1.5h-1.5zM203.2,441.1h1.5v1.5h-1.5zM196.3,442.1h1.5v1.5h-1.5zM198.2,441.5h1.5v1.5h-1.5zM196.5,443.2h1.5v1.5h-1.5zM192.9,442.3h1.5v1.5h-1.5zM195.2,442.9h1.5v1.5h-1.5zM195.2,443.2h1.5v1.5h-1.5zM189.4,443.2h1.5v1.5h-1.5zM187.8,442.6h1.5v1.5h-1.5zM185.0,443.2h1.5v1.5h-1.5zM183.1,441.9h1.5v1.5h-1.5zM180.9,440.8h1.5v1.5h-1.5zM181.3,441.1h1.5v1.5h-1.5zM179.5,440.4h1.5v1.5h-1.5zM177.4,439.6h1.5v1.5h-1.5zM178.8,439.5h1.5v1.5h-1.5zM173.3,437.4h1.5v1.5h-1.5zM174.8,436.6h1.5v1.5h-1.5zM174.6,436.4h1.5v1.5h-1.5zM172.1,434.3h1.5v1.5h-1.5zM173.3,434.5h1.5v1.5h-1.5zM187.0,412.2h1.5v1.5h-1.5zM185.5,415.2h1.5v1.5h-1.5zM189.3,414.7h1.5v1.5h-1.5zM193.8,411.1h1.5v1.5h-1.5zM196.9,410.2h1.5v1.5h-1.5zM199.9,409.9h1.5v1.5h-1.5zM202.9,410.2h1.5v1.5h-1.5zM204.4,408.1h1.5v1.5h-1.5zM195.3,413.2h1.5v1.5h-1.5zM198.4,412.6h1.5v1.5h-1.5zM201.4,412.2h1.5v1.5h-1.5zM180.9,417.5h1.5v1.5h-1.5zM178.6,419.0h1.5v1.5h-1.5zM202.9,411.4h1.5v1.5h-1.5zM212.4,431.5h1.5v1.5h-1.5zM172.1,431.2h1.5v1.5h-1.5zM172.1,435.0h1.5v1.5h-1.5zM174.1,423.6h1.5v1.5h-1.5zM201.9,445.6h1.5v1.5h-1.5zM200.3,447.4h1.5v1.5h-1.5zM190.0,443.3h1.5v1.5h-1.5z" fill="#548ab8"/>
<path d="M245.0,416.8L246.4,416.1L247.5,415.3L250.4,415.9L249.4,417.3L250.6,418.6L250.0,420.0L249.9,421.3L250.0,422.8L249.4,424.3L249.2,425.8L250.2,427.4L249.3,428.8L248.4,430.2L248.8,431.8L248.9,433.2L248.6,434.8L249.3,435.6L250.2,437.3L249.6,438.8L248.9,439.8L247.9,441.7L246.2,442.5L244.7,442.9L243.0,442.7L241.7,443.4L240.0,443.7L238.8,442.3L237.6,441.9L236.2,441.1L234.7,440.5L234.0,439.1L232.7,438.4L231.9,437.2L230.2,436.8L229.9,435.1L228.2,434.7L228.0,433.4L227.4,431.8L226.4,430.6L226.8,428.6L227.8,426.9L229.1,426.0L230.7,425.3L231.0,423.5L231.8,422.5L232.8,421.5L233.6,420.5L234.7,419.6L236.3,419.3L237.2,418.1L238.7,417.9L240.0,416.7L241.6,416.2L243.2,416.8Z" fill="#548ab8"/>
<path d="M244.7,413.7h1.5v1.5h-1.5zM245.0,414.3h1.5v1.5h-1.5zM249.2,414.7h1.5v1.5h-1.5zM249.6,417.2h1.5v1.5h-1.5zM251.0,415.8h1.5v1.5h-1.5zM250.3,417.1h1.5v1.5h-1.5zM250.0,424.7h1.5v1.5h-1.5zM250.5,420.6h1.5v1.5h-1.5zM249.5,423.2h1.5v1.5h-1.5zM249.7,422.1h1.5v1.5h-1.5zM249.0,428.0h1.5v1.5h-1.5zM249.9,428.6h1.5v1.5h-1.5zM248.9,430.5h1.5v1.5h-1.5zM248.2,431.7h1.5v1.5h-1.5zM249.8,432.7h1.5v1.5h-1.5zM249.0,433.2h1.5v1.5h-1.5zM252.4,435.7h1.5v1.5h-1.5zM250.5,436.4h1.5v1.5h-1.5zM250.0,435.6h1.5v1.5h-1.5zM248.3,439.9h1.5v1.5h-1.5zM247.9,443.8h1.5v1.5h-1.5zM245.9,445.1h1.5v1.5h-1.5zM245.4,442.6h1.5v1.5h-1.5zM243.9,442.4h1.5v1.5h-1.5zM237.8,443.1h1.5v1.5h-1.5zM238.5,442.5h1.5v1.5h-1.5zM236.9,442.0h1.5v1.5h-1.5zM233.6,441.1h1.5v1.5h-1.5zM232.6,439.8h1.5v1.5h-1.5zM235.3,442.8h1.5v1.5h-1.5zM230.1,436.8h1.5v1.5h-1.5zM230.6,439.2h1.5v1.5h-1.5zM228.2,434.9h1.5v1.5h-1.5zM227.3,434.2h1.5v1.5h-1.5zM225.9,432.7h1.5v1.5h-1.5zM225.2,431.4h1.5v1.5h-1.5zM224.1,427.4h1.5v1.5h-1.5zM225.2,425.7h1.5v1.5h-1.5zM226.2,426.8h1.5v1.5h-1.5zM226.3,424.9h1.5v1.5h-1.5zM227.9,424.9h1.5v1.5h-1.5zM228.8,424.4h1.5v1.5h-1.5zM230.0,421.4h1.5v1.5h-1.5zM232.6,419.9h1.5v1.5h-1.5zM231.5,421.4h1.5v1.5h-1.5zM235.0,417.8h1.5v1.5h-1.5zM236.0,415.8h1.5v1.5h-1.5zM234.9,417.4h1.5v1.5h-1.5zM239.4,415.8h1.5v1.5h-1.5zM238.1,414.8h1.5v1.5h-1.5zM241.1,412.9h1.5v1.5h-1.5zM240.8,414.3h1.5v1.5h-1.5zM244.7,409.6h1.5v1.5h-1.5zM246.2,410.6h1.5v1.5h-1.5zM248.5,411.1h1.5v1.5h-1.5zM250.4,412.2h1.5v1.5h-1.5zM252.0,410.6h1.5v1.5h-1.5zM256.5,408.1h1.5v1.5h-1.5zM237.8,412.9h1.5v1.5h-1.5zM241.6,413.2h1.5v1.5h-1.5zM244.7,412.9h1.5v1.5h-1.5zM247.7,413.2h1.5v1.5h-1.5zM250.0,413.7h1.5v1.5h-1.5zM232.5,419.0h1.5v1.5h-1.5zM236.3,416.0h1.5v1.5h-1.5zM264.4,431.5h1.5v1.5h-1.5zM224.2,427.4h1.5v1.5h-1.5zM224.1,431.9h1.5v1.5h-1.5zM252.3,430.4h1.5v1.5h-1.5zM251.5,432.7h1.5v1.5h-1.5zM250.8,435.7h1.5v1.5h-1.5zM254.5,445.6h1.5v1.5h-1.5zM253.5,447.4h1.5v1.5h-1.5zM250.0,423.6h1.5v1.5h-1.5zM250.4,419.0h1.5v1.5h-1.5z" fill="#548ab8"/>
<path d="M275.5,408.7L275.8,410.1L275.7,412.0L276.7,413.4L277.8,415.0L278.9,416.2L280.5,417.5L282.4,417.7L284.3,417.9L285.5,418.8L286.8,419.7L288.0,420.7L289.4,421.1L290.9,421.2L291.9,422.8L293.4,423.0L294.9,423.0L296.0,424.4L297.3,424.9L298.9,424.6L300.2,425.2L301.6,425.6L303.0,425.3L304.2,426.0L305.5,426.6L307.0,426.4L308.3,427.3L309.9,427.1L311.5,427.6L313.2,426.8L314.7,427.4L316.0,428.0L316.1,429.8L314.7,430.2L313.8,431.2L312.5,432.0L311.4,432.7L309.8,433.2L308.3,434.1L307.1,434.9L305.8,435.7L304.5,436.1L302.8,435.4L301.3,435.5L300.6,437.2L298.8,439.1L296.8,439.1L295.9,440.3L294.7,441.8L292.8,442.1L291.3,442.4L290.1,444.2L288.0,443.3L286.6,442.2L285.9,440.7L286.0,438.8L284.2,437.9L284.4,436.4L284.2,435.0L282.9,434.1L283.2,432.4L282.5,431.1L281.2,430.1L280.9,428.6L280.7,427.2L279.7,426.0L280.0,424.1L279.3,422.5L278.0,421.1L278.2,419.5L277.0,418.2L276.7,416.7L276.8,415.2L276.9,413.8L275.8,412.6L276.0,411.3L276.3,409.9Z" fill="#548ab8"/>
<path d="M275.8,408.8h1.5v1.5h-1.5zM276.7,408.1h1.5v1.5h-1.5zM278.1,411.7h1.5v1.5h-1.5zM278.8,411.4h1.5v1.5h-1.5zM279.7,415.3h1.5v1.5h-1.5zM279.8,414.0h1.5v1.5h-1.5zM282.7,416.8h1.5v1.5h-1.5zM281.8,416.5h1.5v1.5h-1.5zM286.6,418.6h1.5v1.5h-1.5zM286.8,418.8h1.5v1.5h-1.5zM287.4,418.5h1.5v1.5h-1.5zM291.3,421.1h1.5v1.5h-1.5zM291.4,420.1h1.5v1.5h-1.5zM290.0,419.0h1.5v1.5h-1.5zM294.5,418.0h1.5v1.5h-1.5zM294.1,422.2h1.5v1.5h-1.5zM296.7,422.7h1.5v1.5h-1.5zM296.4,421.1h1.5v1.5h-1.5zM299.1,423.2h1.5v1.5h-1.5zM303.9,422.2h1.5v1.5h-1.5zM302.7,423.1h1.5v1.5h-1.5zM299.9,424.0h1.5v1.5h-1.5zM307.5,422.9h1.5v1.5h-1.5zM304.5,424.7h1.5v1.5h-1.5zM309.2,424.8h1.5v1.5h-1.5zM310.4,425.1h1.5v1.5h-1.5zM309.2,424.6h1.5v1.5h-1.5zM313.9,426.4h1.5v1.5h-1.5zM312.8,425.6h1.5v1.5h-1.5zM315.4,428.8h1.5v1.5h-1.5zM315.4,428.8h1.5v1.5h-1.5zM315.4,433.2h1.5v1.5h-1.5zM315.3,429.5h1.5v1.5h-1.5zM313.9,432.3h1.5v1.5h-1.5zM313.5,433.0h1.5v1.5h-1.5zM308.0,434.2h1.5v1.5h-1.5zM308.2,433.4h1.5v1.5h-1.5zM307.3,434.1h1.5v1.5h-1.5zM303.8,435.5h1.5v1.5h-1.5zM302.7,435.9h1.5v1.5h-1.5zM302.3,436.1h1.5v1.5h-1.5zM298.3,438.1h1.5v1.5h-1.5zM295.8,440.3h1.5v1.5h-1.5zM297.5,439.5h1.5v1.5h-1.5zM296.1,442.2h1.5v1.5h-1.5zM295.7,441.2h1.5v1.5h-1.5zM290.0,444.2h1.5v1.5h-1.5zM291.5,443.6h1.5v1.5h-1.5zM288.1,443.1h1.5v1.5h-1.5zM284.7,441.5h1.5v1.5h-1.5zM285.8,441.8h1.5v1.5h-1.5zM284.8,440.0h1.5v1.5h-1.5zM284.4,438.2h1.5v1.5h-1.5zM282.4,435.0h1.5v1.5h-1.5zM283.7,437.0h1.5v1.5h-1.5zM279.2,430.5h1.5v1.5h-1.5zM281.9,432.6h1.5v1.5h-1.5zM279.7,427.6h1.5v1.5h-1.5zM276.7,428.1h1.5v1.5h-1.5zM280.2,428.5h1.5v1.5h-1.5zM277.0,420.6h1.5v1.5h-1.5zM277.9,423.9h1.5v1.5h-1.5zM278.3,424.6h1.5v1.5h-1.5zM276.4,420.2h1.5v1.5h-1.5zM275.1,419.0h1.5v1.5h-1.5zM276.1,420.2h1.5v1.5h-1.5zM275.1,413.0h1.5v1.5h-1.5zM275.1,414.3h1.5v1.5h-1.5zM275.1,409.7h1.5v1.5h-1.5zM275.1,408.1h1.5v1.5h-1.5zM315.4,426.9h1.5v1.5h-1.5zM304.8,424.4h1.5v1.5h-1.5zM295.5,422.0h1.5v1.5h-1.5zM278.5,431.7h1.5v1.5h-1.5zM283.5,445.9h1.5v1.5h-1.5zM288.1,447.4h1.5v1.5h-1.5zM299.6,439.4h1.5v1.5h-1.5zM298.7,437.4h1.5v1.5h-1.5zM288.2,421.2h1.5v1.5h-1.5z" fill="#548ab8"/>
<path d="M330.1,420.3L331.2,419.3L331.6,417.8L332.3,416.3L333.9,416.5L335.0,415.7L336.2,415.7L337.6,415.4L339.1,415.0L340.1,416.0L341.7,415.9L343.0,416.4L343.9,417.6L345.5,417.4L346.2,419.1L347.6,419.3L348.8,419.8L350.4,419.8L351.3,421.0L352.6,421.4L353.8,422.1L354.7,423.3L356.5,422.8L357.6,423.6L358.8,424.3L359.6,425.7L361.4,424.9L362.6,425.5L363.7,426.1L364.6,427.7L366.7,427.1L368.2,427.3L366.8,427.5L366.3,429.5L365.1,430.0L363.1,429.4L362.2,431.1L361.0,432.1L359.5,432.0L358.4,432.9L357.1,433.2L356.1,434.3L354.8,434.8L353.5,435.1L352.1,435.5L351.1,436.6L349.8,437.0L348.3,437.0L347.5,438.4L346.4,439.2L345.0,439.5L344.0,440.5L342.3,440.0L341.4,441.2L339.8,441.8L338.1,442.3L336.7,442.3L335.2,442.7L334.0,441.6L333.0,441.7L331.8,440.3L329.9,439.4L329.6,438.0L329.6,436.6L329.8,435.2L329.0,433.9L328.8,432.6L329.5,431.3L329.7,429.7L328.5,428.0L328.6,426.4L328.9,424.6L329.3,422.8L330.2,421.4Z" fill="url(#lat)"/>
<path d="M332.7,421.8L334.9,419.3L337.7,418.1L341.2,418.1L345.0,419.9L348.8,421.8L352.5,423.7L356.3,425.6L360.1,427.2L363.0,428.0L360.1,429.4L357.0,431.0L353.2,432.9L349.4,434.8L345.6,436.7L341.8,438.6L338.0,439.8L334.9,439.2L333.0,437.0L332.0,433.8L331.7,430.7L332.0,426.9L332.4,424.0Z" fill="#548ab8" stroke="#548ab8" stroke-width="0.8" stroke-linejoin="round"/>
<path d="M328.9,417.8h1.5v1.5h-1.5zM331.5,415.7h1.5v1.5h-1.5zM332.4,415.3h1.5v1.5h-1.5zM335.3,414.3h1.5v1.5h-1.5zM339.5,413.4h1.5v1.5h-1.5zM335.4,414.3h1.5v1.5h-1.5zM335.6,413.9h1.5v1.5h-1.5zM343.0,413.0h1.5v1.5h-1.5zM341.9,414.5h1.5v1.5h-1.5zM342.6,415.4h1.5v1.5h-1.5zM347.1,417.9h1.5v1.5h-1.5zM346.5,416.8h1.5v1.5h-1.5zM348.7,418.6h1.5v1.5h-1.5zM355.3,419.8h1.5v1.5h-1.5zM354.5,420.5h1.5v1.5h-1.5zM353.0,420.8h1.5v1.5h-1.5zM356.6,420.4h1.5v1.5h-1.5zM357.0,422.9h1.5v1.5h-1.5zM356.2,422.1h1.5v1.5h-1.5zM361.3,424.8h1.5v1.5h-1.5zM363.3,424.3h1.5v1.5h-1.5zM363.6,424.5h1.5v1.5h-1.5zM359.8,424.3h1.5v1.5h-1.5zM366.0,426.4h1.5v1.5h-1.5zM367.3,426.9h1.5v1.5h-1.5zM365.5,429.6h1.5v1.5h-1.5zM367.2,431.3h1.5v1.5h-1.5zM365.9,430.4h1.5v1.5h-1.5zM362.9,429.8h1.5v1.5h-1.5zM360.1,430.9h1.5v1.5h-1.5zM362.4,429.9h1.5v1.5h-1.5zM358.6,432.1h1.5v1.5h-1.5zM356.9,433.6h1.5v1.5h-1.5zM355.9,433.3h1.5v1.5h-1.5zM354.9,433.6h1.5v1.5h-1.5zM353.8,434.2h1.5v1.5h-1.5zM355.4,434.4h1.5v1.5h-1.5zM347.5,437.5h1.5v1.5h-1.5zM347.8,437.5h1.5v1.5h-1.5zM349.1,436.5h1.5v1.5h-1.5zM343.1,439.5h1.5v1.5h-1.5zM344.3,439.5h1.5v1.5h-1.5zM344.0,441.1h1.5v1.5h-1.5zM338.9,441.2h1.5v1.5h-1.5zM336.3,443.4h1.5v1.5h-1.5zM340.1,440.9h1.5v1.5h-1.5zM333.8,441.8h1.5v1.5h-1.5zM334.7,442.4h1.5v1.5h-1.5zM335.0,442.1h1.5v1.5h-1.5zM330.5,440.5h1.5v1.5h-1.5zM331.0,440.5h1.5v1.5h-1.5zM327.3,438.2h1.5v1.5h-1.5zM328.6,436.8h1.5v1.5h-1.5zM327.1,435.8h1.5v1.5h-1.5zM327.2,433.3h1.5v1.5h-1.5zM327.1,431.9h1.5v1.5h-1.5zM327.5,432.1h1.5v1.5h-1.5zM328.0,426.1h1.5v1.5h-1.5zM327.9,426.8h1.5v1.5h-1.5zM327.7,428.8h1.5v1.5h-1.5zM327.1,424.0h1.5v1.5h-1.5zM327.6,424.6h1.5v1.5h-1.5zM327.3,421.5h1.5v1.5h-1.5zM328.5,421.5h1.5v1.5h-1.5zM327.3,411.1h1.5v1.5h-1.5zM328.9,409.9h1.5v1.5h-1.5zM330.6,408.7h1.5v1.5h-1.5zM331.8,408.1h1.5v1.5h-1.5zM336.2,410.3h1.5v1.5h-1.5zM332.2,412.3h1.5v1.5h-1.5zM334.6,412.7h1.5v1.5h-1.5zM337.0,412.3h1.5v1.5h-1.5zM340.7,412.3h1.5v1.5h-1.5zM345.1,414.7h1.5v1.5h-1.5zM349.6,417.2h1.5v1.5h-1.5zM327.1,416.7h1.5v1.5h-1.5zM327.3,423.2h1.5v1.5h-1.5zM327.1,431.7h1.5v1.5h-1.5zM328.9,445.9h1.5v1.5h-1.5zM333.4,447.4h1.5v1.5h-1.5zM329.3,415.1h1.5v1.5h-1.5zM331.0,413.9h1.5v1.5h-1.5zM333.4,413.5h1.5v1.5h-1.5z" fill="#548ab8"/>
<path d="M18.0,469.2L18.6,467.0L20.6,467.1L21.9,467.8L22.7,468.5L23.7,469.8L25.0,471.0L25.3,473.0L27.5,473.9L27.6,475.5L28.4,476.5L29.6,477.3L30.9,478.4L32.3,479.8L33.6,480.4L35.1,479.9L36.6,479.9L37.8,480.4L39.0,481.6L40.2,482.2L41.8,481.8L43.1,482.1L44.4,482.5L46.1,483.1L47.5,484.0L49.7,484.1L47.7,484.7L46.1,485.1L44.5,486.3L43.2,485.7L41.8,485.6L40.5,485.5L39.1,484.8L37.8,486.0L36.3,485.3L35.0,485.6L33.7,486.1L32.3,486.2L30.8,487.2L29.3,487.6L27.8,488.0L26.0,488.6L25.7,490.1L24.5,491.0L23.5,493.6L22.2,493.8L21.1,494.4L18.9,493.8L18.4,492.3L17.5,491.0L17.7,489.7L18.1,488.4L17.5,487.1L17.5,485.8L17.5,484.5L17.5,483.2L18.5,481.9L18.0,480.6L17.9,479.3L18.2,478.0L17.5,476.7L17.5,475.4L18.4,474.1L17.8,472.8L17.5,471.5L17.5,470.2Z" fill="#548ab8"/>
<path d="M17.1,466.7h1.5v1.5h-1.5zM18.2,465.7h1.5v1.5h-1.5zM20.7,465.5h1.5v1.5h-1.5zM23.0,466.4h1.5v1.5h-1.5zM23.6,468.8h1.5v1.5h-1.5zM23.5,467.2h1.5v1.5h-1.5zM25.5,470.5h1.5v1.5h-1.5zM25.7,471.7h1.5v1.5h-1.5zM31.3,474.0h1.5v1.5h-1.5zM28.8,475.5h1.5v1.5h-1.5zM32.2,477.6h1.5v1.5h-1.5zM29.8,476.5h1.5v1.5h-1.5zM34.7,478.8h1.5v1.5h-1.5zM33.6,478.1h1.5v1.5h-1.5zM35.4,475.8h1.5v1.5h-1.5zM38.1,477.8h1.5v1.5h-1.5zM37.6,479.6h1.5v1.5h-1.5zM40.3,480.0h1.5v1.5h-1.5zM40.1,480.3h1.5v1.5h-1.5zM41.6,480.5h1.5v1.5h-1.5zM44.2,481.6h1.5v1.5h-1.5zM46.6,479.5h1.5v1.5h-1.5zM48.1,482.0h1.5v1.5h-1.5zM49.1,483.8h1.5v1.5h-1.5zM46.1,487.5h1.5v1.5h-1.5zM45.7,485.6h1.5v1.5h-1.5zM42.4,485.1h1.5v1.5h-1.5zM39.9,485.6h1.5v1.5h-1.5zM37.2,485.4h1.5v1.5h-1.5zM36.1,485.6h1.5v1.5h-1.5zM38.8,486.8h1.5v1.5h-1.5zM35.3,485.5h1.5v1.5h-1.5zM32.5,485.8h1.5v1.5h-1.5zM29.1,486.7h1.5v1.5h-1.5zM28.9,487.0h1.5v1.5h-1.5zM27.4,487.7h1.5v1.5h-1.5zM27.1,489.7h1.5v1.5h-1.5zM26.4,490.6h1.5v1.5h-1.5zM23.7,491.8h1.5v1.5h-1.5zM25.5,492.6h1.5v1.5h-1.5zM21.7,496.0h1.5v1.5h-1.5zM18.2,493.4h1.5v1.5h-1.5zM19.7,493.8h1.5v1.5h-1.5zM17.1,492.7h1.5v1.5h-1.5zM17.1,489.1h1.5v1.5h-1.5zM17.1,479.4h1.5v1.5h-1.5zM17.1,487.2h1.5v1.5h-1.5zM17.1,468.5h1.5v1.5h-1.5zM17.1,477.2h1.5v1.5h-1.5zM17.1,474.0h1.5v1.5h-1.5zM17.1,469.9h1.5v1.5h-1.5zM17.1,471.0h1.5v1.5h-1.5zM17.1,490.5h1.5v1.5h-1.5zM17.1,489.8h1.5v1.5h-1.5zM17.1,468.8h1.5v1.5h-1.5zM17.1,474.8h1.5v1.5h-1.5zM17.1,479.5h1.5v1.5h-1.5zM17.1,489.3h1.5v1.5h-1.5zM17.1,459.1h1.5v1.5h-1.5zM19.1,460.0h1.5v1.5h-1.5zM19.9,460.7h1.5v1.5h-1.5zM17.1,461.6h1.5v1.5h-1.5zM20.3,462.0h1.5v1.5h-1.5zM17.1,463.7h1.5v1.5h-1.5zM19.5,463.7h1.5v1.5h-1.5zM22.4,464.1h1.5v1.5h-1.5zM17.1,465.7h1.5v1.5h-1.5zM20.3,466.1h1.5v1.5h-1.5zM22.8,466.3h1.5v1.5h-1.5zM18.3,459.2h1.5v1.5h-1.5zM21.1,462.9h1.5v1.5h-1.5zM37.5,475.6h1.5v1.5h-1.5zM37.3,477.8h1.5v1.5h-1.5zM51.9,482.5h1.5v1.5h-1.5zM57.4,482.5h1.5v1.5h-1.5zM48.2,482.3h1.5v1.5h-1.5zM42.2,480.2h1.5v1.5h-1.5zM17.1,496.4h1.5v1.5h-1.5zM19.4,498.4h1.5v1.5h-1.5zM30.4,480.1h1.5v1.5h-1.5zM35.3,486.7h1.5v1.5h-1.5zM32.5,486.9h1.5v1.5h-1.5zM42.2,485.5h1.5v1.5h-1.5z" fill="#548ab8"/>
<path d="M70.8,462.2L71.7,463.4L73.3,463.8L74.1,465.1L75.6,465.4L76.9,466.1L78.2,466.9L79.0,468.1L79.7,469.5L80.9,470.2L82.6,470.1L83.4,471.8L85.2,471.5L86.6,472.1L87.7,473.1L88.7,474.6L90.0,475.2L91.5,475.6L93.2,475.4L93.9,476.8L95.1,477.5L96.1,477.5L95.1,478.6L94.2,479.8L92.7,480.1L91.4,481.1L90.4,482.4L89.5,483.9L88.6,484.9L86.9,485.0L85.8,485.7L84.9,486.8L84.2,488.0L83.9,489.4L82.9,490.3L82.3,491.5L80.8,492.1L80.2,493.6L79.3,493.9L77.3,492.8L78.2,491.0L78.1,489.3L77.0,487.8L77.5,486.1L77.1,484.6L75.7,483.3L75.5,481.9L74.7,480.8L75.4,479.8L75.8,478.5L75.4,477.0L76.4,475.4L75.8,474.2L75.6,472.8L74.3,471.9L75.0,470.3L73.4,469.4L74.1,467.8L72.4,466.7L72.3,465.0L72.0,463.3Z" fill="#548ab8"/>
<path d="M70.8,461.5h1.5v1.5h-1.5zM70.7,461.2h1.5v1.5h-1.5zM74.5,463.4h1.5v1.5h-1.5zM76.5,465.5h1.5v1.5h-1.5zM80.4,467.7h1.5v1.5h-1.5zM81.1,469.1h1.5v1.5h-1.5zM78.8,464.2h1.5v1.5h-1.5zM78.5,467.1h1.5v1.5h-1.5zM84.9,471.2h1.5v1.5h-1.5zM85.3,470.5h1.5v1.5h-1.5zM86.1,471.1h1.5v1.5h-1.5zM82.4,469.7h1.5v1.5h-1.5zM90.1,473.4h1.5v1.5h-1.5zM92.4,474.2h1.5v1.5h-1.5zM88.6,472.3h1.5v1.5h-1.5zM96.1,476.5h1.5v1.5h-1.5zM93.3,474.7h1.5v1.5h-1.5zM94.2,478.8h1.5v1.5h-1.5zM94.5,479.9h1.5v1.5h-1.5zM94.6,479.0h1.5v1.5h-1.5zM92.2,481.5h1.5v1.5h-1.5zM90.7,481.7h1.5v1.5h-1.5zM92.3,481.8h1.5v1.5h-1.5zM89.5,484.1h1.5v1.5h-1.5zM86.2,485.6h1.5v1.5h-1.5zM87.5,485.2h1.5v1.5h-1.5zM84.5,487.1h1.5v1.5h-1.5zM83.9,487.6h1.5v1.5h-1.5zM83.0,489.6h1.5v1.5h-1.5zM79.9,492.3h1.5v1.5h-1.5zM81.4,493.5h1.5v1.5h-1.5zM79.8,492.0h1.5v1.5h-1.5zM76.9,493.0h1.5v1.5h-1.5zM76.0,494.3h1.5v1.5h-1.5zM75.5,489.2h1.5v1.5h-1.5zM76.4,489.5h1.5v1.5h-1.5zM75.0,490.0h1.5v1.5h-1.5zM75.5,484.6h1.5v1.5h-1.5zM73.4,484.2h1.5v1.5h-1.5zM73.2,481.2h1.5v1.5h-1.5zM74.5,481.2h1.5v1.5h-1.5zM73.0,479.5h1.5v1.5h-1.5zM72.8,475.8h1.5v1.5h-1.5zM73.1,478.1h1.5v1.5h-1.5zM74.0,475.0h1.5v1.5h-1.5zM72.3,473.0h1.5v1.5h-1.5zM72.1,467.7h1.5v1.5h-1.5zM72.6,471.0h1.5v1.5h-1.5zM71.1,464.7h1.5v1.5h-1.5zM71.4,466.6h1.5v1.5h-1.5zM70.1,463.3h1.5v1.5h-1.5zM71.1,463.6h1.5v1.5h-1.5zM69.1,459.1h1.5v1.5h-1.5zM70.0,460.1h1.5v1.5h-1.5zM71.1,461.2h1.5v1.5h-1.5zM72.1,462.3h1.5v1.5h-1.5zM98.0,476.7h1.5v1.5h-1.5zM109.4,482.3h1.5v1.5h-1.5zM95.4,482.9h1.5v1.5h-1.5zM70.6,482.0h1.5v1.5h-1.5zM73.1,496.2h1.5v1.5h-1.5zM75.2,498.4h1.5v1.5h-1.5zM93.1,473.8h1.5v1.5h-1.5zM73.4,481.4h1.5v1.5h-1.5z" fill="#548ab8"/>
<path d="M132.7,472.1L133.9,471.1L135.7,471.2L136.9,470.1L137.9,468.6L139.5,469.6L140.9,468.4L142.4,468.3L143.9,468.3L145.3,468.4L146.5,469.1L147.8,469.6L148.7,470.1L150.4,470.3L150.7,471.9L152.2,472.3L153.3,473.2L153.2,474.9L154.2,475.9L154.9,477.1L155.9,478.1L156.9,479.4L157.6,480.9L159.1,482.0L161.5,482.2L161.5,485.0L159.3,484.2L157.5,485.3L156.5,486.5L155.3,487.3L154.0,488.0L152.2,488.4L151.1,489.5L150.1,490.9L148.4,490.6L147.4,492.1L146.2,492.9L144.7,493.0L143.4,493.4L141.9,492.9L140.6,493.5L139.6,493.8L138.3,492.8L136.2,493.4L134.5,492.6L134.3,490.7L133.0,489.6L131.4,488.7L132.1,487.0L130.5,486.1L130.7,484.7L130.4,482.8L129.7,481.0L130.3,479.5L130.0,477.9L130.5,476.5L131.6,475.2L131.8,473.4Z" fill="#548ab8"/>
<path d="M132.6,469.2h1.5v1.5h-1.5zM133.4,470.1h1.5v1.5h-1.5zM133.6,468.2h1.5v1.5h-1.5zM141.1,466.9h1.5v1.5h-1.5zM138.1,467.0h1.5v1.5h-1.5zM137.9,467.6h1.5v1.5h-1.5zM142.2,466.7h1.5v1.5h-1.5zM143.4,467.0h1.5v1.5h-1.5zM144.6,463.1h1.5v1.5h-1.5zM148.3,467.8h1.5v1.5h-1.5zM151.6,470.3h1.5v1.5h-1.5zM150.5,468.8h1.5v1.5h-1.5zM151.4,470.1h1.5v1.5h-1.5zM155.7,476.1h1.5v1.5h-1.5zM154.3,474.5h1.5v1.5h-1.5zM155.0,476.6h1.5v1.5h-1.5zM154.2,473.7h1.5v1.5h-1.5zM157.6,479.5h1.5v1.5h-1.5zM159.6,479.6h1.5v1.5h-1.5zM158.5,480.7h1.5v1.5h-1.5zM159.2,481.1h1.5v1.5h-1.5zM160.0,478.7h1.5v1.5h-1.5zM160.4,482.2h1.5v1.5h-1.5zM160.4,481.6h1.5v1.5h-1.5zM158.3,484.9h1.5v1.5h-1.5zM159.2,485.1h1.5v1.5h-1.5zM157.5,485.8h1.5v1.5h-1.5zM154.8,487.0h1.5v1.5h-1.5zM156.6,485.0h1.5v1.5h-1.5zM152.8,488.3h1.5v1.5h-1.5zM153.2,487.7h1.5v1.5h-1.5zM146.0,494.0h1.5v1.5h-1.5zM145.7,492.3h1.5v1.5h-1.5zM145.4,493.2h1.5v1.5h-1.5zM139.7,494.6h1.5v1.5h-1.5zM143.3,496.7h1.5v1.5h-1.5zM143.7,492.5h1.5v1.5h-1.5zM136.3,494.2h1.5v1.5h-1.5zM135.9,493.2h1.5v1.5h-1.5zM136.4,493.2h1.5v1.5h-1.5zM133.6,491.1h1.5v1.5h-1.5zM131.5,490.5h1.5v1.5h-1.5zM132.7,490.0h1.5v1.5h-1.5zM129.9,485.4h1.5v1.5h-1.5zM130.3,487.0h1.5v1.5h-1.5zM129.5,485.1h1.5v1.5h-1.5zM126.9,483.4h1.5v1.5h-1.5zM129.3,483.3h1.5v1.5h-1.5zM128.9,477.1h1.5v1.5h-1.5zM129.2,475.9h1.5v1.5h-1.5zM128.8,478.2h1.5v1.5h-1.5zM130.9,472.3h1.5v1.5h-1.5zM130.0,473.3h1.5v1.5h-1.5zM130.4,472.0h1.5v1.5h-1.5zM125.7,459.1h1.5v1.5h-1.5zM131.1,460.7h1.5v1.5h-1.5zM128.8,461.7h1.5v1.5h-1.5zM137.9,460.7h1.5v1.5h-1.5zM141.7,459.7h1.5v1.5h-1.5zM134.1,463.8h1.5v1.5h-1.5zM138.6,464.2h1.5v1.5h-1.5zM142.4,464.7h1.5v1.5h-1.5zM144.7,465.8h1.5v1.5h-1.5zM128.0,467.3h1.5v1.5h-1.5zM129.8,469.6h1.5v1.5h-1.5zM128.0,473.4h1.5v1.5h-1.5zM127.7,477.2h1.5v1.5h-1.5zM120.4,482.0h1.5v1.5h-1.5zM124.7,480.5h1.5v1.5h-1.5zM125.7,496.2h1.5v1.5h-1.5zM126.5,498.4h1.5v1.5h-1.5zM129.5,492.4h1.5v1.5h-1.5zM155.3,475.6h1.5v1.5h-1.5zM147.0,467.7h1.5v1.5h-1.5z" fill="#548ab8"/>
<path d="M173.7,483.4L174.7,482.3L175.2,481.0L175.4,479.8L176.3,478.6L177.1,477.3L177.4,475.9L178.2,474.7L179.2,473.6L180.1,472.5L181.3,471.6L182.9,471.5L183.8,469.9L185.1,469.4L186.5,469.1L187.8,468.6L189.3,468.9L190.7,468.6L192.1,468.7L193.3,467.8L194.8,467.9L196.0,466.5L197.8,467.0L199.4,466.5L200.7,466.0L201.9,465.3L202.9,464.2L203.4,465.5L204.0,466.5L204.1,467.9L203.4,469.2L204.8,470.6L204.3,472.0L203.4,473.3L204.5,474.9L203.6,476.4L204.2,477.9L204.9,479.4L204.0,480.9L204.6,482.5L203.2,483.9L204.2,485.5L203.1,486.7L203.7,488.2L203.3,489.5L203.3,490.9L201.9,491.5L200.7,492.6L199.1,492.6L197.6,493.1L196.1,492.9L194.8,493.6L193.3,492.4L191.9,492.6L190.8,494.0L189.4,493.7L188.2,493.2L186.8,493.4L185.8,492.6L183.9,492.8L182.3,492.6L180.8,491.8L180.1,490.1L178.3,490.1L177.3,489.1L176.2,488.3L175.6,487.0L174.9,486.1L173.9,484.7Z" fill="#548ab8"/>
<path d="M172.7,481.7h1.5v1.5h-1.5zM173.3,479.8h1.5v1.5h-1.5zM173.7,478.9h1.5v1.5h-1.5zM175.2,476.4h1.5v1.5h-1.5zM175.2,475.1h1.5v1.5h-1.5zM176.4,474.3h1.5v1.5h-1.5zM179.0,471.7h1.5v1.5h-1.5zM178.2,472.9h1.5v1.5h-1.5zM181.2,470.5h1.5v1.5h-1.5zM180.1,471.3h1.5v1.5h-1.5zM181.7,469.8h1.5v1.5h-1.5zM183.3,469.4h1.5v1.5h-1.5zM187.8,466.2h1.5v1.5h-1.5zM186.2,467.7h1.5v1.5h-1.5zM188.8,466.0h1.5v1.5h-1.5zM191.2,465.4h1.5v1.5h-1.5zM189.9,466.7h1.5v1.5h-1.5zM196.2,465.4h1.5v1.5h-1.5zM194.0,465.9h1.5v1.5h-1.5zM195.8,464.4h1.5v1.5h-1.5zM199.0,463.9h1.5v1.5h-1.5zM198.5,464.9h1.5v1.5h-1.5zM204.8,463.3h1.5v1.5h-1.5zM203.3,464.0h1.5v1.5h-1.5zM203.9,467.7h1.5v1.5h-1.5zM205.2,472.1h1.5v1.5h-1.5zM204.4,468.3h1.5v1.5h-1.5zM203.9,469.5h1.5v1.5h-1.5zM203.8,472.7h1.5v1.5h-1.5zM204.4,476.6h1.5v1.5h-1.5zM204.6,478.6h1.5v1.5h-1.5zM203.7,475.8h1.5v1.5h-1.5zM203.7,481.6h1.5v1.5h-1.5zM203.6,481.1h1.5v1.5h-1.5zM203.7,482.2h1.5v1.5h-1.5zM202.8,489.9h1.5v1.5h-1.5zM203.2,488.5h1.5v1.5h-1.5zM203.9,489.7h1.5v1.5h-1.5zM201.5,493.8h1.5v1.5h-1.5zM200.2,491.8h1.5v1.5h-1.5zM197.9,492.3h1.5v1.5h-1.5zM196.4,493.0h1.5v1.5h-1.5zM195.0,493.9h1.5v1.5h-1.5zM195.1,494.1h1.5v1.5h-1.5zM194.2,492.6h1.5v1.5h-1.5zM184.9,493.2h1.5v1.5h-1.5zM187.1,493.4h1.5v1.5h-1.5zM187.8,493.9h1.5v1.5h-1.5zM182.1,492.0h1.5v1.5h-1.5zM184.2,492.6h1.5v1.5h-1.5zM181.6,493.2h1.5v1.5h-1.5zM177.5,491.1h1.5v1.5h-1.5zM179.3,490.7h1.5v1.5h-1.5zM173.7,486.2h1.5v1.5h-1.5zM175.1,487.4h1.5v1.5h-1.5zM174.3,487.7h1.5v1.5h-1.5zM172.1,486.3h1.5v1.5h-1.5zM172.7,484.8h1.5v1.5h-1.5zM187.0,462.7h1.5v1.5h-1.5zM185.5,465.8h1.5v1.5h-1.5zM189.3,465.3h1.5v1.5h-1.5zM193.8,461.7h1.5v1.5h-1.5zM196.9,460.7h1.5v1.5h-1.5zM199.9,460.4h1.5v1.5h-1.5zM202.9,460.7h1.5v1.5h-1.5zM204.4,459.1h1.5v1.5h-1.5zM195.3,463.8h1.5v1.5h-1.5zM198.4,463.2h1.5v1.5h-1.5zM201.4,462.7h1.5v1.5h-1.5zM180.9,468.0h1.5v1.5h-1.5zM178.6,469.6h1.5v1.5h-1.5zM202.9,462.0h1.5v1.5h-1.5zM212.4,482.0h1.5v1.5h-1.5zM172.1,481.7h1.5v1.5h-1.5zM172.1,485.5h1.5v1.5h-1.5zM174.1,474.1h1.5v1.5h-1.5zM201.9,496.2h1.5v1.5h-1.5zM200.3,498.4h1.5v1.5h-1.5zM190.0,493.9h1.5v1.5h-1.5z" fill="#548ab8"/>
<path d="M244.5,466.1L246.4,466.7L247.3,466.4L249.6,466.5L249.3,467.9L250.0,469.2L249.3,470.5L250.6,471.8L250.1,473.3L249.3,474.8L249.3,476.3L249.8,477.8L249.6,479.5L249.1,481.0L248.7,482.4L248.2,484.0L248.9,485.2L250.4,486.3L249.0,487.7L248.4,489.1L249.0,490.5L247.4,491.5L246.3,493.5L244.8,493.8L243.1,493.7L241.6,494.4L240.2,493.7L238.5,493.7L237.0,493.1L235.9,492.1L235.1,490.6L233.5,490.1L232.5,489.1L231.2,488.4L230.0,487.6L229.6,485.9L228.0,485.5L227.3,484.3L227.5,482.3L226.1,481.0L227.8,479.8L227.7,477.4L229.7,477.1L229.8,475.1L230.7,473.8L232.1,473.3L232.9,472.2L233.9,471.3L234.8,470.3L236.1,469.5L237.5,469.0L238.9,468.9L240.3,468.1L241.7,467.6L243.1,466.4Z" fill="#548ab8"/>
<path d="M244.5,465.4h1.5v1.5h-1.5zM246.3,464.3h1.5v1.5h-1.5zM248.2,465.1h1.5v1.5h-1.5zM248.5,463.3h1.5v1.5h-1.5zM249.5,469.2h1.5v1.5h-1.5zM249.7,468.7h1.5v1.5h-1.5zM250.2,469.7h1.5v1.5h-1.5zM249.3,476.0h1.5v1.5h-1.5zM249.7,473.6h1.5v1.5h-1.5zM251.0,474.0h1.5v1.5h-1.5zM248.7,480.1h1.5v1.5h-1.5zM249.1,479.5h1.5v1.5h-1.5zM248.4,480.2h1.5v1.5h-1.5zM249.6,485.3h1.5v1.5h-1.5zM249.2,485.3h1.5v1.5h-1.5zM250.2,486.4h1.5v1.5h-1.5zM249.3,485.6h1.5v1.5h-1.5zM249.0,487.2h1.5v1.5h-1.5zM248.6,493.3h1.5v1.5h-1.5zM246.0,492.1h1.5v1.5h-1.5zM244.7,492.9h1.5v1.5h-1.5zM244.5,492.8h1.5v1.5h-1.5zM242.7,493.4h1.5v1.5h-1.5zM236.9,493.1h1.5v1.5h-1.5zM237.9,493.0h1.5v1.5h-1.5zM237.6,493.1h1.5v1.5h-1.5zM233.5,490.3h1.5v1.5h-1.5zM233.6,491.1h1.5v1.5h-1.5zM233.4,490.7h1.5v1.5h-1.5zM230.8,488.2h1.5v1.5h-1.5zM230.6,488.0h1.5v1.5h-1.5zM231.8,489.1h1.5v1.5h-1.5zM228.2,486.2h1.5v1.5h-1.5zM227.9,488.1h1.5v1.5h-1.5zM225.0,482.2h1.5v1.5h-1.5zM224.3,483.2h1.5v1.5h-1.5zM226.7,477.1h1.5v1.5h-1.5zM225.3,477.0h1.5v1.5h-1.5zM229.0,473.4h1.5v1.5h-1.5zM227.2,474.0h1.5v1.5h-1.5zM226.5,471.3h1.5v1.5h-1.5zM231.7,471.1h1.5v1.5h-1.5zM230.9,472.4h1.5v1.5h-1.5zM232.4,469.1h1.5v1.5h-1.5zM236.6,468.0h1.5v1.5h-1.5zM234.3,466.1h1.5v1.5h-1.5zM234.6,468.7h1.5v1.5h-1.5zM237.5,466.0h1.5v1.5h-1.5zM239.7,464.9h1.5v1.5h-1.5zM241.9,463.6h1.5v1.5h-1.5zM242.4,465.1h1.5v1.5h-1.5zM244.7,460.1h1.5v1.5h-1.5zM246.2,461.2h1.5v1.5h-1.5zM248.5,461.7h1.5v1.5h-1.5zM250.4,462.7h1.5v1.5h-1.5zM252.0,461.2h1.5v1.5h-1.5zM256.5,459.1h1.5v1.5h-1.5zM237.8,463.5h1.5v1.5h-1.5zM241.6,463.8h1.5v1.5h-1.5zM244.7,463.5h1.5v1.5h-1.5zM247.7,463.8h1.5v1.5h-1.5zM250.0,464.2h1.5v1.5h-1.5zM232.5,469.6h1.5v1.5h-1.5zM236.3,466.5h1.5v1.5h-1.5zM264.4,482.0h1.5v1.5h-1.5zM224.2,477.9h1.5v1.5h-1.5zM224.1,482.5h1.5v1.5h-1.5zM252.3,481.0h1.5v1.5h-1.5zM251.5,483.2h1.5v1.5h-1.5zM250.8,486.3h1.5v1.5h-1.5zM254.5,496.2h1.5v1.5h-1.5zM253.5,498.4h1.5v1.5h-1.5zM250.0,474.1h1.5v1.5h-1.5zM250.4,469.6h1.5v1.5h-1.5z" fill="#548ab8"/>
<path d="M275.5,459.8L275.5,461.1L276.4,462.0L276.8,463.9L278.6,464.7L279.6,466.2L280.8,467.4L282.1,468.8L283.7,469.7L285.6,469.3L286.4,471.0L288.1,471.0L289.3,471.9L291.0,471.5L292.2,472.5L293.3,473.8L295.1,473.1L296.3,474.0L297.7,474.4L299.0,475.0L300.3,475.5L301.7,475.2L302.9,476.4L304.4,475.6L305.8,476.0L307.1,476.1L308.3,477.9L309.9,477.7L311.6,477.5L313.3,477.2L314.8,477.7L316.3,478.5L316.4,480.7L314.6,480.6L313.6,481.6L312.7,482.7L311.3,482.9L310.1,484.7L308.3,484.6L306.8,484.7L305.6,485.5L304.3,486.1L303.0,486.5L301.5,486.7L299.8,487.0L298.7,489.6L297.2,490.1L296.0,491.1L294.8,492.6L292.8,492.6L291.5,493.4L290.3,493.8L288.5,493.5L287.0,492.5L285.9,491.2L285.3,489.8L284.1,488.5L284.0,487.0L283.7,485.8L282.5,484.8L282.3,483.3L281.7,482.0L282.2,480.2L281.5,479.0L281.0,477.6L280.5,476.3L279.6,474.8L278.4,473.4L278.0,471.7L277.9,470.1L277.0,468.8L277.7,467.0L276.7,465.8L276.7,464.4L275.7,463.2L275.6,461.4Z" fill="#548ab8"/>
<path d="M276.1,459.1h1.5v1.5h-1.5zM277.3,459.1h1.5v1.5h-1.5zM276.8,461.8h1.5v1.5h-1.5zM277.0,460.6h1.5v1.5h-1.5zM278.6,464.8h1.5v1.5h-1.5zM279.3,464.1h1.5v1.5h-1.5zM281.7,467.3h1.5v1.5h-1.5zM280.5,466.1h1.5v1.5h-1.5zM286.7,469.5h1.5v1.5h-1.5zM287.3,465.7h1.5v1.5h-1.5zM291.4,471.4h1.5v1.5h-1.5zM289.2,470.5h1.5v1.5h-1.5zM290.7,469.6h1.5v1.5h-1.5zM294.1,471.2h1.5v1.5h-1.5zM292.2,471.3h1.5v1.5h-1.5zM297.5,473.7h1.5v1.5h-1.5zM298.1,473.7h1.5v1.5h-1.5zM297.5,473.3h1.5v1.5h-1.5zM300.3,474.6h1.5v1.5h-1.5zM303.3,473.1h1.5v1.5h-1.5zM300.1,474.3h1.5v1.5h-1.5zM304.8,475.4h1.5v1.5h-1.5zM304.7,474.9h1.5v1.5h-1.5zM308.4,476.0h1.5v1.5h-1.5zM309.3,476.2h1.5v1.5h-1.5zM308.2,476.0h1.5v1.5h-1.5zM315.4,476.2h1.5v1.5h-1.5zM314.4,477.1h1.5v1.5h-1.5zM315.4,477.6h1.5v1.5h-1.5zM315.4,478.0h1.5v1.5h-1.5zM314.2,481.0h1.5v1.5h-1.5zM314.6,481.6h1.5v1.5h-1.5zM311.6,483.5h1.5v1.5h-1.5zM312.1,483.2h1.5v1.5h-1.5zM309.4,484.3h1.5v1.5h-1.5zM309.6,484.7h1.5v1.5h-1.5zM307.8,484.7h1.5v1.5h-1.5zM304.4,486.3h1.5v1.5h-1.5zM307.0,485.0h1.5v1.5h-1.5zM301.3,488.0h1.5v1.5h-1.5zM301.9,487.3h1.5v1.5h-1.5zM300.9,486.4h1.5v1.5h-1.5zM299.4,487.8h1.5v1.5h-1.5zM302.9,490.4h1.5v1.5h-1.5zM295.8,490.7h1.5v1.5h-1.5zM298.0,492.0h1.5v1.5h-1.5zM294.5,491.4h1.5v1.5h-1.5zM293.1,492.5h1.5v1.5h-1.5zM290.5,495.3h1.5v1.5h-1.5zM290.2,493.5h1.5v1.5h-1.5zM288.9,493.8h1.5v1.5h-1.5zM288.9,494.0h1.5v1.5h-1.5zM285.8,493.0h1.5v1.5h-1.5zM286.5,492.3h1.5v1.5h-1.5zM284.7,489.7h1.5v1.5h-1.5zM284.2,488.5h1.5v1.5h-1.5zM282.9,486.7h1.5v1.5h-1.5zM282.1,484.0h1.5v1.5h-1.5zM282.8,485.4h1.5v1.5h-1.5zM281.7,483.2h1.5v1.5h-1.5zM281.5,484.0h1.5v1.5h-1.5zM279.0,476.8h1.5v1.5h-1.5zM278.9,476.0h1.5v1.5h-1.5zM277.1,472.2h1.5v1.5h-1.5zM277.3,472.0h1.5v1.5h-1.5zM278.8,475.6h1.5v1.5h-1.5zM276.7,469.8h1.5v1.5h-1.5zM275.2,467.4h1.5v1.5h-1.5zM276.1,470.6h1.5v1.5h-1.5zM275.1,463.8h1.5v1.5h-1.5zM275.7,465.7h1.5v1.5h-1.5zM275.1,459.4h1.5v1.5h-1.5zM275.1,461.1h1.5v1.5h-1.5zM275.1,460.1h1.5v1.5h-1.5zM315.4,477.4h1.5v1.5h-1.5zM304.8,475.0h1.5v1.5h-1.5zM295.5,472.6h1.5v1.5h-1.5zM278.5,482.3h1.5v1.5h-1.5zM283.5,496.4h1.5v1.5h-1.5zM288.1,498.4h1.5v1.5h-1.5zM299.6,490.0h1.5v1.5h-1.5zM298.7,487.9h1.5v1.5h-1.5zM288.2,471.8h1.5v1.5h-1.5z" fill="#548ab8"/>
<path d="M329.7,470.5L330.8,469.6L331.5,468.2L332.8,467.8L333.7,466.6L334.8,465.9L336.2,465.5L337.6,466.1L339.1,466.5L340.5,465.8L341.6,466.6L343.2,466.6L344.2,467.5L345.1,468.8L346.2,469.5L347.9,469.2L349.1,469.8L350.4,470.4L351.0,472.1L352.7,471.8L353.8,472.5L355.3,472.5L356.1,474.0L357.2,474.8L358.4,475.5L359.8,475.7L360.8,476.8L362.1,477.2L363.7,476.7L364.8,477.7L366.5,478.4L368.5,478.8L367.4,479.1L365.7,478.8L364.6,479.6L363.3,480.5L362.1,481.3L360.9,482.3L359.7,483.0L358.4,483.5L357.0,483.6L356.0,484.7L354.3,484.3L353.7,486.1L351.9,485.6L350.6,486.1L350.0,487.8L348.7,488.2L347.5,489.0L346.4,489.7L345.2,490.5L343.8,490.7L342.4,491.0L341.2,491.4L339.9,492.7L338.1,492.8L336.5,493.8L335.4,492.3L333.9,492.9L332.2,493.0L331.5,491.1L329.7,490.0L329.8,488.5L329.3,487.2L328.4,485.9L329.2,484.5L329.5,483.1L329.5,481.9L328.6,480.2L328.9,478.6L329.4,477.0L328.8,475.1L330.2,473.4L330.2,472.0Z" fill="url(#lat)"/>
<path d="M332.7,472.4L334.9,469.9L337.7,468.6L341.2,468.6L345.0,470.5L348.8,472.4L352.5,474.3L356.3,476.2L360.1,477.8L363.0,478.6L360.1,480.0L357.0,481.5L353.2,483.4L349.4,485.3L345.6,487.2L341.8,489.1L338.0,490.4L334.9,489.8L333.0,487.5L332.0,484.4L331.7,481.2L332.0,477.4L332.4,474.6Z" fill="#548ab8" stroke="#548ab8" stroke-width="0.8" stroke-linejoin="round"/>
<path d="M328.5,469.2h1.5v1.5h-1.5zM329.9,468.2h1.5v1.5h-1.5zM329.9,468.3h1.5v1.5h-1.5zM334.8,465.0h1.5v1.5h-1.5zM333.2,464.7h1.5v1.5h-1.5zM338.1,464.0h1.5v1.5h-1.5zM336.9,464.8h1.5v1.5h-1.5zM343.1,465.3h1.5v1.5h-1.5zM342.5,461.2h1.5v1.5h-1.5zM343.0,465.6h1.5v1.5h-1.5zM346.2,467.4h1.5v1.5h-1.5zM348.8,468.4h1.5v1.5h-1.5zM349.1,469.4h1.5v1.5h-1.5zM352.0,470.0h1.5v1.5h-1.5zM353.8,471.8h1.5v1.5h-1.5zM352.6,469.8h1.5v1.5h-1.5zM350.9,468.4h1.5v1.5h-1.5zM356.9,472.3h1.5v1.5h-1.5zM359.2,473.8h1.5v1.5h-1.5zM359.2,474.1h1.5v1.5h-1.5zM357.6,473.8h1.5v1.5h-1.5zM360.9,474.6h1.5v1.5h-1.5zM361.8,475.6h1.5v1.5h-1.5zM360.1,474.0h1.5v1.5h-1.5zM361.3,475.3h1.5v1.5h-1.5zM364.3,476.5h1.5v1.5h-1.5zM364.6,476.1h1.5v1.5h-1.5zM367.4,481.0h1.5v1.5h-1.5zM365.5,479.6h1.5v1.5h-1.5zM361.9,480.6h1.5v1.5h-1.5zM364.0,483.4h1.5v1.5h-1.5zM362.7,480.8h1.5v1.5h-1.5zM359.4,482.6h1.5v1.5h-1.5zM360.1,481.7h1.5v1.5h-1.5zM359.4,482.2h1.5v1.5h-1.5zM351.0,486.9h1.5v1.5h-1.5zM352.1,488.0h1.5v1.5h-1.5zM353.7,486.4h1.5v1.5h-1.5zM350.2,487.0h1.5v1.5h-1.5zM347.8,488.6h1.5v1.5h-1.5zM349.8,487.4h1.5v1.5h-1.5zM345.8,488.9h1.5v1.5h-1.5zM343.3,490.0h1.5v1.5h-1.5zM345.3,489.2h1.5v1.5h-1.5zM345.5,490.8h1.5v1.5h-1.5zM336.6,493.6h1.5v1.5h-1.5zM338.6,492.1h1.5v1.5h-1.5zM338.0,492.4h1.5v1.5h-1.5zM334.0,493.1h1.5v1.5h-1.5zM331.0,495.9h1.5v1.5h-1.5zM333.9,495.0h1.5v1.5h-1.5zM330.3,492.2h1.5v1.5h-1.5zM329.7,491.4h1.5v1.5h-1.5zM328.7,488.8h1.5v1.5h-1.5zM329.1,488.9h1.5v1.5h-1.5zM327.4,484.9h1.5v1.5h-1.5zM327.8,484.2h1.5v1.5h-1.5zM327.1,482.7h1.5v1.5h-1.5zM327.9,479.0h1.5v1.5h-1.5zM327.3,479.3h1.5v1.5h-1.5zM327.1,479.1h1.5v1.5h-1.5zM327.9,473.3h1.5v1.5h-1.5zM327.1,474.2h1.5v1.5h-1.5zM328.2,471.1h1.5v1.5h-1.5zM327.1,469.6h1.5v1.5h-1.5zM327.3,461.6h1.5v1.5h-1.5zM328.9,460.4h1.5v1.5h-1.5zM330.6,459.2h1.5v1.5h-1.5zM331.8,459.1h1.5v1.5h-1.5zM336.2,460.8h1.5v1.5h-1.5zM332.2,462.9h1.5v1.5h-1.5zM334.6,463.3h1.5v1.5h-1.5zM337.0,462.9h1.5v1.5h-1.5zM340.7,462.9h1.5v1.5h-1.5zM345.1,465.3h1.5v1.5h-1.5zM349.6,467.7h1.5v1.5h-1.5zM327.1,467.3h1.5v1.5h-1.5zM327.3,473.8h1.5v1.5h-1.5zM327.1,482.3h1.5v1.5h-1.5zM328.9,496.4h1.5v1.5h-1.5zM333.4,498.4h1.5v1.5h-1.5zM329.3,465.7h1.5v1.5h-1.5zM331.0,464.5h1.5v1.5h-1.5zM333.4,464.1h1.5v1.5h-1.5z" fill="#548ab8"/>
<path d="M17.9,519.7L18.7,518.1L21.4,516.6L21.8,518.5L22.9,519.0L23.8,520.3L25.3,521.3L25.3,523.6L27.0,524.8L27.2,526.3L28.3,527.2L29.2,528.5L30.5,529.6L32.3,530.5L33.7,530.3L35.2,530.2L36.5,530.5L37.8,531.3L39.1,531.6L40.2,532.7L41.9,531.7L43.3,532.0L44.3,533.5L45.8,534.3L47.5,534.6L49.9,535.1L47.7,535.5L46.2,536.4L44.5,536.4L43.2,536.5L41.9,535.7L40.4,535.4L39.2,536.7L37.8,536.1L36.5,536.6L35.1,536.8L33.7,536.5L32.3,537.0L30.6,536.9L28.6,537.2L27.9,538.8L26.7,539.6L26.2,541.1L25.5,542.4L23.6,544.2L21.9,543.7L21.1,545.2L18.9,544.3L18.0,542.9L17.6,541.6L18.4,540.3L17.5,539.0L17.8,537.7L17.5,536.4L17.9,535.1L18.6,533.8L18.0,532.5L17.7,531.2L18.5,529.8L17.5,528.5L17.7,527.2L17.9,525.9L18.6,524.6L18.2,523.3L18.1,522.0L17.6,520.7Z" fill="#548ab8"/>
<path d="M17.1,517.8h1.5v1.5h-1.5zM20.0,516.3h1.5v1.5h-1.5zM18.2,516.4h1.5v1.5h-1.5zM22.4,517.2h1.5v1.5h-1.5zM22.6,517.7h1.5v1.5h-1.5zM23.7,517.7h1.5v1.5h-1.5zM26.7,518.9h1.5v1.5h-1.5zM24.9,521.3h1.5v1.5h-1.5zM25.8,520.9h1.5v1.5h-1.5zM29.5,526.3h1.5v1.5h-1.5zM29.6,523.9h1.5v1.5h-1.5zM28.9,527.0h1.5v1.5h-1.5zM30.9,527.9h1.5v1.5h-1.5zM31.4,528.2h1.5v1.5h-1.5zM33.7,529.5h1.5v1.5h-1.5zM34.8,529.5h1.5v1.5h-1.5zM35.3,529.1h1.5v1.5h-1.5zM39.0,530.5h1.5v1.5h-1.5zM36.5,528.2h1.5v1.5h-1.5zM43.8,531.2h1.5v1.5h-1.5zM42.9,531.0h1.5v1.5h-1.5zM45.3,532.5h1.5v1.5h-1.5zM45.7,532.5h1.5v1.5h-1.5zM48.8,532.8h1.5v1.5h-1.5zM48.3,535.1h1.5v1.5h-1.5zM46.2,536.4h1.5v1.5h-1.5zM46.3,535.3h1.5v1.5h-1.5zM40.9,535.9h1.5v1.5h-1.5zM40.7,537.0h1.5v1.5h-1.5zM38.3,536.2h1.5v1.5h-1.5zM37.6,535.9h1.5v1.5h-1.5zM39.6,536.3h1.5v1.5h-1.5zM35.7,535.9h1.5v1.5h-1.5zM35.7,536.5h1.5v1.5h-1.5zM31.7,536.5h1.5v1.5h-1.5zM29.0,538.9h1.5v1.5h-1.5zM27.9,539.4h1.5v1.5h-1.5zM28.1,540.2h1.5v1.5h-1.5zM24.9,541.1h1.5v1.5h-1.5zM25.6,541.8h1.5v1.5h-1.5zM24.2,542.5h1.5v1.5h-1.5zM21.8,544.9h1.5v1.5h-1.5zM22.2,544.4h1.5v1.5h-1.5zM18.2,545.8h1.5v1.5h-1.5zM19.3,544.7h1.5v1.5h-1.5zM17.4,543.5h1.5v1.5h-1.5zM17.1,530.8h1.5v1.5h-1.5zM17.1,528.9h1.5v1.5h-1.5zM17.1,530.0h1.5v1.5h-1.5zM17.1,527.5h1.5v1.5h-1.5zM17.1,526.7h1.5v1.5h-1.5zM17.1,524.3h1.5v1.5h-1.5zM17.1,533.9h1.5v1.5h-1.5zM17.1,536.7h1.5v1.5h-1.5zM17.1,542.0h1.5v1.5h-1.5zM17.1,531.7h1.5v1.5h-1.5zM17.1,530.5h1.5v1.5h-1.5zM17.1,536.7h1.5v1.5h-1.5zM17.1,527.4h1.5v1.5h-1.5zM17.1,535.8h1.5v1.5h-1.5zM17.1,509.1h1.5v1.5h-1.5zM19.1,510.6h1.5v1.5h-1.5zM19.9,511.2h1.5v1.5h-1.5zM17.1,512.2h1.5v1.5h-1.5zM20.3,512.6h1.5v1.5h-1.5zM17.1,514.2h1.5v1.5h-1.5zM19.5,514.2h1.5v1.5h-1.5zM22.4,514.6h1.5v1.5h-1.5zM17.1,516.2h1.5v1.5h-1.5zM20.3,516.6h1.5v1.5h-1.5zM22.8,516.9h1.5v1.5h-1.5zM18.3,509.8h1.5v1.5h-1.5zM21.1,513.4h1.5v1.5h-1.5zM37.5,526.1h1.5v1.5h-1.5zM37.3,528.4h1.5v1.5h-1.5zM51.9,533.1h1.5v1.5h-1.5zM57.4,533.1h1.5v1.5h-1.5zM48.2,532.8h1.5v1.5h-1.5zM42.2,530.8h1.5v1.5h-1.5zM17.1,547.0h1.5v1.5h-1.5zM19.4,548.4h1.5v1.5h-1.5zM30.4,530.6h1.5v1.5h-1.5zM35.3,537.3h1.5v1.5h-1.5zM32.5,537.4h1.5v1.5h-1.5zM42.2,536.1h1.5v1.5h-1.5z" fill="#548ab8"/>
<path d="M70.6,513.0L71.6,514.0L73.0,514.7L73.8,516.1L75.4,516.3L76.8,516.8L77.9,517.8L79.3,518.2L80.4,519.0L81.1,520.5L82.6,520.6L83.8,521.5L85.2,522.1L86.0,523.8L88.0,523.2L89.1,524.3L90.2,525.4L91.5,526.1L92.7,526.7L94.2,526.9L95.6,527.3L96.7,528.8L95.4,529.5L94.2,530.3L92.4,530.3L91.7,532.0L90.2,532.8L89.3,534.2L88.3,535.1L87.2,535.8L85.8,536.3L85.3,537.7L84.7,538.9L83.8,539.9L82.5,540.5L81.7,541.5L80.6,542.5L79.7,543.6L78.7,545.1L77.4,543.4L77.1,541.7L77.5,540.0L77.3,538.2L76.8,536.8L76.6,535.2L75.8,533.8L75.9,532.3L75.1,531.2L74.3,529.9L75.1,528.8L75.3,527.5L75.7,526.2L75.0,525.0L74.5,523.7L74.9,522.2L74.6,521.0L74.1,519.7L73.4,518.6L73.4,516.9L72.9,515.3L71.4,514.1Z" fill="#548ab8"/>
<path d="M75.5,512.3h1.5v1.5h-1.5zM70.9,512.0h1.5v1.5h-1.5zM71.2,511.9h1.5v1.5h-1.5zM73.5,514.8h1.5v1.5h-1.5zM74.6,515.4h1.5v1.5h-1.5zM75.2,515.5h1.5v1.5h-1.5zM78.2,516.8h1.5v1.5h-1.5zM82.1,518.3h1.5v1.5h-1.5zM77.9,517.4h1.5v1.5h-1.5zM82.3,519.2h1.5v1.5h-1.5zM86.1,522.0h1.5v1.5h-1.5zM82.2,519.2h1.5v1.5h-1.5zM92.3,525.0h1.5v1.5h-1.5zM90.2,519.4h1.5v1.5h-1.5zM89.5,523.5h1.5v1.5h-1.5zM95.4,527.0h1.5v1.5h-1.5zM94.5,525.3h1.5v1.5h-1.5zM94.2,532.1h1.5v1.5h-1.5zM94.2,529.5h1.5v1.5h-1.5zM88.8,533.7h1.5v1.5h-1.5zM88.8,533.3h1.5v1.5h-1.5zM91.7,532.5h1.5v1.5h-1.5zM86.0,536.6h1.5v1.5h-1.5zM87.3,536.5h1.5v1.5h-1.5zM87.0,535.7h1.5v1.5h-1.5zM84.1,539.2h1.5v1.5h-1.5zM84.8,539.8h1.5v1.5h-1.5zM82.4,541.6h1.5v1.5h-1.5zM81.6,541.6h1.5v1.5h-1.5zM78.5,543.9h1.5v1.5h-1.5zM76.0,543.3h1.5v1.5h-1.5zM74.5,538.5h1.5v1.5h-1.5zM76.1,539.0h1.5v1.5h-1.5zM75.8,540.2h1.5v1.5h-1.5zM72.6,535.3h1.5v1.5h-1.5zM75.1,533.5h1.5v1.5h-1.5zM73.8,530.3h1.5v1.5h-1.5zM73.8,530.6h1.5v1.5h-1.5zM74.0,528.2h1.5v1.5h-1.5zM74.2,525.6h1.5v1.5h-1.5zM73.3,521.8h1.5v1.5h-1.5zM72.6,523.1h1.5v1.5h-1.5zM74.0,524.2h1.5v1.5h-1.5zM70.1,522.4h1.5v1.5h-1.5zM72.2,518.8h1.5v1.5h-1.5zM71.3,515.3h1.5v1.5h-1.5zM71.9,516.4h1.5v1.5h-1.5zM70.2,513.7h1.5v1.5h-1.5zM71.3,514.2h1.5v1.5h-1.5zM69.1,509.5h1.5v1.5h-1.5zM70.0,510.7h1.5v1.5h-1.5zM71.1,511.8h1.5v1.5h-1.5zM72.1,512.8h1.5v1.5h-1.5zM98.0,527.3h1.5v1.5h-1.5zM109.4,532.9h1.5v1.5h-1.5zM95.4,533.5h1.5v1.5h-1.5zM70.6,532.6h1.5v1.5h-1.5zM73.1,546.7h1.5v1.5h-1.5zM75.2,548.4h1.5v1.5h-1.5zM93.1,524.4h1.5v1.5h-1.5zM73.4,532.0h1.5v1.5h-1.5z" fill="#548ab8"/>
<path d="M132.8,522.8L134.0,521.8L135.6,521.6L136.7,520.3L137.9,519.6L139.4,519.3L140.9,519.0L142.5,519.0L143.9,518.7L145.0,520.0L146.6,519.4L147.8,520.1L148.6,520.8L149.7,521.5L151.0,522.2L152.4,522.7L153.1,523.9L153.1,525.5L153.7,526.7L155.3,527.3L156.4,528.2L157.2,529.7L158.1,531.0L159.0,532.7L161.1,532.7L161.3,535.0L159.4,535.0L157.6,536.0L156.3,536.8L154.7,536.9L153.6,538.1L152.1,538.7L151.1,540.1L149.8,540.8L148.6,541.7L147.0,541.6L146.0,543.1L144.5,542.7L143.5,544.4L142.1,544.3L140.7,544.3L139.5,544.6L137.8,544.4L136.5,543.2L135.1,542.7L133.7,541.8L132.8,540.4L132.2,539.0L132.1,537.5L130.5,536.7L131.3,535.1L130.5,533.3L129.9,531.6L130.1,530.0L131.1,528.6L130.6,527.1L131.8,525.8L131.7,523.9Z" fill="#548ab8"/>
<path d="M132.7,519.9h1.5v1.5h-1.5zM133.2,519.6h1.5v1.5h-1.5zM135.6,519.0h1.5v1.5h-1.5zM131.2,520.3h1.5v1.5h-1.5zM136.8,515.8h1.5v1.5h-1.5zM140.8,517.7h1.5v1.5h-1.5zM142.4,516.1h1.5v1.5h-1.5zM147.6,519.0h1.5v1.5h-1.5zM147.8,518.8h1.5v1.5h-1.5zM144.5,518.2h1.5v1.5h-1.5zM149.9,520.2h1.5v1.5h-1.5zM151.2,521.5h1.5v1.5h-1.5zM151.1,521.8h1.5v1.5h-1.5zM149.2,519.0h1.5v1.5h-1.5zM155.9,526.9h1.5v1.5h-1.5zM153.1,523.6h1.5v1.5h-1.5zM152.5,523.4h1.5v1.5h-1.5zM154.8,523.8h1.5v1.5h-1.5zM157.6,529.1h1.5v1.5h-1.5zM157.2,529.3h1.5v1.5h-1.5zM158.1,530.7h1.5v1.5h-1.5zM160.4,531.6h1.5v1.5h-1.5zM160.4,532.5h1.5v1.5h-1.5zM160.4,534.0h1.5v1.5h-1.5zM157.7,535.2h1.5v1.5h-1.5zM158.8,535.1h1.5v1.5h-1.5zM155.9,536.3h1.5v1.5h-1.5zM154.3,538.8h1.5v1.5h-1.5zM154.1,537.5h1.5v1.5h-1.5zM153.0,538.2h1.5v1.5h-1.5zM153.3,539.3h1.5v1.5h-1.5zM145.4,543.4h1.5v1.5h-1.5zM145.4,542.5h1.5v1.5h-1.5zM148.2,541.9h1.5v1.5h-1.5zM143.7,543.6h1.5v1.5h-1.5zM139.9,543.9h1.5v1.5h-1.5zM143.6,543.9h1.5v1.5h-1.5zM134.5,542.7h1.5v1.5h-1.5zM135.9,543.7h1.5v1.5h-1.5zM132.9,541.5h1.5v1.5h-1.5zM131.9,540.5h1.5v1.5h-1.5zM133.0,542.9h1.5v1.5h-1.5zM128.9,535.9h1.5v1.5h-1.5zM128.3,536.7h1.5v1.5h-1.5zM128.9,532.2h1.5v1.5h-1.5zM129.4,534.5h1.5v1.5h-1.5zM128.8,534.0h1.5v1.5h-1.5zM128.9,529.6h1.5v1.5h-1.5zM128.7,530.5h1.5v1.5h-1.5zM128.9,528.9h1.5v1.5h-1.5zM130.2,524.7h1.5v1.5h-1.5zM131.7,521.8h1.5v1.5h-1.5zM130.0,522.7h1.5v1.5h-1.5zM125.7,509.2h1.5v1.5h-1.5zM131.1,511.3h1.5v1.5h-1.5zM128.8,512.2h1.5v1.5h-1.5zM137.9,511.3h1.5v1.5h-1.5zM141.7,510.2h1.5v1.5h-1.5zM134.1,514.3h1.5v1.5h-1.5zM138.6,514.8h1.5v1.5h-1.5zM142.4,515.2h1.5v1.5h-1.5zM144.7,516.3h1.5v1.5h-1.5zM128.0,517.8h1.5v1.5h-1.5zM129.8,520.1h1.5v1.5h-1.5zM128.0,523.9h1.5v1.5h-1.5zM127.7,527.7h1.5v1.5h-1.5zM120.4,532.6h1.5v1.5h-1.5zM124.7,531.1h1.5v1.5h-1.5zM125.7,546.7h1.5v1.5h-1.5zM126.5,548.4h1.5v1.5h-1.5zM129.5,542.9h1.5v1.5h-1.5zM155.3,526.2h1.5v1.5h-1.5zM147.0,518.3h1.5v1.5h-1.5z" fill="#548ab8"/>
<path d="M173.6,533.9L173.5,532.4L175.1,531.6L175.1,530.1L175.4,528.6L176.8,527.7L176.8,525.9L178.1,525.2L179.4,524.4L180.7,524.0L181.2,522.1L183.2,522.5L183.8,520.4L185.3,520.6L186.5,519.6L187.8,519.1L189.4,519.8L190.8,519.7L192.1,519.4L193.3,518.4L194.5,517.6L196.0,517.0L197.8,517.4L199.0,516.1L200.7,516.6L201.5,514.9L203.3,514.6L203.1,516.3L204.5,517.1L204.2,518.4L204.9,519.8L204.8,521.2L204.5,522.5L204.7,523.9L204.5,525.4L204.1,526.9L204.2,528.5L204.4,530.0L203.6,531.5L204.4,533.0L204.2,534.5L204.1,536.1L203.0,537.2L203.2,538.6L203.5,540.1L202.8,540.7L202.1,542.5L200.6,542.7L199.1,543.0L197.5,542.6L196.0,543.3L194.7,543.6L193.4,543.6L191.9,543.1L190.8,543.6L189.5,543.7L188.2,543.2L186.8,543.5L185.8,543.1L184.0,543.3L182.8,541.9L181.4,541.4L179.9,540.9L178.6,540.2L176.8,540.1L176.8,538.3L175.7,537.5L174.6,536.7L173.6,535.4Z" fill="#548ab8"/>
<path d="M172.3,528.9h1.5v1.5h-1.5zM173.4,529.6h1.5v1.5h-1.5zM174.0,529.0h1.5v1.5h-1.5zM172.6,527.6h1.5v1.5h-1.5zM174.5,527.9h1.5v1.5h-1.5zM177.3,524.1h1.5v1.5h-1.5zM178.9,522.2h1.5v1.5h-1.5zM179.1,522.3h1.5v1.5h-1.5zM181.5,520.8h1.5v1.5h-1.5zM182.3,520.1h1.5v1.5h-1.5zM186.5,517.9h1.5v1.5h-1.5zM186.7,518.9h1.5v1.5h-1.5zM186.5,517.8h1.5v1.5h-1.5zM192.9,516.8h1.5v1.5h-1.5zM193.6,516.0h1.5v1.5h-1.5zM190.7,517.6h1.5v1.5h-1.5zM190.6,517.0h1.5v1.5h-1.5zM196.6,515.2h1.5v1.5h-1.5zM196.4,514.9h1.5v1.5h-1.5zM197.3,515.1h1.5v1.5h-1.5zM198.7,515.3h1.5v1.5h-1.5zM200.7,514.3h1.5v1.5h-1.5zM204.8,513.9h1.5v1.5h-1.5zM204.1,513.7h1.5v1.5h-1.5zM203.9,516.6h1.5v1.5h-1.5zM203.8,520.8h1.5v1.5h-1.5zM204.0,520.7h1.5v1.5h-1.5zM205.1,519.0h1.5v1.5h-1.5zM204.4,528.8h1.5v1.5h-1.5zM205.5,523.6h1.5v1.5h-1.5zM203.8,523.4h1.5v1.5h-1.5zM208.5,535.0h1.5v1.5h-1.5zM206.7,533.4h1.5v1.5h-1.5zM204.0,534.1h1.5v1.5h-1.5zM205.7,534.4h1.5v1.5h-1.5zM203.7,536.3h1.5v1.5h-1.5zM203.8,536.1h1.5v1.5h-1.5zM204.3,536.0h1.5v1.5h-1.5zM201.3,542.3h1.5v1.5h-1.5zM202.4,541.6h1.5v1.5h-1.5zM196.2,543.5h1.5v1.5h-1.5zM198.8,542.7h1.5v1.5h-1.5zM195.9,542.9h1.5v1.5h-1.5zM190.9,544.0h1.5v1.5h-1.5zM193.9,543.6h1.5v1.5h-1.5zM195.1,543.0h1.5v1.5h-1.5zM191.1,544.7h1.5v1.5h-1.5zM186.0,543.9h1.5v1.5h-1.5zM185.1,548.3h1.5v1.5h-1.5zM187.0,543.4h1.5v1.5h-1.5zM184.4,543.2h1.5v1.5h-1.5zM180.0,541.8h1.5v1.5h-1.5zM181.9,542.9h1.5v1.5h-1.5zM176.7,540.4h1.5v1.5h-1.5zM179.2,541.4h1.5v1.5h-1.5zM173.6,536.1h1.5v1.5h-1.5zM174.1,537.3h1.5v1.5h-1.5zM172.7,534.4h1.5v1.5h-1.5zM172.1,534.1h1.5v1.5h-1.5zM187.0,513.3h1.5v1.5h-1.5zM185.5,516.3h1.5v1.5h-1.5zM189.3,515.9h1.5v1.5h-1.5zM193.8,512.2h1.5v1.5h-1.5zM196.9,511.3h1.5v1.5h-1.5zM199.9,511.0h1.5v1.5h-1.5zM202.9,511.3h1.5v1.5h-1.5zM204.4,509.2h1.5v1.5h-1.5zM195.3,514.3h1.5v1.5h-1.5zM198.4,513.7h1.5v1.5h-1.5zM201.4,513.3h1.5v1.5h-1.5zM180.9,518.6h1.5v1.5h-1.5zM178.6,520.1h1.5v1.5h-1.5zM202.9,512.5h1.5v1.5h-1.5zM212.4,532.6h1.5v1.5h-1.5zM172.1,532.3h1.5v1.5h-1.5zM172.1,536.1h1.5v1.5h-1.5zM174.1,524.7h1.5v1.5h-1.5zM201.9,546.7h1.5v1.5h-1.5zM200.3,548.4h1.5v1.5h-1.5zM190.0,544.4h1.5v1.5h-1.5z" fill="#548ab8"/>
<path d="M244.8,517.5L246.5,517.3L247.4,516.6L250.3,517.0L249.5,518.4L250.6,519.7L250.0,521.1L249.9,522.4L250.6,523.9L249.4,525.4L249.8,526.9L250.0,528.5L248.6,529.7L248.4,531.3L248.7,532.9L249.2,534.2L249.9,535.4L249.4,536.7L249.5,538.3L249.7,539.9L249.3,541.4L247.5,542.2L246.0,542.9L244.7,544.3L243.0,544.0L241.6,545.2L240.1,544.6L238.8,543.4L237.3,543.3L235.8,542.8L234.7,541.6L233.9,540.4L232.1,540.1L232.0,538.2L230.3,537.8L229.0,537.1L228.6,535.4L227.2,534.8L226.8,533.1L226.3,531.7L226.8,529.7L227.9,528.1L229.0,527.0L229.7,525.6L231.8,525.4L232.5,524.2L232.8,522.7L234.1,522.1L235.3,521.7L235.9,519.9L237.8,520.1L238.6,518.7L240.4,519.0L241.7,518.2L243.2,517.8Z" fill="#548ab8"/>
<path d="M245.8,514.9h1.5v1.5h-1.5zM245.4,513.3h1.5v1.5h-1.5zM248.9,515.9h1.5v1.5h-1.5zM250.7,520.9h1.5v1.5h-1.5zM249.8,518.3h1.5v1.5h-1.5zM250.7,519.4h1.5v1.5h-1.5zM249.8,522.7h1.5v1.5h-1.5zM250.2,522.0h1.5v1.5h-1.5zM249.8,525.4h1.5v1.5h-1.5zM249.9,526.5h1.5v1.5h-1.5zM250.4,528.9h1.5v1.5h-1.5zM249.7,528.6h1.5v1.5h-1.5zM249.5,529.7h1.5v1.5h-1.5zM251.6,532.5h1.5v1.5h-1.5zM249.1,535.1h1.5v1.5h-1.5zM249.4,540.3h1.5v1.5h-1.5zM249.2,538.8h1.5v1.5h-1.5zM249.4,537.9h1.5v1.5h-1.5zM245.9,542.7h1.5v1.5h-1.5zM249.8,542.5h1.5v1.5h-1.5zM245.5,543.4h1.5v1.5h-1.5zM242.7,543.7h1.5v1.5h-1.5zM245.5,543.2h1.5v1.5h-1.5zM238.7,544.6h1.5v1.5h-1.5zM239.5,544.1h1.5v1.5h-1.5zM238.5,543.7h1.5v1.5h-1.5zM234.6,542.5h1.5v1.5h-1.5zM235.2,542.6h1.5v1.5h-1.5zM234.0,541.7h1.5v1.5h-1.5zM231.8,540.3h1.5v1.5h-1.5zM230.6,538.8h1.5v1.5h-1.5zM227.7,537.7h1.5v1.5h-1.5zM226.9,536.1h1.5v1.5h-1.5zM228.1,536.2h1.5v1.5h-1.5zM226.0,533.7h1.5v1.5h-1.5zM224.1,532.4h1.5v1.5h-1.5zM226.2,528.4h1.5v1.5h-1.5zM226.4,528.3h1.5v1.5h-1.5zM225.4,530.0h1.5v1.5h-1.5zM226.4,526.3h1.5v1.5h-1.5zM227.2,525.8h1.5v1.5h-1.5zM228.4,525.4h1.5v1.5h-1.5zM232.9,520.4h1.5v1.5h-1.5zM234.0,520.2h1.5v1.5h-1.5zM231.3,522.0h1.5v1.5h-1.5zM234.9,519.2h1.5v1.5h-1.5zM235.7,518.8h1.5v1.5h-1.5zM234.2,519.0h1.5v1.5h-1.5zM238.1,517.5h1.5v1.5h-1.5zM243.6,516.3h1.5v1.5h-1.5zM242.5,515.7h1.5v1.5h-1.5zM244.7,510.7h1.5v1.5h-1.5zM246.2,511.8h1.5v1.5h-1.5zM248.5,512.2h1.5v1.5h-1.5zM250.4,513.3h1.5v1.5h-1.5zM252.0,511.8h1.5v1.5h-1.5zM256.5,509.2h1.5v1.5h-1.5zM237.8,514.0h1.5v1.5h-1.5zM241.6,514.3h1.5v1.5h-1.5zM244.7,514.0h1.5v1.5h-1.5zM247.7,514.3h1.5v1.5h-1.5zM250.0,514.8h1.5v1.5h-1.5zM232.5,520.1h1.5v1.5h-1.5zM236.3,517.1h1.5v1.5h-1.5zM264.4,532.6h1.5v1.5h-1.5zM224.2,528.5h1.5v1.5h-1.5zM224.1,533.0h1.5v1.5h-1.5zM252.3,531.5h1.5v1.5h-1.5zM251.5,533.8h1.5v1.5h-1.5zM250.8,536.8h1.5v1.5h-1.5zM254.5,546.7h1.5v1.5h-1.5zM253.5,548.4h1.5v1.5h-1.5zM250.0,524.7h1.5v1.5h-1.5zM250.4,520.1h1.5v1.5h-1.5z" fill="#548ab8"/>
<path d="M275.5,509.9L275.5,511.3L276.0,512.8L277.6,513.8L278.5,515.4L279.0,517.2L280.8,518.0L282.3,519.0L284.0,519.7L285.2,520.6L287.0,520.5L288.3,521.0L289.5,522.2L290.7,523.0L292.3,522.8L293.5,523.7L294.9,524.2L296.3,524.4L297.6,525.1L298.8,526.0L300.1,526.9L301.7,525.8L303.0,526.1L304.2,527.2L305.7,526.9L306.9,527.6L308.4,527.1L310.0,527.9L311.6,528.1L313.2,528.1L314.4,529.2L315.1,529.2L316.4,531.3L314.8,531.4L313.5,531.9L312.8,533.4L311.5,534.0L310.1,535.1L308.4,535.4L307.1,536.1L305.7,536.3L304.2,536.3L302.7,536.2L301.7,537.6L300.5,538.2L298.4,539.7L297.7,541.4L296.0,541.6L294.8,543.2L293.1,543.8L291.6,544.3L290.2,544.7L287.6,544.6L287.2,542.9L286.4,541.5L285.7,540.1L284.2,539.0L283.6,537.8L283.8,536.2L283.6,534.9L283.0,533.6L281.6,532.6L280.9,531.3L280.4,529.9L281.0,528.1L280.3,526.9L279.6,525.3L279.5,523.6L278.9,522.0L278.0,520.6L277.8,519.1L277.1,517.7L275.9,516.6L276.6,515.0L275.5,513.8L275.8,512.4L275.5,511.1Z" fill="#548ab8"/>
<path d="M276.7,511.1h1.5v1.5h-1.5zM275.3,510.3h1.5v1.5h-1.5zM277.2,512.4h1.5v1.5h-1.5zM276.5,511.4h1.5v1.5h-1.5zM280.0,516.5h1.5v1.5h-1.5zM279.2,515.7h1.5v1.5h-1.5zM283.6,517.7h1.5v1.5h-1.5zM283.5,518.4h1.5v1.5h-1.5zM286.2,519.9h1.5v1.5h-1.5zM285.7,519.5h1.5v1.5h-1.5zM287.2,520.2h1.5v1.5h-1.5zM291.5,521.3h1.5v1.5h-1.5zM291.0,521.4h1.5v1.5h-1.5zM290.0,521.6h1.5v1.5h-1.5zM294.8,523.0h1.5v1.5h-1.5zM294.2,519.3h1.5v1.5h-1.5zM294.9,522.7h1.5v1.5h-1.5zM299.4,524.2h1.5v1.5h-1.5zM297.4,523.9h1.5v1.5h-1.5zM301.6,524.2h1.5v1.5h-1.5zM299.7,524.8h1.5v1.5h-1.5zM307.3,526.1h1.5v1.5h-1.5zM304.1,525.9h1.5v1.5h-1.5zM308.1,526.7h1.5v1.5h-1.5zM312.0,527.1h1.5v1.5h-1.5zM309.3,526.3h1.5v1.5h-1.5zM315.4,524.9h1.5v1.5h-1.5zM312.9,527.0h1.5v1.5h-1.5zM315.4,528.8h1.5v1.5h-1.5zM314.5,532.8h1.5v1.5h-1.5zM312.2,533.7h1.5v1.5h-1.5zM309.9,534.5h1.5v1.5h-1.5zM309.4,534.3h1.5v1.5h-1.5zM306.4,536.3h1.5v1.5h-1.5zM307.3,535.4h1.5v1.5h-1.5zM305.1,536.2h1.5v1.5h-1.5zM301.3,537.4h1.5v1.5h-1.5zM300.7,537.0h1.5v1.5h-1.5zM300.0,538.3h1.5v1.5h-1.5zM298.7,539.0h1.5v1.5h-1.5zM299.2,539.3h1.5v1.5h-1.5zM297.4,541.0h1.5v1.5h-1.5zM298.7,541.0h1.5v1.5h-1.5zM295.4,542.2h1.5v1.5h-1.5zM294.9,542.1h1.5v1.5h-1.5zM295.3,542.6h1.5v1.5h-1.5zM292.4,543.6h1.5v1.5h-1.5zM292.4,544.0h1.5v1.5h-1.5zM287.3,544.7h1.5v1.5h-1.5zM286.1,544.1h1.5v1.5h-1.5zM285.2,542.3h1.5v1.5h-1.5zM284.7,539.9h1.5v1.5h-1.5zM282.9,538.8h1.5v1.5h-1.5zM282.5,536.5h1.5v1.5h-1.5zM282.0,537.2h1.5v1.5h-1.5zM280.8,538.3h1.5v1.5h-1.5zM280.8,531.6h1.5v1.5h-1.5zM281.0,533.0h1.5v1.5h-1.5zM280.5,534.0h1.5v1.5h-1.5zM278.8,529.0h1.5v1.5h-1.5zM277.3,529.1h1.5v1.5h-1.5zM278.1,526.7h1.5v1.5h-1.5zM277.4,522.8h1.5v1.5h-1.5zM278.0,525.7h1.5v1.5h-1.5zM276.7,522.3h1.5v1.5h-1.5zM276.3,519.8h1.5v1.5h-1.5zM275.8,517.7h1.5v1.5h-1.5zM275.1,514.5h1.5v1.5h-1.5zM275.1,514.6h1.5v1.5h-1.5zM275.1,510.2h1.5v1.5h-1.5zM275.1,512.4h1.5v1.5h-1.5zM315.4,528.0h1.5v1.5h-1.5zM304.8,525.5h1.5v1.5h-1.5zM295.5,523.1h1.5v1.5h-1.5zM278.5,532.8h1.5v1.5h-1.5zM283.5,547.0h1.5v1.5h-1.5zM288.1,548.4h1.5v1.5h-1.5zM299.6,540.5h1.5v1.5h-1.5zM298.7,538.5h1.5v1.5h-1.5zM288.2,522.3h1.5v1.5h-1.5z" fill="#548ab8"/>
<path d="M330.1,521.4L331.4,520.7L331.5,518.8L332.4,517.5L333.8,517.5L334.8,516.3L336.2,516.5L337.6,516.1L339.1,515.7L340.4,516.6L342.0,516.4L343.2,517.0L344.2,518.2L345.5,518.6L346.4,519.8L347.8,520.0L349.2,520.3L350.0,521.7L351.5,521.7L352.5,522.7L354.0,522.7L355.1,523.5L356.0,524.9L357.8,524.3L358.7,525.5L360.1,525.8L361.2,526.4L362.1,527.6L363.8,527.0L364.8,528.2L366.4,529.3L368.4,528.7L367.0,528.9L365.6,529.2L364.8,530.5L363.1,530.6L362.0,531.7L360.4,531.9L359.2,532.6L358.4,533.9L357.1,534.4L355.6,534.5L354.8,536.0L353.6,536.5L352.1,536.7L350.8,537.0L349.5,537.5L348.7,538.9L347.3,539.1L346.3,540.1L345.2,540.9L343.6,540.9L342.4,541.5L341.5,542.7L339.6,542.4L338.0,542.9L336.6,543.7L335.4,543.0L333.9,543.4L332.2,543.5L331.7,541.5L330.2,540.4L329.9,539.0L330.3,537.5L329.0,536.4L328.6,535.1L329.5,533.6L328.9,532.4L329.4,530.8L329.1,529.2L329.3,527.6L329.3,525.7L329.0,523.8L329.7,522.5Z" fill="url(#lat)"/>
<path d="M332.7,523.0L334.9,520.4L337.7,519.2L341.2,519.2L345.0,521.1L348.8,523.0L352.5,524.8L356.3,526.7L360.1,528.3L363.0,529.1L360.1,530.5L357.0,532.1L353.2,534.0L349.4,535.9L345.6,537.8L341.8,539.7L338.0,540.9L334.9,540.3L333.0,538.1L332.0,534.9L331.7,531.8L332.0,528.0L332.4,525.2Z" fill="#548ab8" stroke="#548ab8" stroke-width="0.8" stroke-linejoin="round"/>
<path d="M329.6,518.1h1.5v1.5h-1.5zM329.0,520.0h1.5v1.5h-1.5zM330.9,517.9h1.5v1.5h-1.5zM333.1,516.1h1.5v1.5h-1.5zM332.9,515.3h1.5v1.5h-1.5zM337.7,514.3h1.5v1.5h-1.5zM337.6,514.7h1.5v1.5h-1.5zM340.6,515.1h1.5v1.5h-1.5zM344.5,517.5h1.5v1.5h-1.5zM343.7,517.1h1.5v1.5h-1.5zM349.0,519.4h1.5v1.5h-1.5zM346.0,518.2h1.5v1.5h-1.5zM347.9,518.2h1.5v1.5h-1.5zM345.6,518.2h1.5v1.5h-1.5zM351.7,520.5h1.5v1.5h-1.5zM350.6,520.0h1.5v1.5h-1.5zM352.8,521.7h1.5v1.5h-1.5zM357.7,524.2h1.5v1.5h-1.5zM358.3,523.8h1.5v1.5h-1.5zM356.7,522.8h1.5v1.5h-1.5zM362.2,524.1h1.5v1.5h-1.5zM364.2,526.8h1.5v1.5h-1.5zM360.3,525.3h1.5v1.5h-1.5zM366.8,527.9h1.5v1.5h-1.5zM366.5,527.4h1.5v1.5h-1.5zM366.8,527.7h1.5v1.5h-1.5zM366.5,529.1h1.5v1.5h-1.5zM364.5,530.2h1.5v1.5h-1.5zM361.4,532.9h1.5v1.5h-1.5zM360.5,532.0h1.5v1.5h-1.5zM356.7,533.9h1.5v1.5h-1.5zM357.3,533.9h1.5v1.5h-1.5zM359.9,533.4h1.5v1.5h-1.5zM354.3,535.1h1.5v1.5h-1.5zM352.0,536.5h1.5v1.5h-1.5zM352.6,536.1h1.5v1.5h-1.5zM346.2,539.1h1.5v1.5h-1.5zM349.3,537.6h1.5v1.5h-1.5zM348.2,539.3h1.5v1.5h-1.5zM351.1,538.8h1.5v1.5h-1.5zM345.0,541.4h1.5v1.5h-1.5zM345.0,541.6h1.5v1.5h-1.5zM342.4,543.1h1.5v1.5h-1.5zM345.0,540.0h1.5v1.5h-1.5zM338.3,543.2h1.5v1.5h-1.5zM339.7,542.3h1.5v1.5h-1.5zM337.6,542.9h1.5v1.5h-1.5zM337.4,544.6h1.5v1.5h-1.5zM335.2,544.2h1.5v1.5h-1.5zM333.5,543.1h1.5v1.5h-1.5zM334.6,544.2h1.5v1.5h-1.5zM330.8,542.2h1.5v1.5h-1.5zM330.1,541.1h1.5v1.5h-1.5zM328.7,538.1h1.5v1.5h-1.5zM328.0,537.7h1.5v1.5h-1.5zM327.1,537.7h1.5v1.5h-1.5zM327.1,532.0h1.5v1.5h-1.5zM327.2,532.4h1.5v1.5h-1.5zM327.1,527.6h1.5v1.5h-1.5zM327.1,528.9h1.5v1.5h-1.5zM327.9,529.8h1.5v1.5h-1.5zM328.2,525.9h1.5v1.5h-1.5zM328.2,524.1h1.5v1.5h-1.5zM327.6,521.5h1.5v1.5h-1.5zM327.1,522.1h1.5v1.5h-1.5zM327.3,512.2h1.5v1.5h-1.5zM328.9,511.0h1.5v1.5h-1.5zM330.6,509.8h1.5v1.5h-1.5zM331.8,509.1h1.5v1.5h-1.5zM336.2,511.4h1.5v1.5h-1.5zM332.2,513.4h1.5v1.5h-1.5zM334.6,513.8h1.5v1.5h-1.5zM337.0,513.4h1.5v1.5h-1.5zM340.7,513.4h1.5v1.5h-1.5zM345.1,515.8h1.5v1.5h-1.5zM349.6,518.3h1.5v1.5h-1.5zM327.1,517.9h1.5v1.5h-1.5zM327.3,524.3h1.5v1.5h-1.5zM327.1,532.8h1.5v1.5h-1.5zM328.9,547.0h1.5v1.5h-1.5zM333.4,548.4h1.5v1.5h-1.5zM329.3,516.2h1.5v1.5h-1.5zM331.0,515.0h1.5v1.5h-1.5zM333.4,514.6h1.5v1.5h-1.5z" fill="#548ab8"/>
<path d="M17.5,561.5L18.9,561.1L20.0,562.4L21.4,563.3L23.1,564.1L23.9,565.9L25.7,566.3L27.0,567.5L28.3,568.2L29.0,569.4L30.5,570.6L31.7,572.7L34.2,572.3L36.5,570.6L38.0,571.9L39.5,571.7L40.5,572.7L41.9,572.6L42.9,575.2L41.1,576.1L40.9,577.8L38.8,579.3L37.3,579.3L36.0,580.1L34.3,579.7L32.9,580.4L31.9,581.9L30.7,582.6L27.6,583.8L27.5,586.1L27.4,587.9L26.2,589.1L26.1,590.8L25.1,592.0L24.4,593.5L23.1,594.2L21.8,594.9L20.9,596.1L20.1,597.5L18.6,597.4L18.3,598.1L18.5,596.7L18.1,595.4L18.5,594.0L17.9,592.7L17.7,591.4L18.4,590.0L17.5,588.7L17.9,587.3L17.6,586.0L17.9,584.7L17.5,583.3L17.5,582.0L18.4,580.6L17.7,579.3L18.2,577.9L17.5,576.6L18.0,575.3L18.2,573.9L18.5,572.6L17.5,571.2L18.4,569.9L18.2,568.6L17.5,567.2L18.5,565.9L17.9,564.5L17.9,563.2L17.5,561.8Z" fill="#548ab8"/>
<path d="M17.9,560.1h1.5v1.5h-1.5zM17.9,560.1h1.5v1.5h-1.5zM19.9,560.3h1.5v1.5h-1.5zM20.9,560.1h1.5v1.5h-1.5zM23.2,561.4h1.5v1.5h-1.5zM22.0,562.5h1.5v1.5h-1.5zM24.7,565.2h1.5v1.5h-1.5zM25.4,565.5h1.5v1.5h-1.5zM27.3,565.5h1.5v1.5h-1.5zM28.5,567.9h1.5v1.5h-1.5zM31.5,567.4h1.5v1.5h-1.5zM30.5,567.2h1.5v1.5h-1.5zM33.9,570.8h1.5v1.5h-1.5zM34.4,568.8h1.5v1.5h-1.5zM33.5,570.5h1.5v1.5h-1.5zM38.3,569.9h1.5v1.5h-1.5zM38.7,570.1h1.5v1.5h-1.5zM41.2,571.5h1.5v1.5h-1.5zM41.7,570.5h1.5v1.5h-1.5zM41.5,571.8h1.5v1.5h-1.5zM44.2,573.4h1.5v1.5h-1.5zM41.4,575.7h1.5v1.5h-1.5zM41.5,577.5h1.5v1.5h-1.5zM40.0,577.4h1.5v1.5h-1.5zM39.7,577.7h1.5v1.5h-1.5zM35.7,579.8h1.5v1.5h-1.5zM38.1,578.7h1.5v1.5h-1.5zM35.4,580.0h1.5v1.5h-1.5zM33.7,580.6h1.5v1.5h-1.5zM31.0,583.3h1.5v1.5h-1.5zM28.8,582.8h1.5v1.5h-1.5zM28.1,582.9h1.5v1.5h-1.5zM31.1,585.1h1.5v1.5h-1.5zM27.5,584.0h1.5v1.5h-1.5zM27.0,587.4h1.5v1.5h-1.5zM26.1,588.1h1.5v1.5h-1.5zM25.2,590.2h1.5v1.5h-1.5zM23.6,593.4h1.5v1.5h-1.5zM23.5,593.5h1.5v1.5h-1.5zM22.5,594.6h1.5v1.5h-1.5zM22.2,594.9h1.5v1.5h-1.5zM19.2,596.7h1.5v1.5h-1.5zM19.6,597.6h1.5v1.5h-1.5zM17.6,597.2h1.5v1.5h-1.5zM17.1,560.7h1.5v1.5h-1.5zM17.1,594.1h1.5v1.5h-1.5zM17.1,597.1h1.5v1.5h-1.5zM17.1,574.0h1.5v1.5h-1.5zM17.1,593.6h1.5v1.5h-1.5zM17.1,563.9h1.5v1.5h-1.5zM17.1,582.3h1.5v1.5h-1.5zM17.1,595.2h1.5v1.5h-1.5zM17.1,574.2h1.5v1.5h-1.5zM17.1,578.4h1.5v1.5h-1.5zM17.1,597.2h1.5v1.5h-1.5zM17.1,581.8h1.5v1.5h-1.5zM17.1,569.7h1.5v1.5h-1.5zM17.1,581.0h1.5v1.5h-1.5zM17.1,573.8h1.5v1.5h-1.5zM17.1,562.4h1.5v1.5h-1.5zM17.1,575.3h1.5v1.5h-1.5zM17.1,579.2h1.5v1.5h-1.5zM17.1,572.4h1.5v1.5h-1.5zM17.1,560.1h1.5v1.5h-1.5zM17.1,578.7h1.5v1.5h-1.5zM17.1,566.7h1.5v1.5h-1.5zM30.0,567.0h1.5v1.5h-1.5zM36.9,567.4h1.5v1.5h-1.5zM38.5,568.0h1.5v1.5h-1.5zM42.8,567.5h1.5v1.5h-1.5zM51.7,568.2h1.5v1.5h-1.5zM57.4,569.0h1.5v1.5h-1.5zM47.8,570.2h1.5v1.5h-1.5zM44.6,571.8h1.5v1.5h-1.5zM48.6,573.5h1.5v1.5h-1.5zM45.4,575.1h1.5v1.5h-1.5zM42.6,573.9h1.5v1.5h-1.5zM37.7,582.8h1.5v1.5h-1.5zM28.4,585.6h1.5v1.5h-1.5zM24.5,593.4h1.5v1.5h-1.5zM17.1,599.4h1.5v1.5h-1.5zM19.9,599.4h1.5v1.5h-1.5zM21.1,599.4h1.5v1.5h-1.5zM17.1,598.1h1.5v1.5h-1.5z" fill="#548ab8"/>
<path d="M70.0,600.5L71.4,598.6L72.3,597.3L72.3,595.7L72.5,594.3L73.6,593.1L73.1,591.6L73.9,590.4L74.0,588.9L74.6,587.6L74.5,585.8L75.4,584.3L76.0,582.7L76.3,581.0L77.4,579.6L77.4,577.8L78.5,576.4L78.3,574.5L78.9,572.9L79.6,571.8L81.1,570.9L81.3,569.6L80.9,567.9L82.3,566.9L83.6,565.8L84.0,564.1L84.8,563.0L85.7,562.0L86.9,561.4L89.5,560.5L89.5,562.2L89.9,563.5L89.6,565.2L90.6,567.7L92.4,568.8L93.3,570.4L93.1,572.0L93.6,572.8L93.7,575.7L91.4,577.2L90.4,578.8L88.9,580.0L88.3,581.9L86.3,582.7L85.6,583.9L85.2,585.3L83.7,585.8L83.9,587.6L83.2,588.8L81.7,589.4L81.2,590.7L80.4,591.7L79.0,592.3L77.9,593.9L76.6,595.1L76.1,597.1L75.0,598.4L73.6,599.2L72.3,600.3L70.5,599.4Z" fill="#548ab8"/>
<path d="M69.1,598.5h1.5v1.5h-1.5zM70.9,596.1h1.5v1.5h-1.5zM71.1,594.6h1.5v1.5h-1.5zM72.3,590.7h1.5v1.5h-1.5zM73.9,585.5h1.5v1.5h-1.5zM74.7,580.3h1.5v1.5h-1.5zM76.6,576.9h1.5v1.5h-1.5zM79.4,569.9h1.5v1.5h-1.5zM80.3,563.8h1.5v1.5h-1.5zM83.2,563.0h1.5v1.5h-1.5zM86.6,560.3h1.5v1.5h-1.5zM95.2,575.4h1.5v1.5h-1.5zM85.6,583.3h1.5v1.5h-1.5zM80.1,590.6h1.5v1.5h-1.5zM77.4,594.1h1.5v1.5h-1.5zM73.7,599.4h1.5v1.5h-1.5zM70.7,599.4h1.5v1.5h-1.5zM109.4,569.0h1.5v1.5h-1.5zM95.4,570.2h1.5v1.5h-1.5zM93.4,570.6h1.5v1.5h-1.5zM98.2,573.0h1.5v1.5h-1.5zM95.4,576.4h1.5v1.5h-1.5zM92.6,578.7h1.5v1.5h-1.5zM90.1,580.7h1.5v1.5h-1.5zM87.7,582.9h1.5v1.5h-1.5zM73.1,583.2h1.5v1.5h-1.5zM70.7,593.1h1.5v1.5h-1.5zM81.1,565.8h1.5v1.5h-1.5zM69.1,599.4h1.5v1.5h-1.5zM70.3,599.4h1.5v1.5h-1.5z" fill="#548ab8"/>
<path d="M137.4,562.0L138.7,561.3L139.8,560.5L141.7,560.5L143.8,560.5L144.5,562.7L146.5,562.9L147.0,564.9L148.8,565.9L149.9,567.1L151.5,567.1L152.6,568.2L154.0,568.4L155.4,568.8L156.4,569.2L157.8,570.0L157.7,571.3L159.1,573.1L158.7,574.6L158.5,576.3L157.7,577.6L156.3,578.5L156.2,580.3L155.0,581.3L153.5,582.2L153.3,583.6L152.3,584.5L152.4,586.1L150.9,586.6L150.4,588.0L149.6,589.2L149.4,590.9L148.1,591.7L146.5,591.9L145.9,593.2L144.5,593.7L143.9,594.5L142.3,595.4L140.7,595.6L139.3,594.7L138.4,593.2L137.2,592.1L136.4,590.7L134.9,589.8L134.7,588.2L133.1,587.1L132.2,585.6L131.6,584.1L131.6,582.6L132.0,581.0L130.8,579.5L132.3,578.3L131.8,576.5L131.8,574.8L132.6,573.4L134.1,572.2L134.8,570.7L134.2,568.8L135.5,567.6L136.0,566.1L136.0,564.5L136.9,563.4Z" fill="#548ab8"/>
<path d="M137.7,560.1h1.5v1.5h-1.5zM137.5,560.7h1.5v1.5h-1.5zM142.1,560.1h1.5v1.5h-1.5zM141.8,560.1h1.5v1.5h-1.5zM144.8,560.1h1.5v1.5h-1.5zM145.1,561.5h1.5v1.5h-1.5zM146.9,562.9h1.5v1.5h-1.5zM147.5,562.1h1.5v1.5h-1.5zM151.5,566.1h1.5v1.5h-1.5zM151.4,566.0h1.5v1.5h-1.5zM152.3,566.2h1.5v1.5h-1.5zM153.5,566.2h1.5v1.5h-1.5zM156.0,565.4h1.5v1.5h-1.5zM154.9,567.3h1.5v1.5h-1.5zM158.7,569.6h1.5v1.5h-1.5zM157.0,568.9h1.5v1.5h-1.5zM158.2,571.9h1.5v1.5h-1.5zM160.0,572.1h1.5v1.5h-1.5zM157.2,576.6h1.5v1.5h-1.5zM157.4,577.2h1.5v1.5h-1.5zM156.6,578.2h1.5v1.5h-1.5zM154.5,580.6h1.5v1.5h-1.5zM157.0,579.7h1.5v1.5h-1.5zM155.9,580.5h1.5v1.5h-1.5zM152.8,583.8h1.5v1.5h-1.5zM153.1,582.9h1.5v1.5h-1.5zM151.9,585.1h1.5v1.5h-1.5zM151.7,590.0h1.5v1.5h-1.5zM148.7,590.0h1.5v1.5h-1.5zM149.6,588.3h1.5v1.5h-1.5zM150.7,587.4h1.5v1.5h-1.5zM146.5,592.8h1.5v1.5h-1.5zM144.4,594.0h1.5v1.5h-1.5zM145.8,592.4h1.5v1.5h-1.5zM143.3,597.5h1.5v1.5h-1.5zM140.1,595.4h1.5v1.5h-1.5zM136.7,593.1h1.5v1.5h-1.5zM137.7,594.1h1.5v1.5h-1.5zM139.0,595.1h1.5v1.5h-1.5zM134.0,590.1h1.5v1.5h-1.5zM133.6,589.5h1.5v1.5h-1.5zM132.9,588.1h1.5v1.5h-1.5zM131.7,586.3h1.5v1.5h-1.5zM131.3,587.4h1.5v1.5h-1.5zM130.8,584.1h1.5v1.5h-1.5zM126.7,581.3h1.5v1.5h-1.5zM128.4,579.4h1.5v1.5h-1.5zM130.5,582.2h1.5v1.5h-1.5zM131.0,575.6h1.5v1.5h-1.5zM128.8,578.0h1.5v1.5h-1.5zM130.4,576.3h1.5v1.5h-1.5zM131.7,572.3h1.5v1.5h-1.5zM131.8,572.7h1.5v1.5h-1.5zM131.7,572.8h1.5v1.5h-1.5zM133.6,565.7h1.5v1.5h-1.5zM131.2,568.2h1.5v1.5h-1.5zM133.3,565.0h1.5v1.5h-1.5zM134.7,563.3h1.5v1.5h-1.5zM133.8,562.0h1.5v1.5h-1.5zM135.0,561.5h1.5v1.5h-1.5zM120.1,593.2h1.5v1.5h-1.5zM124.1,578.4h1.5v1.5h-1.5zM127.2,578.8h1.5v1.5h-1.5zM125.7,582.9h1.5v1.5h-1.5zM126.1,589.4h1.5v1.5h-1.5zM128.1,595.5h1.5v1.5h-1.5zM125.4,599.3h1.5v1.5h-1.5zM128.7,599.3h1.5v1.5h-1.5zM131.7,595.5h1.5v1.5h-1.5zM137.2,599.3h1.5v1.5h-1.5zM140.8,599.3h1.5v1.5h-1.5zM160.4,568.9h1.5v1.5h-1.5zM160.4,576.5h1.5v1.5h-1.5zM159.5,578.0h1.5v1.5h-1.5zM160.3,572.3h1.5v1.5h-1.5zM131.4,590.2h1.5v1.5h-1.5zM134.5,593.2h1.5v1.5h-1.5zM137.5,596.0h1.5v1.5h-1.5zM129.2,573.5h1.5v1.5h-1.5z" fill="#548ab8"/>
<path d="M199.7,560.5L200.7,561.7L202.1,562.1L201.8,563.7L202.9,565.0L203.4,566.5L203.1,568.0L203.9,569.5L203.9,571.0L203.3,572.5L203.8,574.0L203.3,575.5L203.8,577.0L203.9,578.5L203.3,580.0L203.7,581.5L203.9,583.0L204.0,584.5L204.1,586.0L204.2,587.6L203.5,589.0L202.1,590.2L201.6,591.1L200.3,592.6L198.5,591.6L197.2,592.6L195.7,592.7L194.2,591.8L192.7,592.5L191.3,591.8L189.7,592.8L188.2,591.6L186.7,592.3L185.3,591.9L184.0,591.3L182.6,591.7L181.3,591.1L179.9,591.3L179.2,589.6L177.4,589.3L175.8,588.5L175.2,587.1L175.2,585.5L174.6,584.0L173.2,583.3L173.7,582.0L174.9,581.4L174.9,580.0L176.7,578.9L175.8,577.4L176.8,576.2L176.1,574.8L177.6,573.6L176.8,571.7L177.9,570.5L178.6,569.0L179.8,568.1L180.7,566.9L181.9,566.0L183.5,566.3L184.7,565.6L185.9,564.6L187.3,564.8L188.7,564.8L190.0,564.3L191.3,564.0L192.9,563.9L194.4,563.5L195.8,562.5L197.2,562.2L198.3,561.4Z" fill="#548ab8"/>
<path d="M199.3,560.1h1.5v1.5h-1.5zM199.2,560.1h1.5v1.5h-1.5zM203.1,562.5h1.5v1.5h-1.5zM202.3,564.4h1.5v1.5h-1.5zM204.3,562.7h1.5v1.5h-1.5zM202.3,562.9h1.5v1.5h-1.5zM203.2,567.7h1.5v1.5h-1.5zM203.2,572.0h1.5v1.5h-1.5zM204.3,567.5h1.5v1.5h-1.5zM202.9,568.7h1.5v1.5h-1.5zM202.9,567.9h1.5v1.5h-1.5zM203.3,579.1h1.5v1.5h-1.5zM203.2,579.5h1.5v1.5h-1.5zM203.4,581.7h1.5v1.5h-1.5zM203.4,578.9h1.5v1.5h-1.5zM203.5,578.1h1.5v1.5h-1.5zM203.4,585.6h1.5v1.5h-1.5zM203.7,584.0h1.5v1.5h-1.5zM203.0,588.1h1.5v1.5h-1.5zM203.3,586.8h1.5v1.5h-1.5zM202.2,589.9h1.5v1.5h-1.5zM202.0,589.6h1.5v1.5h-1.5zM197.9,591.8h1.5v1.5h-1.5zM196.8,592.2h1.5v1.5h-1.5zM196.7,592.5h1.5v1.5h-1.5zM191.7,593.1h1.5v1.5h-1.5zM192.4,592.1h1.5v1.5h-1.5zM194.0,592.6h1.5v1.5h-1.5zM189.3,594.4h1.5v1.5h-1.5zM186.6,592.8h1.5v1.5h-1.5zM186.7,592.4h1.5v1.5h-1.5zM185.2,591.7h1.5v1.5h-1.5zM183.1,591.6h1.5v1.5h-1.5zM179.4,591.6h1.5v1.5h-1.5zM182.1,591.5h1.5v1.5h-1.5zM176.1,588.2h1.5v1.5h-1.5zM174.7,589.0h1.5v1.5h-1.5zM179.0,590.6h1.5v1.5h-1.5zM173.9,585.5h1.5v1.5h-1.5zM173.5,585.2h1.5v1.5h-1.5zM172.2,582.8h1.5v1.5h-1.5zM172.1,579.1h1.5v1.5h-1.5zM172.2,581.8h1.5v1.5h-1.5zM172.1,578.7h1.5v1.5h-1.5zM174.2,578.5h1.5v1.5h-1.5zM172.7,573.7h1.5v1.5h-1.5zM173.1,577.1h1.5v1.5h-1.5zM176.8,569.6h1.5v1.5h-1.5zM176.2,569.8h1.5v1.5h-1.5zM176.0,571.6h1.5v1.5h-1.5zM177.1,566.4h1.5v1.5h-1.5zM176.5,568.4h1.5v1.5h-1.5zM181.1,565.2h1.5v1.5h-1.5zM184.1,563.5h1.5v1.5h-1.5zM182.5,565.0h1.5v1.5h-1.5zM189.3,561.7h1.5v1.5h-1.5zM190.1,561.9h1.5v1.5h-1.5zM185.9,563.3h1.5v1.5h-1.5zM190.4,562.8h1.5v1.5h-1.5zM193.2,562.0h1.5v1.5h-1.5zM194.2,561.3h1.5v1.5h-1.5zM191.2,562.5h1.5v1.5h-1.5zM196.0,560.4h1.5v1.5h-1.5zM195.0,560.9h1.5v1.5h-1.5zM197.8,560.1h1.5v1.5h-1.5zM212.4,593.5h1.5v1.5h-1.5zM172.1,582.6h1.5v1.5h-1.5zM174.6,589.0h1.5v1.5h-1.5zM179.2,594.6h1.5v1.5h-1.5zM183.7,594.6h1.5v1.5h-1.5zM187.4,593.5h1.5v1.5h-1.5zM193.4,594.0h1.5v1.5h-1.5zM198.7,595.0h1.5v1.5h-1.5zM202.5,595.8h1.5v1.5h-1.5zM186.7,599.4h1.5v1.5h-1.5zM193.4,599.4h1.5v1.5h-1.5zM199.5,599.4h1.5v1.5h-1.5zM204.0,599.4h1.5v1.5h-1.5zM181.4,593.5h1.5v1.5h-1.5z" fill="#548ab8"/>
<path d="M245.0,561.6L246.8,561.5L247.7,562.2L247.8,563.6L249.4,564.5L248.6,566.2L248.9,567.4L250.0,568.6L249.3,570.0L250.1,571.2L250.5,572.5L250.9,574.0L250.9,575.5L251.6,577.0L251.6,578.5L251.4,580.0L250.5,581.5L250.2,583.0L250.8,584.5L249.6,585.6L250.7,587.2L250.1,588.5L249.0,589.1L248.9,591.1L248.0,592.4L246.5,592.9L245.5,594.3L243.9,594.3L243.0,595.9L241.9,595.6L239.9,596.0L238.4,595.2L237.0,594.3L236.2,593.3L234.8,592.7L234.8,590.9L232.9,590.8L233.1,589.0L231.6,588.4L231.1,587.1L230.4,586.0L229.7,584.4L229.5,582.7L228.8,581.3L227.5,580.2L228.0,578.7L227.4,577.4L227.2,576.4L226.3,574.7L227.6,573.4L227.2,571.7L228.7,570.8L229.9,569.8L230.8,568.9L231.8,568.0L233.1,567.5L234.1,566.7L234.8,565.4L236.6,565.5L237.7,563.9L239.1,563.1L240.8,563.4L242.1,562.9L243.4,562.7Z" fill="#548ab8"/>
<path d="M245.0,560.2h1.5v1.5h-1.5zM246.2,560.5h1.5v1.5h-1.5zM249.2,565.4h1.5v1.5h-1.5zM248.8,564.2h1.5v1.5h-1.5zM249.7,565.3h1.5v1.5h-1.5zM250.3,568.9h1.5v1.5h-1.5zM249.9,570.3h1.5v1.5h-1.5zM249.6,566.7h1.5v1.5h-1.5zM250.4,571.2h1.5v1.5h-1.5zM251.7,576.0h1.5v1.5h-1.5zM250.2,572.6h1.5v1.5h-1.5zM251.1,576.0h1.5v1.5h-1.5zM251.1,578.5h1.5v1.5h-1.5zM250.9,579.5h1.5v1.5h-1.5zM251.1,581.8h1.5v1.5h-1.5zM250.3,587.2h1.5v1.5h-1.5zM250.3,588.7h1.5v1.5h-1.5zM249.5,587.1h1.5v1.5h-1.5zM248.8,590.1h1.5v1.5h-1.5zM247.4,592.9h1.5v1.5h-1.5zM248.8,589.6h1.5v1.5h-1.5zM245.2,593.7h1.5v1.5h-1.5zM246.1,594.7h1.5v1.5h-1.5zM246.1,593.2h1.5v1.5h-1.5zM244.1,593.8h1.5v1.5h-1.5zM236.1,595.5h1.5v1.5h-1.5zM236.5,594.8h1.5v1.5h-1.5zM238.0,594.9h1.5v1.5h-1.5zM233.1,591.0h1.5v1.5h-1.5zM232.9,590.5h1.5v1.5h-1.5zM234.3,592.6h1.5v1.5h-1.5zM230.9,588.9h1.5v1.5h-1.5zM228.4,586.7h1.5v1.5h-1.5zM229.2,587.5h1.5v1.5h-1.5zM225.2,581.9h1.5v1.5h-1.5zM229.2,585.2h1.5v1.5h-1.5zM227.7,584.9h1.5v1.5h-1.5zM226.4,580.3h1.5v1.5h-1.5zM225.8,579.6h1.5v1.5h-1.5zM226.3,580.7h1.5v1.5h-1.5zM224.1,575.0h1.5v1.5h-1.5zM224.3,572.3h1.5v1.5h-1.5zM226.3,572.2h1.5v1.5h-1.5zM228.2,568.3h1.5v1.5h-1.5zM226.1,570.2h1.5v1.5h-1.5zM229.0,563.6h1.5v1.5h-1.5zM230.1,565.4h1.5v1.5h-1.5zM232.4,564.6h1.5v1.5h-1.5zM236.4,563.4h1.5v1.5h-1.5zM234.3,564.2h1.5v1.5h-1.5zM238.1,561.6h1.5v1.5h-1.5zM241.4,561.1h1.5v1.5h-1.5zM243.7,560.1h1.5v1.5h-1.5zM224.1,569.1h1.5v1.5h-1.5zM225.0,577.8h1.5v1.5h-1.5zM228.8,565.8h1.5v1.5h-1.5zM253.6,578.5h1.5v1.5h-1.5zM254.3,583.0h1.5v1.5h-1.5zM252.5,585.3h1.5v1.5h-1.5zM251.3,595.5h1.5v1.5h-1.5zM245.3,597.3h1.5v1.5h-1.5zM247.6,599.4h1.5v1.5h-1.5zM237.0,599.4h1.5v1.5h-1.5zM256.6,599.4h1.5v1.5h-1.5zM264.4,593.5h1.5v1.5h-1.5zM231.8,592.8h1.5v1.5h-1.5zM233.3,594.6h1.5v1.5h-1.5z" fill="#548ab8"/>
<path d="M276.4,600.3L275.6,598.5L276.5,597.1L277.6,595.9L277.1,593.9L278.1,592.5L278.3,590.7L280.0,589.5L280.3,587.8L279.9,585.9L280.9,584.4L280.7,582.7L281.8,581.3L281.6,579.8L282.8,578.9L282.4,577.3L283.3,576.2L284.4,575.3L284.7,574.0L284.8,572.6L286.0,571.7L285.7,570.1L286.4,569.0L286.8,567.7L288.3,567.1L288.6,565.4L289.1,563.9L290.0,562.8L291.0,561.5L292.2,561.5L293.6,561.4L294.9,560.6L296.3,560.5L297.7,560.5L299.0,561.0L300.3,561.5L301.6,562.2L302.9,562.2L304.2,562.3L305.7,562.1L307.1,562.0L308.2,563.2L309.8,563.0L310.5,563.6L311.9,565.0L313.3,564.4L315.1,564.5L315.9,563.2L316.3,565.9L314.3,566.3L313.8,568.0L312.2,570.0L311.6,571.6L311.9,573.2L309.9,574.9L308.3,577.5L306.1,576.8L304.7,577.6L303.4,578.1L301.7,578.2L300.6,579.8L298.9,580.5L297.6,581.7L296.6,583.3L294.9,583.6L294.0,582.9L292.9,583.9L291.2,584.0L289.4,584.7L288.3,586.4L286.6,587.2L285.8,588.9L284.6,589.7L283.2,590.3L281.5,591.0L280.8,592.7L279.8,594.2L277.9,595.2L277.4,597.0L277.4,599.1Z" fill="#548ab8"/>
<path d="M275.2,594.7h1.5v1.5h-1.5zM276.0,594.7h1.5v1.5h-1.5zM278.5,587.2h1.5v1.5h-1.5zM280.4,580.4h1.5v1.5h-1.5zM281.6,577.2h1.5v1.5h-1.5zM282.7,574.7h1.5v1.5h-1.5zM284.6,569.3h1.5v1.5h-1.5zM288.4,562.5h1.5v1.5h-1.5zM290.4,560.1h1.5v1.5h-1.5zM299.0,560.1h1.5v1.5h-1.5zM300.0,560.2h1.5v1.5h-1.5zM307.5,560.2h1.5v1.5h-1.5zM307.9,561.6h1.5v1.5h-1.5zM311.7,562.1h1.5v1.5h-1.5zM310.7,563.1h1.5v1.5h-1.5zM315.0,562.2h1.5v1.5h-1.5zM315.4,563.0h1.5v1.5h-1.5zM314.5,566.4h1.5v1.5h-1.5zM311.5,572.1h1.5v1.5h-1.5zM308.7,576.9h1.5v1.5h-1.5zM306.4,576.6h1.5v1.5h-1.5zM305.1,578.3h1.5v1.5h-1.5zM302.0,578.2h1.5v1.5h-1.5zM294.0,583.6h1.5v1.5h-1.5zM292.8,583.8h1.5v1.5h-1.5zM289.8,584.4h1.5v1.5h-1.5zM286.8,586.4h1.5v1.5h-1.5zM281.4,592.5h1.5v1.5h-1.5zM281.3,593.1h1.5v1.5h-1.5zM277.8,597.6h1.5v1.5h-1.5zM275.1,599.4h1.5v1.5h-1.5zM275.7,599.3h1.5v1.5h-1.5zM315.4,562.9h1.5v1.5h-1.5z" fill="#548ab8"/>
<path d="M328.9,590.2L329.3,588.8L329.9,587.5L330.2,586.0L329.4,584.5L330.4,583.2L330.4,581.7L330.3,580.3L330.5,578.9L330.9,577.5L331.1,576.1L330.4,574.8L331.7,574.3L333.1,574.2L334.1,572.8L335.7,572.6L336.6,571.2L338.3,570.8L339.3,569.3L340.5,568.2L342.1,567.5L343.2,566.3L344.7,565.3L346.4,566.0L347.8,565.7L348.9,564.8L350.3,565.4L351.6,564.6L353.0,565.2L354.4,565.0L355.6,564.0L357.1,564.0L358.6,564.1L359.7,563.1L361.2,563.0L362.7,562.5L363.4,562.0L363.8,563.7L365.9,564.8L365.5,566.6L366.4,568.1L366.8,569.1L364.7,568.3L363.6,569.4L362.7,570.6L362.3,572.1L362.4,573.5L363.1,574.4L360.3,573.3L360.3,575.3L358.7,576.3L357.6,577.6L356.3,579.0L355.9,580.5L354.9,581.3L353.5,582.1L353.1,584.2L351.1,584.6L349.2,585.4L348.4,587.0L347.4,588.7L345.7,589.2L344.2,590.2L343.1,591.3L341.8,592.4L340.2,593.2L338.2,593.1L336.6,593.3L335.2,594.1L333.5,594.6L331.9,594.0L330.9,593.1L329.5,592.8L329.1,591.3Z" fill="#548ab8"/>
<path d="M327.1,588.1h1.5v1.5h-1.5zM327.7,586.7h1.5v1.5h-1.5zM327.1,588.4h1.5v1.5h-1.5zM328.7,582.1h1.5v1.5h-1.5zM327.9,581.9h1.5v1.5h-1.5zM328.7,583.9h1.5v1.5h-1.5zM328.5,582.2h1.5v1.5h-1.5zM328.5,575.9h1.5v1.5h-1.5zM328.8,575.9h1.5v1.5h-1.5zM327.2,578.3h1.5v1.5h-1.5zM329.0,570.6h1.5v1.5h-1.5zM329.9,572.2h1.5v1.5h-1.5zM333.0,571.7h1.5v1.5h-1.5zM334.4,571.0h1.5v1.5h-1.5zM335.4,570.8h1.5v1.5h-1.5zM336.0,568.4h1.5v1.5h-1.5zM338.0,568.0h1.5v1.5h-1.5zM337.5,568.3h1.5v1.5h-1.5zM340.3,565.5h1.5v1.5h-1.5zM342.4,564.0h1.5v1.5h-1.5zM341.6,566.2h1.5v1.5h-1.5zM345.2,564.2h1.5v1.5h-1.5zM345.5,564.0h1.5v1.5h-1.5zM344.1,564.6h1.5v1.5h-1.5zM350.5,561.2h1.5v1.5h-1.5zM351.6,562.9h1.5v1.5h-1.5zM353.5,563.1h1.5v1.5h-1.5zM355.2,562.4h1.5v1.5h-1.5zM358.6,560.3h1.5v1.5h-1.5zM356.1,561.5h1.5v1.5h-1.5zM362.8,560.6h1.5v1.5h-1.5zM360.4,561.2h1.5v1.5h-1.5zM364.4,562.0h1.5v1.5h-1.5zM363.6,560.9h1.5v1.5h-1.5zM365.2,563.6h1.5v1.5h-1.5zM365.1,566.0h1.5v1.5h-1.5zM366.1,564.7h1.5v1.5h-1.5zM365.5,567.3h1.5v1.5h-1.5zM363.5,567.7h1.5v1.5h-1.5zM364.6,570.9h1.5v1.5h-1.5zM363.5,568.3h1.5v1.5h-1.5zM363.5,568.0h1.5v1.5h-1.5zM362.2,573.3h1.5v1.5h-1.5zM362.6,572.2h1.5v1.5h-1.5zM361.7,574.1h1.5v1.5h-1.5zM360.5,573.2h1.5v1.5h-1.5zM359.9,573.9h1.5v1.5h-1.5zM359.6,574.3h1.5v1.5h-1.5zM358.4,577.0h1.5v1.5h-1.5zM358.9,577.1h1.5v1.5h-1.5zM356.3,580.5h1.5v1.5h-1.5zM355.3,580.9h1.5v1.5h-1.5zM353.9,582.1h1.5v1.5h-1.5zM354.5,581.4h1.5v1.5h-1.5zM349.6,585.1h1.5v1.5h-1.5zM352.4,585.1h1.5v1.5h-1.5zM348.1,586.6h1.5v1.5h-1.5zM347.7,588.6h1.5v1.5h-1.5zM346.4,587.7h1.5v1.5h-1.5zM343.8,589.7h1.5v1.5h-1.5zM341.1,591.4h1.5v1.5h-1.5zM343.0,589.8h1.5v1.5h-1.5zM339.9,593.3h1.5v1.5h-1.5zM339.1,594.2h1.5v1.5h-1.5zM334.8,594.4h1.5v1.5h-1.5zM334.8,593.7h1.5v1.5h-1.5zM331.6,594.7h1.5v1.5h-1.5zM332.8,594.4h1.5v1.5h-1.5zM328.4,593.8h1.5v1.5h-1.5zM328.6,592.4h1.5v1.5h-1.5zM328.0,591.6h1.5v1.5h-1.5zM367.4,560.1h1.5v1.5h-1.5zM367.4,561.7h1.5v1.5h-1.5zM367.4,562.9h1.5v1.5h-1.5zM327.1,594.1h1.5v1.5h-1.5zM328.3,595.7h1.5v1.5h-1.5zM330.3,595.3h1.5v1.5h-1.5zM332.8,596.5h1.5v1.5h-1.5zM328.7,597.7h1.5v1.5h-1.5zM327.1,599.4h1.5v1.5h-1.5zM329.5,599.4h1.5v1.5h-1.5zM331.1,599.4h1.5v1.5h-1.5zM336.8,594.9h1.5v1.5h-1.5zM327.1,592.9h1.5v1.5h-1.5zM332.0,594.1h1.5v1.5h-1.5z" fill="#548ab8"/>
<path d="M385.5,572.0L386.4,570.4L387.9,569.6L389.8,570.1L391.4,569.3L392.3,567.8L391.8,565.9L393.0,564.8L394.4,564.1L395.2,562.8L396.5,562.2L398.0,561.5L399.3,561.1L401.6,560.5L400.9,562.4L402.1,564.1L403.7,565.3L404.1,566.8L404.0,568.3L403.7,570.4L406.5,570.9L406.7,572.4L406.5,573.9L406.6,575.2L408.1,576.3L408.1,577.9L407.8,579.5L408.4,581.7L411.1,582.7L409.7,584.4L410.9,585.9L410.9,587.5L410.0,589.1L410.8,590.9L408.9,591.4L409.2,593.6L407.5,594.2L405.6,594.5L404.6,596.4L403.7,595.3L404.2,593.7L402.8,592.0L401.4,592.2L399.8,593.4L398.9,592.3L398.7,590.0L396.7,589.3L395.4,588.6L394.3,587.6L393.3,586.6L392.0,585.9L391.0,584.6L389.7,583.5L387.5,582.8L386.2,580.9L384.7,579.6L385.8,577.8L385.6,576.2L385.2,574.7L385.8,573.1Z" fill="#548ab8"/>
<path d="M384.3,570.5h1.5v1.5h-1.5zM384.4,569.8h1.5v1.5h-1.5zM389.2,568.0h1.5v1.5h-1.5zM388.7,568.6h1.5v1.5h-1.5zM388.4,568.7h1.5v1.5h-1.5zM390.8,566.8h1.5v1.5h-1.5zM390.1,567.6h1.5v1.5h-1.5zM391.8,564.8h1.5v1.5h-1.5zM391.4,564.7h1.5v1.5h-1.5zM393.7,562.8h1.5v1.5h-1.5zM393.8,562.9h1.5v1.5h-1.5zM395.6,560.1h1.5v1.5h-1.5zM397.1,560.1h1.5v1.5h-1.5zM400.4,560.1h1.5v1.5h-1.5zM400.1,560.1h1.5v1.5h-1.5zM401.4,562.6h1.5v1.5h-1.5zM401.9,561.2h1.5v1.5h-1.5zM401.5,562.1h1.5v1.5h-1.5zM402.3,563.6h1.5v1.5h-1.5zM405.8,567.8h1.5v1.5h-1.5zM404.0,565.6h1.5v1.5h-1.5zM405.3,567.4h1.5v1.5h-1.5zM404.1,569.1h1.5v1.5h-1.5zM405.8,573.9h1.5v1.5h-1.5zM405.4,570.3h1.5v1.5h-1.5zM405.7,571.7h1.5v1.5h-1.5zM407.7,574.9h1.5v1.5h-1.5zM411.0,579.9h1.5v1.5h-1.5zM408.3,580.0h1.5v1.5h-1.5zM409.4,577.5h1.5v1.5h-1.5zM408.6,580.6h1.5v1.5h-1.5zM410.1,580.8h1.5v1.5h-1.5zM410.0,582.8h1.5v1.5h-1.5zM411.5,586.6h1.5v1.5h-1.5zM410.0,582.3h1.5v1.5h-1.5zM410.3,587.3h1.5v1.5h-1.5zM410.7,588.4h1.5v1.5h-1.5zM410.3,590.6h1.5v1.5h-1.5zM409.8,590.6h1.5v1.5h-1.5zM406.6,593.8h1.5v1.5h-1.5zM407.9,596.1h1.5v1.5h-1.5zM404.9,595.1h1.5v1.5h-1.5zM402.8,594.0h1.5v1.5h-1.5zM399.6,595.4h1.5v1.5h-1.5zM403.3,595.8h1.5v1.5h-1.5zM399.5,592.9h1.5v1.5h-1.5zM400.7,593.2h1.5v1.5h-1.5zM397.4,593.1h1.5v1.5h-1.5zM396.9,591.9h1.5v1.5h-1.5zM397.4,590.1h1.5v1.5h-1.5zM392.4,589.5h1.5v1.5h-1.5zM393.9,588.9h1.5v1.5h-1.5zM393.1,587.4h1.5v1.5h-1.5zM390.9,586.7h1.5v1.5h-1.5zM390.6,585.0h1.5v1.5h-1.5zM388.4,583.7h1.5v1.5h-1.5zM387.5,583.0h1.5v1.5h-1.5zM383.5,581.6h1.5v1.5h-1.5zM385.5,582.1h1.5v1.5h-1.5zM384.4,578.8h1.5v1.5h-1.5zM383.9,579.0h1.5v1.5h-1.5zM383.7,575.6h1.5v1.5h-1.5zM383.6,576.9h1.5v1.5h-1.5zM383.4,573.1h1.5v1.5h-1.5zM384.2,571.6h1.5v1.5h-1.5zM379.1,578.7h1.5v1.5h-1.5zM380.7,583.2h1.5v1.5h-1.5zM395.3,593.3h1.5v1.5h-1.5zM409.8,580.3h1.5v1.5h-1.5zM412.3,586.4h1.5v1.5h-1.5zM411.9,589.2h1.5v1.5h-1.5zM414.3,591.3h1.5v1.5h-1.5zM412.3,593.3h1.5v1.5h-1.5zM414.3,594.9h1.5v1.5h-1.5zM416.3,596.5h1.5v1.5h-1.5zM417.9,597.7h1.5v1.5h-1.5zM415.5,599.4h1.5v1.5h-1.5zM418.3,599.4h1.5v1.5h-1.5zM419.4,599.3h1.5v1.5h-1.5zM410.6,594.1h1.5v1.5h-1.5zM384.8,583.2h1.5v1.5h-1.5zM405.0,595.3h1.5v1.5h-1.5z" fill="#548ab8"/>
<path d="M436.9,571.6L438.2,570.6L439.6,569.6L441.4,569.4L443.5,569.4L443.3,567.7L444.1,566.7L445.1,565.4L446.3,564.3L447.6,563.6L447.9,561.7L450.0,562.2L450.9,560.5L453.2,560.5L453.8,562.3L453.2,564.8L455.3,565.3L455.0,566.8L456.1,568.2L455.3,570.6L458.2,570.9L457.7,572.5L457.9,573.9L458.2,575.3L459.4,576.3L459.4,577.9L460.0,579.5L460.9,580.8L461.9,582.7L461.6,584.4L462.7,585.9L461.8,587.5L462.9,589.2L462.0,590.6L460.6,591.5L460.5,593.0L459.0,594.0L457.3,594.6L456.7,596.2L455.9,595.1L454.7,594.2L454.4,591.9L453.1,592.7L452.6,592.7L451.1,591.9L450.2,590.3L447.6,590.1L446.5,589.1L445.9,587.7L445.1,586.5L443.6,586.0L442.3,585.0L441.1,584.3L438.7,583.2L437.2,581.1L437.0,579.4L436.6,577.8L437.1,576.2L436.9,574.7L437.3,573.1Z" fill="#548ab8"/>
<path d="M437.2,568.2h1.5v1.5h-1.5zM437.8,569.4h1.5v1.5h-1.5zM442.2,568.6h1.5v1.5h-1.5zM442.1,568.3h1.5v1.5h-1.5zM442.7,567.0h1.5v1.5h-1.5zM440.0,568.2h1.5v1.5h-1.5zM444.8,563.0h1.5v1.5h-1.5zM444.8,563.4h1.5v1.5h-1.5zM446.3,561.4h1.5v1.5h-1.5zM446.3,561.9h1.5v1.5h-1.5zM447.8,560.1h1.5v1.5h-1.5zM449.6,560.1h1.5v1.5h-1.5zM451.5,560.1h1.5v1.5h-1.5zM454.5,560.7h1.5v1.5h-1.5zM453.6,560.8h1.5v1.5h-1.5zM456.0,560.4h1.5v1.5h-1.5zM455.7,567.8h1.5v1.5h-1.5zM455.1,564.6h1.5v1.5h-1.5zM461.5,564.4h1.5v1.5h-1.5zM456.2,569.6h1.5v1.5h-1.5zM457.4,570.9h1.5v1.5h-1.5zM457.2,570.4h1.5v1.5h-1.5zM457.6,572.4h1.5v1.5h-1.5zM458.1,574.3h1.5v1.5h-1.5zM458.9,574.9h1.5v1.5h-1.5zM460.0,579.3h1.5v1.5h-1.5zM460.7,577.0h1.5v1.5h-1.5zM459.6,576.5h1.5v1.5h-1.5zM460.6,580.7h1.5v1.5h-1.5zM462.2,585.4h1.5v1.5h-1.5zM464.0,585.8h1.5v1.5h-1.5zM462.4,582.8h1.5v1.5h-1.5zM462.8,588.3h1.5v1.5h-1.5zM461.8,587.8h1.5v1.5h-1.5zM460.7,592.5h1.5v1.5h-1.5zM461.2,590.8h1.5v1.5h-1.5zM459.7,593.2h1.5v1.5h-1.5zM458.8,593.7h1.5v1.5h-1.5zM456.3,595.3h1.5v1.5h-1.5zM454.8,594.5h1.5v1.5h-1.5zM454.3,594.0h1.5v1.5h-1.5zM453.0,593.3h1.5v1.5h-1.5zM452.0,592.4h1.5v1.5h-1.5zM449.9,591.2h1.5v1.5h-1.5zM449.6,592.2h1.5v1.5h-1.5zM448.5,590.6h1.5v1.5h-1.5zM448.2,589.7h1.5v1.5h-1.5zM444.3,588.0h1.5v1.5h-1.5zM443.8,586.6h1.5v1.5h-1.5zM444.1,587.5h1.5v1.5h-1.5zM441.9,585.4h1.5v1.5h-1.5zM441.4,586.3h1.5v1.5h-1.5zM439.6,583.6h1.5v1.5h-1.5zM436.4,581.5h1.5v1.5h-1.5zM435.6,581.3h1.5v1.5h-1.5zM435.0,578.6h1.5v1.5h-1.5zM436.1,579.3h1.5v1.5h-1.5zM433.8,576.4h1.5v1.5h-1.5zM431.7,572.3h1.5v1.5h-1.5zM435.8,571.8h1.5v1.5h-1.5zM430.1,578.7h1.5v1.5h-1.5zM432.4,583.2h1.5v1.5h-1.5zM446.9,593.3h1.5v1.5h-1.5zM461.5,580.3h1.5v1.5h-1.5zM463.9,586.4h1.5v1.5h-1.5zM463.5,589.2h1.5v1.5h-1.5zM465.9,591.3h1.5v1.5h-1.5zM463.9,593.3h1.5v1.5h-1.5zM465.9,594.9h1.5v1.5h-1.5zM467.9,596.5h1.5v1.5h-1.5zM469.6,597.7h1.5v1.5h-1.5zM467.1,599.4h1.5v1.5h-1.5zM470.0,599.4h1.5v1.5h-1.5zM470.4,599.3h1.5v1.5h-1.5zM462.3,594.1h1.5v1.5h-1.5zM436.4,583.2h1.5v1.5h-1.5zM456.6,595.3h1.5v1.5h-1.5z" fill="#548ab8"/>
<path d="M488.7,571.9L490.3,571.4L491.2,569.5L493.1,569.6L494.4,569.3L495.3,567.8L495.3,566.1L496.4,565.0L498.3,564.7L499.4,563.8L500.0,562.6L501.2,561.3L502.6,560.5L505.0,560.5L504.2,562.4L505.1,564.5L507.2,565.3L506.1,566.9L507.0,568.3L506.9,570.5L509.3,571.0L509.2,572.5L509.2,574.0L509.8,575.4L511.4,576.3L512.3,577.8L511.4,579.5L512.2,581.1L513.7,582.7L514.4,584.3L513.8,586.0L513.6,587.5L514.4,589.2L513.4,590.4L512.9,591.9L511.8,592.6L510.7,594.1L509.2,594.9L507.7,596.5L507.4,595.2L506.9,594.0L506.2,592.7L504.8,593.3L503.7,593.0L503.5,591.4L501.8,590.7L499.6,589.7L498.3,589.0L497.8,587.4L496.8,586.4L495.6,585.5L494.5,584.4L493.1,583.0L490.2,583.3L489.0,581.0L489.1,579.3L488.0,577.8L487.6,576.2L488.6,574.7L488.8,573.1Z" fill="#548ab8"/>
<path d="M489.0,569.5h1.5v1.5h-1.5zM489.3,569.1h1.5v1.5h-1.5zM493.5,568.6h1.5v1.5h-1.5zM491.3,568.9h1.5v1.5h-1.5zM494.4,565.4h1.5v1.5h-1.5zM494.5,565.7h1.5v1.5h-1.5zM495.9,562.7h1.5v1.5h-1.5zM495.6,564.2h1.5v1.5h-1.5zM497.9,562.2h1.5v1.5h-1.5zM498.0,562.2h1.5v1.5h-1.5zM500.4,560.4h1.5v1.5h-1.5zM501.4,560.1h1.5v1.5h-1.5zM504.1,560.1h1.5v1.5h-1.5zM504.5,562.2h1.5v1.5h-1.5zM504.4,560.2h1.5v1.5h-1.5zM506.1,564.0h1.5v1.5h-1.5zM508.3,564.7h1.5v1.5h-1.5zM510.9,567.1h1.5v1.5h-1.5zM507.3,567.3h1.5v1.5h-1.5zM508.8,569.5h1.5v1.5h-1.5zM508.9,571.2h1.5v1.5h-1.5zM508.8,570.6h1.5v1.5h-1.5zM513.3,573.2h1.5v1.5h-1.5zM510.1,573.4h1.5v1.5h-1.5zM511.5,578.0h1.5v1.5h-1.5zM512.2,576.6h1.5v1.5h-1.5zM514.7,579.0h1.5v1.5h-1.5zM512.8,580.6h1.5v1.5h-1.5zM513.9,579.9h1.5v1.5h-1.5zM513.4,582.1h1.5v1.5h-1.5zM513.3,584.3h1.5v1.5h-1.5zM513.4,584.1h1.5v1.5h-1.5zM514.2,587.3h1.5v1.5h-1.5zM513.4,588.4h1.5v1.5h-1.5zM512.2,591.5h1.5v1.5h-1.5zM512.8,591.9h1.5v1.5h-1.5zM509.4,594.9h1.5v1.5h-1.5zM510.7,594.4h1.5v1.5h-1.5zM508.5,595.5h1.5v1.5h-1.5zM505.7,594.8h1.5v1.5h-1.5zM505.9,594.3h1.5v1.5h-1.5zM506.2,594.4h1.5v1.5h-1.5zM503.7,592.9h1.5v1.5h-1.5zM503.8,593.2h1.5v1.5h-1.5zM501.1,591.6h1.5v1.5h-1.5zM500.4,590.7h1.5v1.5h-1.5zM499.0,589.5h1.5v1.5h-1.5zM498.7,589.8h1.5v1.5h-1.5zM496.5,587.3h1.5v1.5h-1.5zM497.9,589.6h1.5v1.5h-1.5zM495.3,586.3h1.5v1.5h-1.5zM492.3,587.2h1.5v1.5h-1.5zM492.5,584.0h1.5v1.5h-1.5zM489.9,582.5h1.5v1.5h-1.5zM487.7,580.7h1.5v1.5h-1.5zM489.0,581.5h1.5v1.5h-1.5zM486.2,580.0h1.5v1.5h-1.5zM486.5,579.6h1.5v1.5h-1.5zM487.0,575.9h1.5v1.5h-1.5zM487.2,576.3h1.5v1.5h-1.5zM486.7,573.8h1.5v1.5h-1.5zM487.3,572.2h1.5v1.5h-1.5zM482.1,578.7h1.5v1.5h-1.5zM484.0,583.2h1.5v1.5h-1.5zM498.6,593.3h1.5v1.5h-1.5zM513.1,580.3h1.5v1.5h-1.5zM515.5,586.4h1.5v1.5h-1.5zM515.1,589.2h1.5v1.5h-1.5zM517.6,591.3h1.5v1.5h-1.5zM515.5,593.3h1.5v1.5h-1.5zM517.6,594.9h1.5v1.5h-1.5zM519.6,596.5h1.5v1.5h-1.5zM521.2,597.7h1.5v1.5h-1.5zM518.8,599.4h1.5v1.5h-1.5zM521.6,599.4h1.5v1.5h-1.5zM522.4,599.3h1.5v1.5h-1.5zM513.9,594.1h1.5v1.5h-1.5zM488.1,583.2h1.5v1.5h-1.5zM508.3,595.3h1.5v1.5h-1.5z" fill="#548ab8"/>
<path d="M540.0,571.4L541.8,571.2L543.0,570.6L544.8,570.3L547.5,569.5L546.4,567.7L547.2,566.5L548.1,565.1L549.2,564.0L551.0,563.8L551.4,562.1L553.2,562.0L554.2,561.3L556.0,560.6L556.0,562.4L556.7,564.5L559.0,565.3L558.8,566.8L558.6,568.3L559.3,569.3L560.1,571.1L560.5,572.5L561.0,574.0L561.1,576.4L563.8,576.2L563.4,577.9L563.9,579.5L563.3,581.7L564.6,582.8L565.5,584.3L566.1,585.9L565.0,587.4L565.1,589.1L564.7,590.2L564.4,591.8L564.2,593.6L562.0,593.6L560.6,594.6L559.0,596.6L559.1,595.1L558.8,593.8L557.8,592.3L556.3,592.1L555.7,592.8L554.4,591.9L553.5,590.4L551.1,589.8L549.7,589.2L549.4,587.5L548.6,586.2L546.7,586.2L546.4,584.1L544.3,584.4L541.7,583.4L540.2,581.2L540.2,579.4L539.4,577.8L539.6,576.2L539.5,574.6L539.8,573.0Z" fill="#548ab8"/>
<path d="M538.9,568.9h1.5v1.5h-1.5zM540.1,570.0h1.5v1.5h-1.5zM543.0,566.1h1.5v1.5h-1.5zM543.4,568.5h1.5v1.5h-1.5zM544.9,568.6h1.5v1.5h-1.5zM545.7,568.0h1.5v1.5h-1.5zM543.1,565.8h1.5v1.5h-1.5zM546.5,564.7h1.5v1.5h-1.5zM546.8,564.5h1.5v1.5h-1.5zM550.1,561.8h1.5v1.5h-1.5zM550.0,560.9h1.5v1.5h-1.5zM551.6,560.1h1.5v1.5h-1.5zM550.0,560.1h1.5v1.5h-1.5zM554.9,560.1h1.5v1.5h-1.5zM555.5,560.1h1.5v1.5h-1.5zM556.2,562.4h1.5v1.5h-1.5zM556.3,562.3h1.5v1.5h-1.5zM556.8,562.9h1.5v1.5h-1.5zM557.9,562.2h1.5v1.5h-1.5zM558.5,566.0h1.5v1.5h-1.5zM558.6,567.0h1.5v1.5h-1.5zM559.6,566.4h1.5v1.5h-1.5zM560.2,569.8h1.5v1.5h-1.5zM562.6,573.3h1.5v1.5h-1.5zM560.9,573.7h1.5v1.5h-1.5zM562.0,573.4h1.5v1.5h-1.5zM563.4,578.0h1.5v1.5h-1.5zM564.4,580.0h1.5v1.5h-1.5zM566.4,578.0h1.5v1.5h-1.5zM564.3,581.0h1.5v1.5h-1.5zM568.6,586.0h1.5v1.5h-1.5zM565.5,582.8h1.5v1.5h-1.5zM565.3,584.3h1.5v1.5h-1.5zM567.2,589.8h1.5v1.5h-1.5zM565.5,588.5h1.5v1.5h-1.5zM563.2,592.5h1.5v1.5h-1.5zM563.7,591.7h1.5v1.5h-1.5zM561.5,593.9h1.5v1.5h-1.5zM562.1,593.8h1.5v1.5h-1.5zM560.8,595.4h1.5v1.5h-1.5zM557.5,595.6h1.5v1.5h-1.5zM557.5,593.2h1.5v1.5h-1.5zM557.3,593.7h1.5v1.5h-1.5zM557.1,593.5h1.5v1.5h-1.5zM551.4,591.1h1.5v1.5h-1.5zM553.2,592.7h1.5v1.5h-1.5zM550.8,591.8h1.5v1.5h-1.5zM552.3,590.9h1.5v1.5h-1.5zM548.6,589.8h1.5v1.5h-1.5zM549.3,589.7h1.5v1.5h-1.5zM546.4,585.6h1.5v1.5h-1.5zM546.2,585.4h1.5v1.5h-1.5zM544.4,584.7h1.5v1.5h-1.5zM543.8,583.5h1.5v1.5h-1.5zM541.7,582.7h1.5v1.5h-1.5zM540.4,581.5h1.5v1.5h-1.5zM537.9,577.7h1.5v1.5h-1.5zM539.0,578.0h1.5v1.5h-1.5zM538.8,576.9h1.5v1.5h-1.5zM537.7,576.4h1.5v1.5h-1.5zM539.1,570.8h1.5v1.5h-1.5zM538.5,573.1h1.5v1.5h-1.5zM533.4,578.7h1.5v1.5h-1.5zM535.7,583.2h1.5v1.5h-1.5zM550.2,593.3h1.5v1.5h-1.5zM564.8,580.3h1.5v1.5h-1.5zM567.2,586.4h1.5v1.5h-1.5zM566.8,589.2h1.5v1.5h-1.5zM569.2,591.3h1.5v1.5h-1.5zM567.2,593.3h1.5v1.5h-1.5zM569.2,594.9h1.5v1.5h-1.5zM571.2,596.5h1.5v1.5h-1.5zM572.9,597.7h1.5v1.5h-1.5zM570.4,599.4h1.5v1.5h-1.5zM573.3,599.4h1.5v1.5h-1.5zM573.4,599.3h1.5v1.5h-1.5zM565.6,594.1h1.5v1.5h-1.5zM539.7,583.2h1.5v1.5h-1.5zM559.9,595.3h1.5v1.5h-1.5z" fill="#548ab8"/>
<path d="M385.1,443.2L420.5,409.1" stroke="#548ab8" stroke-width="1.9" stroke-linecap="round"/>
<path d="M379.1,447.4h1.5v1.5h-1.5zM381.2,444.9h1.5v1.5h-1.5z" fill="#548ab8"/>
<path d="M385.1,494.2L420.5,460.1" stroke="#548ab8" stroke-width="1.9" stroke-linecap="round"/>
<path d="M379.1,498.4h1.5v1.5h-1.5zM381.2,495.9h1.5v1.5h-1.5z" fill="#548ab8"/>
<path d="M436.1,494.2L471.5,460.1" stroke="#548ab8" stroke-width="1.9" stroke-linecap="round"/>
<path d="M430.1,498.4h1.5v1.5h-1.5zM432.2,495.9h1.5v1.5h-1.5z" fill="#548ab8"/>
<path d="M385.1,544.2L420.5,510.1" stroke="#548ab8" stroke-width="1.9" stroke-linecap="round"/>
<path d="M379.1,548.4h1.5v1.5h-1.5zM381.2,545.9h1.5v1.5h-1.5z" fill="#548ab8"/>
<path d="M436.1,544.2L471.5,510.1" stroke="#548ab8" stroke-width="1.9" stroke-linecap="round"/>
<path d="M430.1,548.4h1.5v1.5h-1.5zM432.2,545.9h1.5v1.5h-1.5z" fill="#548ab8"/>
<path d="M488.1,544.2L523.5,510.1" stroke="#548ab8" stroke-width="1.9" stroke-linecap="round"/>
<path d="M482.1,548.4h1.5v1.5h-1.5zM484.2,545.9h1.5v1.5h-1.5z" fill="#548ab8"/>
<path d="M17.5,41.2L18.0,37.7L18.4,36.8L19.1,20.1L19.8,6.9L20.2,6.0L20.7,13.5L21.4,15.7L22.2,19.2L23.6,28.0L24.9,37.7L26.3,43.4L27.6,45.8L29.9,46.5L58.2,46.5L58.2,46.5L17.5,46.5Z" fill="#ea6e65" fill-opacity="0.4"/>
<path d="M17.5,41.2L18.0,37.7L18.4,36.8L19.1,20.1L19.8,6.9L20.2,6.0L20.7,13.5L21.4,15.7L22.2,19.2L23.6,28.0L24.9,37.7L26.3,43.4L27.6,45.8L29.9,46.5L58.2,46.5" fill="none" stroke="#ea6e65" stroke-width="0.9" stroke-linejoin="round"/>
<path d="M69.8,96.5L77.4,96.5L77.7,96.5L78.1,96.5L78.4,96.5L78.8,96.5L79.1,96.4L79.5,96.3L79.8,96.0L80.2,95.6L80.5,94.9L80.9,93.7L81.2,91.8L81.6,89.2L81.9,85.6L82.3,81.2L82.6,76.0L83.0,70.4L83.3,64.9L83.7,60.3L84.0,57.1L84.4,55.8L84.7,56.6L85.1,59.3L85.4,63.6L85.8,68.9L86.1,74.5L86.5,79.9L86.8,84.6L87.2,88.4L87.5,91.2L87.9,93.3L88.2,94.6L88.6,95.5L88.9,95.9L89.3,96.2L89.6,96.4L90.0,96.4L90.3,96.5L90.7,96.5L91.0,96.5L91.3,96.5L110.2,96.5L110.2,96.5L69.8,96.5Z" fill="#ea6e65" fill-opacity="0.4"/>
<path d="M69.8,96.5L77.4,96.5L77.7,96.5L78.1,96.5L78.4,96.5L78.8,96.5L79.1,96.4L79.5,96.3L79.8,96.0L80.2,95.6L80.5,94.9L80.9,93.7L81.2,91.8L81.6,89.2L81.9,85.6L82.3,81.2L82.6,76.0L83.0,70.4L83.3,64.9L83.7,60.3L84.0,57.1L84.4,55.8L84.7,56.6L85.1,59.3L85.4,63.6L85.8,68.9L86.1,74.5L86.5,79.9L86.8,84.6L87.2,88.4L87.5,91.2L87.9,93.3L88.2,94.6L88.6,95.5L88.9,95.9L89.3,96.2L89.6,96.4L90.0,96.4L90.3,96.5L90.7,96.5L91.0,96.5L91.3,96.5L110.2,96.5" fill="none" stroke="#ea6e65" stroke-width="0.9" stroke-linejoin="round"/>
<path d="M120.8,147.5L129.8,147.5L130.2,147.5L130.7,147.5L131.1,147.5L131.6,147.5L132.0,147.5L132.4,147.5L132.9,147.5L133.3,147.4L133.8,147.4L134.2,147.4L134.7,147.3L135.2,147.2L135.6,147.1L136.1,146.9L136.5,146.8L136.9,146.5L137.4,146.2L137.8,145.8L138.3,145.3L138.8,144.7L139.2,143.9L139.7,142.7L140.1,141.2L140.6,139.0L141.0,136.0L141.4,132.3L141.9,127.7L142.3,122.7L142.8,117.6L143.2,113.0L143.7,109.6L144.2,108.0L144.6,108.4L145.1,110.8L145.5,114.7L145.9,119.6L146.4,124.7L146.8,129.6L147.3,133.9L147.8,137.3L148.2,139.9L148.7,141.8L149.1,143.2L149.6,144.2L150.0,145.0L150.4,145.5L150.9,146.0L151.3,146.3L151.8,146.6L152.2,146.8L152.7,147.0L153.2,147.1L153.6,147.2L154.1,147.3L154.5,147.4L154.9,147.4L155.4,147.4L155.8,147.5L156.3,147.5L156.8,147.5L161.2,147.5L161.2,147.5L120.8,147.5Z" fill="#ea6e65" fill-opacity="0.4"/>
<path d="M120.8,147.5L129.8,147.5L130.2,147.5L130.7,147.5L131.1,147.5L131.6,147.5L132.0,147.5L132.4,147.5L132.9,147.5L133.3,147.4L133.8,147.4L134.2,147.4L134.7,147.3L135.2,147.2L135.6,147.1L136.1,146.9L136.5,146.8L136.9,146.5L137.4,146.2L137.8,145.8L138.3,145.3L138.8,144.7L139.2,143.9L139.7,142.7L140.1,141.2L140.6,139.0L141.0,136.0L141.4,132.3L141.9,127.7L142.3,122.7L142.8,117.6L143.2,113.0L143.7,109.6L144.2,108.0L144.6,108.4L145.1,110.8L145.5,114.7L145.9,119.6L146.4,124.7L146.8,129.6L147.3,133.9L147.8,137.3L148.2,139.9L148.7,141.8L149.1,143.2L149.6,144.2L150.0,145.0L150.4,145.5L150.9,146.0L151.3,146.3L151.8,146.6L152.2,146.8L152.7,147.0L153.2,147.1L153.6,147.2L154.1,147.3L154.5,147.4L154.9,147.4L155.4,147.4L155.8,147.5L156.3,147.5L156.8,147.5L161.2,147.5" fill="none" stroke="#ea6e65" stroke-width="0.9" stroke-linejoin="round"/>
<path d="M172.8,197.5L175.0,197.5L179.1,196.4L181.5,194.3L184.0,189.5L185.6,182.4L187.2,171.3L188.3,165.0L189.2,162.1L190.0,164.2L190.8,168.1L192.0,164.2L193.0,158.6L194.3,157.3L195.2,159.4L196.5,167.4L197.2,177.7L197.9,182.4L198.5,179.3L199.2,169.7L200.0,160.9L200.4,159.9L201.1,165.0L201.9,179.3L202.7,193.5L203.3,197.2L205.6,197.5L213.2,197.5L213.2,197.5L172.8,197.5Z" fill="#ea6e65" fill-opacity="0.4"/>
<path d="M172.8,197.5L175.0,197.5L179.1,196.4L181.5,194.3L184.0,189.5L185.6,182.4L187.2,171.3L188.3,165.0L189.2,162.1L190.0,164.2L190.8,168.1L192.0,164.2L193.0,158.6L194.3,157.3L195.2,159.4L196.5,167.4L197.2,177.7L197.9,182.4L198.5,179.3L199.2,169.7L200.0,160.9L200.4,159.9L201.1,165.0L201.9,179.3L202.7,193.5L203.3,197.2L205.6,197.5L213.2,197.5" fill="none" stroke="#ea6e65" stroke-width="0.9" stroke-linejoin="round"/>
<path d="M224.8,248.5L231.1,248.5L232.3,245.9L233.9,240.3L235.5,233.1L236.3,222.7L237.1,211.5L237.5,208.1L237.9,210.7L238.7,217.0L239.2,219.9L240.0,219.1L240.8,218.5L241.4,219.9L242.2,224.3L242.8,226.7L243.5,224.7L244.1,223.9L244.8,226.7L245.5,236.3L246.3,244.3L247.2,247.8L248.6,248.5L265.2,248.5L265.2,248.5L224.8,248.5Z" fill="#ea6e65" fill-opacity="0.4"/>
<path d="M224.8,248.5L231.1,248.5L232.3,245.9L233.9,240.3L235.5,233.1L236.3,222.7L237.1,211.5L237.5,208.1L237.9,210.7L238.7,217.0L239.2,219.9L240.0,219.1L240.8,218.5L241.4,219.9L242.2,224.3L242.8,226.7L243.5,224.7L244.1,223.9L244.8,226.7L245.5,236.3L246.3,244.3L247.2,247.8L248.6,248.5L265.2,248.5" fill="none" stroke="#ea6e65" stroke-width="0.9" stroke-linejoin="round"/>
<path d="M275.8,299.5L280.2,299.5L282.6,298.7L284.2,295.8L285.5,288.9L286.5,277.5L287.4,266.2L288.4,259.5L289.0,258.4L289.8,261.4L291.0,271.1L292.2,282.5L293.5,289.8L295.1,294.7L297.4,297.4L300.2,298.7L305.0,299.3L311.8,299.5L316.2,299.5L316.2,299.5L275.8,299.5Z" fill="#ea6e65" fill-opacity="0.4"/>
<path d="M275.8,299.5L280.2,299.5L282.6,298.7L284.2,295.8L285.5,288.9L286.5,277.5L287.4,266.2L288.4,259.5L289.0,258.4L289.8,261.4L291.0,271.1L292.2,282.5L293.5,289.8L295.1,294.7L297.4,297.4L300.2,298.7L305.0,299.3L311.8,299.5L316.2,299.5" fill="none" stroke="#ea6e65" stroke-width="0.9" stroke-linejoin="round"/>
<path d="M334.5,349.4L336.9,348.2L339.6,344.5L341.6,340.1L343.2,336.5L344.4,332.6L345.1,330.1L345.5,333.0L346.3,326.9L346.7,326.2L347.3,329.3L348.1,325.3L349.1,323.8L350.0,323.3L350.6,329.3L351.4,334.5L352.2,333.4L353.4,330.6L353.9,335.0L354.6,340.5L355.3,343.8L356.5,344.5L357.3,340.5L358.1,346.2L358.9,348.9L360.5,347.3L361.2,346.9L362.0,349.3L362.0,349.5L334.5,349.5Z" fill="#ea6e65" fill-opacity="0.28"/>
<path d="M344.4,349.5V317.4" stroke="#ea6e65" stroke-opacity="0.16" stroke-width="1" fill="none"/>
<path d="M346.3,349.5V312.5" stroke="#ea6e65" stroke-opacity="0.16" stroke-width="1" fill="none"/>
<path d="M348.3,349.5V308.1" stroke="#ea6e65" stroke-opacity="0.16" stroke-width="1" fill="none"/>
<path d="M350.2,349.5V308.6" stroke="#ea6e65" stroke-opacity="0.16" stroke-width="1" fill="none"/>
<path d="M353.4,349.5V318.3" stroke="#ea6e65" stroke-opacity="0.16" stroke-width="1" fill="none"/>
<path d="M357.3,349.5V334.1" stroke="#ea6e65" stroke-opacity="0.16" stroke-width="1" fill="none"/>
<path d="M334.5,349.4L336.9,348.2L339.6,344.5L341.6,340.1L343.2,336.5L344.4,332.6L345.1,330.1L345.5,333.0L346.3,326.9L346.7,326.2L347.3,329.3L348.1,325.3L349.1,323.8L350.0,323.3L350.6,329.3L351.4,334.5L352.2,333.4L353.4,330.6L353.9,335.0L354.6,340.5L355.3,343.8L356.5,344.5L357.3,340.5L358.1,346.2L358.9,348.9L360.5,347.3L361.2,346.9L362.0,349.3" fill="none" stroke="#ea6e65" stroke-width="1.7" stroke-linejoin="round"/>
<path d="M379.8,400.5L392.2,400.3L393.8,397.2L395.0,391.6L395.9,385.2L396.7,383.2L398.1,383.6L398.9,386.0L399.9,389.2L400.3,394.8L401.3,395.2L402.0,397.9L403.6,399.9L405.2,400.3L420.2,400.5L420.2,400.5L379.8,400.5Z" fill="#ea6e65" fill-opacity="0.95"/>
<path d="M396.9,399.7L397.2,393.0L398.1,395.2L399.0,393.0L399.3,399.7Z" fill="#fbe3e0"/>
<path d="M398.3,400.5V367.5" stroke="#ea6e65" stroke-opacity="0.16" stroke-width="1" fill="none"/>
<path d="M396.1,400.5V378.1" stroke="#ea6e65" stroke-opacity="0.16" stroke-width="1" fill="none"/>
<path d="M379.8,400.5L392.2,400.3L393.8,397.2L395.0,391.6L395.9,385.2L396.7,383.2L398.1,383.6L398.9,386.0L399.9,389.2L400.3,394.8L401.3,395.2L402.0,397.9L403.6,399.9L405.2,400.3L420.2,400.5" fill="none" stroke="#ea6e65" stroke-width="1.0" stroke-linejoin="round"/>
<path d="M430.8,450.5L442.3,450.3L443.9,447.2L445.1,441.6L446.0,435.2L446.8,433.2L448.2,433.6L449.0,436.0L450.0,439.2L450.4,444.8L451.4,445.2L452.1,447.9L453.7,449.9L455.3,450.3L471.2,450.5L471.2,450.5L430.8,450.5Z" fill="#ea6e65" fill-opacity="0.95"/>
<path d="M446.9,449.7L447.2,443.0L448.2,445.2L449.1,443.0L449.4,449.7Z" fill="#fbe3e0"/>
<path d="M448.4,450.5V409.6" stroke="#ea6e65" stroke-opacity="0.16" stroke-width="1" fill="none"/>
<path d="M446.2,450.5V426.3" stroke="#ea6e65" stroke-opacity="0.16" stroke-width="1" fill="none"/>
<path d="M430.8,450.5L442.3,450.3L443.9,447.2L445.1,441.6L446.0,435.2L446.8,433.2L448.2,433.6L449.0,436.0L450.0,439.2L450.4,444.8L451.4,445.2L452.1,447.9L453.7,449.9L455.3,450.3L471.2,450.5" fill="none" stroke="#ea6e65" stroke-width="1.0" stroke-linejoin="round"/>
<path d="M482.8,501.5L494.5,501.3L496.1,498.2L497.3,492.6L498.2,486.2L499.0,484.2L500.4,484.6L501.2,487.0L502.2,490.2L502.6,495.8L503.6,496.2L504.4,498.9L505.9,500.9L507.5,501.3L523.2,501.5L523.2,501.5L482.8,501.5Z" fill="#ea6e65" fill-opacity="0.95"/>
<path d="M499.2,500.7L499.5,494.0L500.4,496.2L501.3,494.0L501.6,500.7Z" fill="#fbe3e0"/>
<path d="M500.6,501.5V460.6" stroke="#ea6e65" stroke-opacity="0.16" stroke-width="1" fill="none"/>
<path d="M498.5,501.5V477.3" stroke="#ea6e65" stroke-opacity="0.16" stroke-width="1" fill="none"/>
<path d="M482.8,501.5L494.5,501.3L496.1,498.2L497.3,492.6L498.2,486.2L499.0,484.2L500.4,484.6L501.2,487.0L502.2,490.2L502.6,495.8L503.6,496.2L504.4,498.9L505.9,500.9L507.5,501.3L523.2,501.5" fill="none" stroke="#ea6e65" stroke-width="1.0" stroke-linejoin="round"/>
<path d="M533.8,551.5L545.8,551.3L547.3,548.2L548.5,542.6L549.5,536.2L550.3,534.2L551.7,534.6L552.5,537.0L553.4,540.2L553.9,545.8L554.8,546.2L555.6,548.9L557.1,550.9L558.7,551.3L574.2,551.5L574.2,551.5L533.8,551.5Z" fill="#ea6e65" fill-opacity="0.95"/>
<path d="M550.4,550.7L550.7,544.0L551.6,546.2L552.6,544.0L552.9,550.7Z" fill="#fbe3e0"/>
<path d="M551.8,551.5V510.6" stroke="#ea6e65" stroke-opacity="0.16" stroke-width="1" fill="none"/>
<path d="M549.7,551.5V527.3" stroke="#ea6e65" stroke-opacity="0.16" stroke-width="1" fill="none"/>
<path d="M533.8,551.5L545.8,551.3L547.3,548.2L548.5,542.6L549.5,536.2L550.3,534.2L551.7,534.6L552.5,537.0L553.4,540.2L553.9,545.8L554.8,546.2L555.6,548.9L557.1,550.9L558.7,551.3L574.2,551.5" fill="none" stroke="#ea6e65" stroke-width="1.0" stroke-linejoin="round"/>
<path d="M585.8,602.5L594.8,602.5L595.5,602.4L596.3,602.4L597.1,602.3L597.9,602.1L598.6,601.8L599.4,601.4L600.2,600.7L601.0,599.7L601.7,598.3L602.5,596.5L603.3,594.1L604.1,591.1L604.8,587.5L605.6,583.4L606.4,579.0L607.2,574.6L607.9,570.4L608.7,566.8L609.5,564.0L610.3,562.4L611.1,562.1L611.8,563.0L612.6,565.3L613.4,568.5L614.2,572.4L614.9,576.8L615.7,581.2L616.5,585.5L617.3,589.3L618.0,592.6L618.8,595.3L619.6,597.5L620.4,599.1L621.1,600.3L621.9,601.1L622.7,601.6L623.5,602.0L624.2,602.2L625.0,602.3L625.8,602.4L626.2,602.5L626.2,602.5L585.8,602.5Z" fill="#ea6e65" fill-opacity="0.4"/>
<path d="M585.8,602.5L594.8,602.5L595.5,602.4L596.3,602.4L597.1,602.3L597.9,602.1L598.6,601.8L599.4,601.4L600.2,600.7L601.0,599.7L601.7,598.3L602.5,596.5L603.3,594.1L604.1,591.1L604.8,587.5L605.6,583.4L606.4,579.0L607.2,574.6L607.9,570.4L608.7,566.8L609.5,564.0L610.3,562.4L611.1,562.1L611.8,563.0L612.6,565.3L613.4,568.5L614.2,572.4L614.9,576.8L615.7,581.2L616.5,585.5L617.3,589.3L618.0,592.6L618.8,595.3L619.6,597.5L620.4,599.1L621.1,600.3L621.9,601.1L622.7,601.6L623.5,602.0L624.2,602.2L625.0,602.3L625.8,602.4L626.2,602.5" fill="none" stroke="#ea6e65" stroke-width="0.9" stroke-linejoin="round"/>
<rect x="67.5" y="2.5" width="45.0" height="44.0" fill="#c9d8e2"/>
<text x="89.65" y="27.55" font-size="12" text-anchor="middle" fill="#262626">-0.24</text>
<rect x="118.5" y="2.5" width="45.0" height="44.0" fill="#e1e7ec"/>
<text x="141.29" y="27.55" font-size="12" text-anchor="middle" fill="#262626">-0.10</text>
<rect x="170.5" y="2.5" width="45.0" height="44.0" fill="#b0c7d8"/>
<text x="192.94" y="27.55" font-size="12" text-anchor="middle" fill="#262626">-0.39</text>
<rect x="222.5" y="2.5" width="45.0" height="44.0" fill="#b9cddc"/>
<text x="244.58" y="27.55" font-size="12" text-anchor="middle" fill="#262626">-0.33</text>
<rect x="273.5" y="2.5" width="45.0" height="44.0" fill="#f2efef"/>
<text x="296.23" y="27.55" font-size="12" text-anchor="middle" fill="#262626">0.01</text>
<rect x="325.5" y="2.5" width="45.0" height="44.0" fill="#b3c9d9"/>
<text x="347.87" y="27.55" font-size="12" text-anchor="middle" fill="#262626">-0.37</text>
<rect x="377.5" y="2.5" width="45.0" height="44.0" fill="#c4d4e0"/>
<text x="399.52" y="27.55" font-size="12" text-anchor="middle" fill="#262626">-0.27</text>
<rect x="428.5" y="2.5" width="45.0" height="44.0" fill="#c4d4e0"/>
<text x="451.16" y="27.55" font-size="12" text-anchor="middle" fill="#262626">-0.27</text>
<rect x="480.5" y="2.5" width="45.0" height="44.0" fill="#c4d4e0"/>
<text x="502.81" y="27.55" font-size="12" text-anchor="middle" fill="#262626">-0.27</text>
<rect x="531.5" y="2.5" width="45.0" height="44.0" fill="#c4d4e0"/>
<text x="554.45" y="27.55" font-size="12" text-anchor="middle" fill="#262626">-0.27</text>
<rect x="583.5" y="2.5" width="45.0" height="44.0" fill="#d6e0e8"/>
<text x="606.10" y="27.55" font-size="12" text-anchor="middle" fill="#262626">-0.16</text>
<rect x="118.5" y="52.5" width="45.0" height="44.0" fill="#e8c2c8"/>
<text x="141.29" y="78.11" font-size="12" text-anchor="middle" fill="#262626">0.24</text>
<rect x="170.5" y="52.5" width="45.0" height="44.0" fill="#e5b5bd"/>
<text x="192.94" y="78.11" font-size="12" text-anchor="middle" fill="#262626">0.30</text>
<rect x="222.5" y="52.5" width="45.0" height="44.0" fill="#e9cbd0"/>
<text x="244.58" y="78.11" font-size="12" text-anchor="middle" fill="#262626">0.19</text>
<rect x="273.5" y="52.5" width="45.0" height="44.0" fill="#de8590"/>
<text x="296.23" y="78.11" font-size="12" text-anchor="middle" fill="#262626">0.56</text>
<rect x="325.5" y="52.5" width="45.0" height="44.0" fill="#db6673"/>
<text x="347.87" y="78.11" font-size="12" text-anchor="middle" fill="#262626">0.73</text>
<rect x="377.5" y="52.5" width="45.0" height="44.0" fill="#e7bfc5"/>
<text x="399.52" y="78.11" font-size="12" text-anchor="middle" fill="#262626">0.25</text>
<rect x="428.5" y="52.5" width="45.0" height="44.0" fill="#e7bfc5"/>
<text x="451.16" y="78.11" font-size="12" text-anchor="middle" fill="#262626">0.25</text>
<rect x="480.5" y="52.5" width="45.0" height="44.0" fill="#e7bfc5"/>
<text x="502.81" y="78.11" font-size="12" text-anchor="middle" fill="#262626">0.25</text>
<rect x="531.5" y="52.5" width="45.0" height="44.0" fill="#e7bfc5"/>
<text x="554.45" y="78.11" font-size="12" text-anchor="middle" fill="#262626">0.25</text>
<rect x="583.5" y="52.5" width="45.0" height="44.0" fill="#db6c78"/>
<text x="606.10" y="78.11" font-size="12" text-anchor="middle" fill="#262626">0.70</text>
<rect x="170.5" y="103.5" width="45.0" height="44.0" fill="#e9c8cd"/>
<text x="192.94" y="128.66" font-size="12" text-anchor="middle" fill="#262626">0.21</text>
<rect x="222.5" y="103.5" width="45.0" height="44.0" fill="#c5d5e1"/>
<text x="244.58" y="128.66" font-size="12" text-anchor="middle" fill="#262626">-0.26</text>
<rect x="273.5" y="103.5" width="45.0" height="44.0" fill="#e1e7ec"/>
<text x="296.23" y="128.66" font-size="12" text-anchor="middle" fill="#262626">-0.10</text>
<rect x="325.5" y="103.5" width="45.0" height="44.0" fill="#ecd7db"/>
<text x="347.87" y="128.66" font-size="12" text-anchor="middle" fill="#262626">0.13</text>
<rect x="377.5" y="103.5" width="45.0" height="44.0" fill="#eedee0"/>
<text x="399.52" y="128.66" font-size="12" text-anchor="middle" fill="#262626">0.10</text>
<rect x="428.5" y="103.5" width="45.0" height="44.0" fill="#eedee0"/>
<text x="451.16" y="128.66" font-size="12" text-anchor="middle" fill="#262626">0.10</text>
<rect x="480.5" y="103.5" width="45.0" height="44.0" fill="#eedee0"/>
<text x="502.81" y="128.66" font-size="12" text-anchor="middle" fill="#262626">0.10</text>
<rect x="531.5" y="103.5" width="45.0" height="44.0" fill="#eedee0"/>
<text x="554.45" y="128.66" font-size="12" text-anchor="middle" fill="#262626">0.10</text>
<rect x="583.5" y="103.5" width="45.0" height="44.0" fill="#f2efef"/>
<text x="606.10" y="128.66" font-size="12" text-anchor="middle" fill="#262626">0.01</text>
<rect x="222.5" y="154.5" width="45.0" height="43.0" fill="#da4c59"/>
<text x="244.58" y="179.21" font-size="12" text-anchor="middle" fill="#262626">0.89</text>
<rect x="273.5" y="154.5" width="45.0" height="43.0" fill="#f2efef"/>
<text x="296.23" y="179.21" font-size="12" text-anchor="middle" fill="#262626">0.01</text>
<rect x="325.5" y="154.5" width="45.0" height="43.0" fill="#dc7480"/>
<text x="347.87" y="179.21" font-size="12" text-anchor="middle" fill="#262626">0.65</text>
<rect x="377.5" y="154.5" width="45.0" height="43.0" fill="#e4aeb6"/>
<text x="399.52" y="179.21" font-size="12" text-anchor="middle" fill="#262626">0.34</text>
<rect x="428.5" y="154.5" width="45.0" height="43.0" fill="#e4aeb6"/>
<text x="451.16" y="179.21" font-size="12" text-anchor="middle" fill="#262626">0.34</text>
<rect x="480.5" y="154.5" width="45.0" height="43.0" fill="#e4aeb6"/>
<text x="502.81" y="179.21" font-size="12" text-anchor="middle" fill="#262626">0.34</text>
<rect x="531.5" y="154.5" width="45.0" height="43.0" fill="#e4aeb6"/>
<text x="554.45" y="179.21" font-size="12" text-anchor="middle" fill="#262626">0.34</text>
<rect x="583.5" y="154.5" width="45.0" height="43.0" fill="#e5b4bc"/>
<text x="606.10" y="179.21" font-size="12" text-anchor="middle" fill="#262626">0.31</text>
<rect x="273.5" y="204.5" width="45.0" height="44.0" fill="#efe5e7"/>
<text x="296.23" y="229.77" font-size="12" text-anchor="middle" fill="#262626">0.06</text>
<rect x="325.5" y="204.5" width="45.0" height="44.0" fill="#dd7f8b"/>
<text x="347.87" y="229.77" font-size="12" text-anchor="middle" fill="#262626">0.59</text>
<rect x="377.5" y="204.5" width="45.0" height="44.0" fill="#e6bac1"/>
<text x="399.52" y="229.77" font-size="12" text-anchor="middle" fill="#262626">0.28</text>
<rect x="428.5" y="204.5" width="45.0" height="44.0" fill="#e6bac1"/>
<text x="451.16" y="229.77" font-size="12" text-anchor="middle" fill="#262626">0.28</text>
<rect x="480.5" y="204.5" width="45.0" height="44.0" fill="#e6bac1"/>
<text x="502.81" y="229.77" font-size="12" text-anchor="middle" fill="#262626">0.28</text>
<rect x="531.5" y="204.5" width="45.0" height="44.0" fill="#e6bac1"/>
<text x="554.45" y="229.77" font-size="12" text-anchor="middle" fill="#262626">0.28</text>
<rect x="583.5" y="204.5" width="45.0" height="44.0" fill="#e5b4bc"/>
<text x="606.10" y="229.77" font-size="12" text-anchor="middle" fill="#262626">0.31</text>
<rect x="325.5" y="255.5" width="45.0" height="44.0" fill="#e3a7b0"/>
<text x="347.87" y="280.32" font-size="12" text-anchor="middle" fill="#262626">0.38</text>
<rect x="377.5" y="255.5" width="45.0" height="44.0" fill="#d0dce5"/>
<text x="399.52" y="280.32" font-size="12" text-anchor="middle" fill="#262626">-0.20</text>
<rect x="428.5" y="255.5" width="45.0" height="44.0" fill="#d0dce5"/>
<text x="451.16" y="280.32" font-size="12" text-anchor="middle" fill="#262626">-0.20</text>
<rect x="480.5" y="255.5" width="45.0" height="44.0" fill="#d0dce5"/>
<text x="502.81" y="280.32" font-size="12" text-anchor="middle" fill="#262626">-0.20</text>
<rect x="531.5" y="255.5" width="45.0" height="44.0" fill="#d0dce5"/>
<text x="554.45" y="280.32" font-size="12" text-anchor="middle" fill="#262626">-0.20</text>
<rect x="583.5" y="255.5" width="45.0" height="44.0" fill="#db6d7a"/>
<text x="606.10" y="280.32" font-size="12" text-anchor="middle" fill="#262626">0.69</text>
<rect x="377.5" y="305.5" width="45.0" height="44.0" fill="#e5b5bd"/>
<text x="399.52" y="330.88" font-size="12" text-anchor="middle" fill="#262626">0.30</text>
<rect x="428.5" y="305.5" width="45.0" height="44.0" fill="#e5b5bd"/>
<text x="451.16" y="330.88" font-size="12" text-anchor="middle" fill="#262626">0.30</text>
<rect x="480.5" y="305.5" width="45.0" height="44.0" fill="#e5b5bd"/>
<text x="502.81" y="330.88" font-size="12" text-anchor="middle" fill="#262626">0.30</text>
<rect x="531.5" y="305.5" width="45.0" height="44.0" fill="#e5b5bd"/>
<text x="554.45" y="330.88" font-size="12" text-anchor="middle" fill="#262626">0.30</text>
<rect x="583.5" y="305.5" width="45.0" height="44.0" fill="#db6572"/>
<text x="606.10" y="330.88" font-size="12" text-anchor="middle" fill="#262626">0.74</text>
<rect x="428.5" y="356.5" width="45.0" height="44.0" fill="#da3b46"/>
<text x="451.16" y="381.43" font-size="12" text-anchor="middle" fill="#262626">1.00</text>
<rect x="480.5" y="356.5" width="45.0" height="44.0" fill="#da3b46"/>
<text x="502.81" y="381.43" font-size="12" text-anchor="middle" fill="#262626">1.00</text>
<rect x="531.5" y="356.5" width="45.0" height="44.0" fill="#da3b46"/>
<text x="554.45" y="381.43" font-size="12" text-anchor="middle" fill="#262626">1.00</text>
<rect x="583.5" y="356.5" width="45.0" height="44.0" fill="#e2e8ed"/>
<text x="606.10" y="381.43" font-size="12" text-anchor="middle" fill="#262626">-0.09</text>
<rect x="480.5" y="406.5" width="45.0" height="44.0" fill="#da3b46"/>
<text x="502.81" y="431.99" font-size="12" text-anchor="middle" fill="#262626">1.00</text>
<rect x="531.5" y="406.5" width="45.0" height="44.0" fill="#da3b46"/>
<text x="554.45" y="431.99" font-size="12" text-anchor="middle" fill="#262626">1.00</text>
<rect x="583.5" y="406.5" width="45.0" height="44.0" fill="#e2e8ed"/>
<text x="606.10" y="431.99" font-size="12" text-anchor="middle" fill="#262626">-0.09</text>
<rect x="531.5" y="457.5" width="45.0" height="44.0" fill="#da3b46"/>
<text x="554.45" y="482.54" font-size="12" text-anchor="middle" fill="#262626">1.00</text>
<rect x="583.5" y="457.5" width="45.0" height="44.0" fill="#e2e8ed"/>
<text x="606.10" y="482.54" font-size="12" text-anchor="middle" fill="#262626">-0.09</text>
<rect x="583.5" y="507.5" width="45.0" height="44.0" fill="#e2e8ed"/>
<text x="606.10" y="533.10" font-size="12" text-anchor="middle" fill="#262626">-0.09</text>
<rect x="15.5" y="2.5" width="45.0" height="44.0" fill="none" stroke="#484848" stroke-width="1"/>
<rect x="67.5" y="2.5" width="45.0" height="44.0" fill="none" stroke="#484848" stroke-width="1"/>
<rect x="118.5" y="2.5" width="45.0" height="44.0" fill="none" stroke="#484848" stroke-width="1"/>
<rect x="170.5" y="2.5" width="45.0" height="44.0" fill="none" stroke="#484848" stroke-width="1"/>
<rect x="222.5" y="2.5" width="45.0" height="44.0" fill="none" stroke="#484848" stroke-width="1"/>
<rect x="273.5" y="2.5" width="45.0" height="44.0" fill="none" stroke="#484848" stroke-width="1"/>
<rect x="325.5" y="2.5" width="45.0" height="44.0" fill="none" stroke="#484848" stroke-width="1"/>
<rect x="377.5" y="2.5" width="45.0" height="44.0" fill="none" stroke="#484848" stroke-width="1"/>
<rect x="428.5" y="2.5" width="45.0" height="44.0" fill="none" stroke="#484848" stroke-width="1"/>
<rect x="480.5" y="2.5" width="45.0" height="44.0" fill="none" stroke="#484848" stroke-width="1"/>
<rect x="531.5" y="2.5" width="45.0" height="44.0" fill="none" stroke="#484848" stroke-width="1"/>
<rect x="583.5" y="2.5" width="45.0" height="44.0" fill="none" stroke="#484848" stroke-width="1"/>
<rect x="15.5" y="52.5" width="45.0" height="44.0" fill="none" stroke="#484848" stroke-width="1"/>
<rect x="67.5" y="52.5" width="45.0" height="44.0" fill="none" stroke="#484848" stroke-width="1"/>
<rect x="118.5" y="52.5" width="45.0" height="44.0" fill="none" stroke="#484848" stroke-width="1"/>
<rect x="170.5" y="52.5" width="45.0" height="44.0" fill="none" stroke="#484848" stroke-width="1"/>
<rect x="222.5" y="52.5" width="45.0" height="44.0" fill="none" stroke="#484848" stroke-width="1"/>
<rect x="273.5" y="52.5" width="45.0" height="44.0" fill="none" stroke="#484848" stroke-width="1"/>
<rect x="325.5" y="52.5" width="45.0" height="44.0" fill="none" stroke="#484848" stroke-width="1"/>
<rect x="377.5" y="52.5" width="45.0" height="44.0" fill="none" stroke="#484848" stroke-width="1"/>
<rect x="428.5" y="52.5" width="45.0" height="44.0" fill="none" stroke="#484848" stroke-width="1"/>
<rect x="480.5" y="52.5" width="45.0" height="44.0" fill="none" stroke="#484848" stroke-width="1"/>
<rect x="531.5" y="52.5" width="45.0" height="44.0" fill="none" stroke="#484848" stroke-width="1"/>
<rect x="583.5" y="52.5" width="45.0" height="44.0" fill="none" stroke="#484848" stroke-width="1"/>
<rect x="15.5" y="103.5" width="45.0" height="44.0" fill="none" stroke="#484848" stroke-width="1"/>
<rect x="67.5" y="103.5" width="45.0" height="44.0" fill="none" stroke="#484848" stroke-width="1"/>
<rect x="118.5" y="103.5" width="45.0" height="44.0" fill="none" stroke="#484848" stroke-width="1"/>
<rect x="170.5" y="103.5" width="45.0" height="44.0" fill="none" stroke="#484848" stroke-width="1"/>
<rect x="222.5" y="103.5" width="45.0" height="44.0" fill="none" stroke="#484848" stroke-width="1"/>
<rect x="273.5" y="103.5" width="45.0" height="44.0" fill="none" stroke="#484848" stroke-width="1"/>
<rect x="325.5" y="103.5" width="45.0" height="44.0" fill="none" stroke="#484848" stroke-width="1"/>
<rect x="377.5" y="103.5" width="45.0" height="44.0" fill="none" stroke="#484848" stroke-width="1"/>
<rect x="428.5" y="103.5" width="45.0" height="44.0" fill="none" stroke="#484848" stroke-width="1"/>
<rect x="480.5" y="103.5" width="45.0" height="44.0" fill="none" stroke="#484848" stroke-width="1"/>
<rect x="531.5" y="103.5" width="45.0" height="44.0" fill="none" stroke="#484848" stroke-width="1"/>
<rect x="583.5" y="103.5" width="45.0" height="44.0" fill="none" stroke="#484848" stroke-width="1"/>
<rect x="15.5" y="154.5" width="45.0" height="43.0" fill="none" stroke="#484848" stroke-width="1"/>
<rect x="67.5" y="154.5" width="45.0" height="43.0" fill="none" stroke="#484848" stroke-width="1"/>
<rect x="118.5" y="154.5" width="45.0" height="43.0" fill="none" stroke="#484848" stroke-width="1"/>
<rect x="170.5" y="154.5" width="45.0" height="43.0" fill="none" stroke="#484848" stroke-width="1"/>
<rect x="222.5" y="154.5" width="45.0" height="43.0" fill="none" stroke="#484848" stroke-width="1"/>
<rect x="273.5" y="154.5" width="45.0" height="43.0" fill="none" stroke="#484848" stroke-width="1"/>
<rect x="325.5" y="154.5" width="45.0" height="43.0" fill="none" stroke="#484848" stroke-width="1"/>
<rect x="377.5" y="154.5" width="45.0" height="43.0" fill="none" stroke="#484848" stroke-width="1"/>
<rect x="428.5" y="154.5" width="45.0" height="43.0" fill="none" stroke="#484848" stroke-width="1"/>
<rect x="480.5" y="154.5" width="45.0" height="43.0" fill="none" stroke="#484848" stroke-width="1"/>
<rect x="531.5" y="154.5" width="45.0" height="43.0" fill="none" stroke="#484848" stroke-width="1"/>
<rect x="583.5" y="154.5" width="45.0" height="43.0" fill="none" stroke="#484848" stroke-width="1"/>
<rect x="15.5" y="204.5" width="45.0" height="44.0" fill="none" stroke="#484848" stroke-width="1"/>
<rect x="67.5" y="204.5" width="45.0" height="44.0" fill="none" stroke="#484848" stroke-width="1"/>
<rect x="118.5" y="204.5" width="45.0" height="44.0" fill="none" stroke="#484848" stroke-width="1"/>
<rect x="170.5" y="204.5" width="45.0" height="44.0" fill="none" stroke="#484848" stroke-width="1"/>
<rect x="222.5" y="204.5" width="45.0" height="44.0" fill="none" stroke="#484848" stroke-width="1"/>
<rect x="273.5" y="204.5" width="45.0" height="44.0" fill="none" stroke="#484848" stroke-width="1"/>
<rect x="325.5" y="204.5" width="45.0" height="44.0" fill="none" stroke="#484848" stroke-width="1"/>
<rect x="377.5" y="204.5" width="45.0" height="44.0" fill="none" stroke="#484848" stroke-width="1"/>
<rect x="428.5" y="204.5" width="45.0" height="44.0" fill="none" stroke="#484848" stroke-width="1"/>
<rect x="480.5" y="204.5" width="45.0" height="44.0" fill="none" stroke="#484848" stroke-width="1"/>
<rect x="531.5" y="204.5" width="45.0" height="44.0" fill="none" stroke="#484848" stroke-width="1"/>
<rect x="583.5" y="204.5" width="45.0" height="44.0" fill="none" stroke="#484848" stroke-width="1"/>
<rect x="15.5" y="255.5" width="45.0" height="44.0" fill="none" stroke="#484848" stroke-width="1"/>
<rect x="67.5" y="255.5" width="45.0" height="44.0" fill="none" stroke="#484848" stroke-width="1"/>
<rect x="118.5" y="255.5" width="45.0" height="44.0" fill="none" stroke="#484848" stroke-width="1"/>
<rect x="170.5" y="255.5" width="45.0" height="44.0" fill="none" stroke="#484848" stroke-width="1"/>
<rect x="222.5" y="255.5" width="45.0" height="44.0" fill="none" stroke="#484848" stroke-width="1"/>
<rect x="273.5" y="255.5" width="45.0" height="44.0" fill="none" stroke="#484848" stroke-width="1"/>
<rect x="325.5" y="255.5" width="45.0" height="44.0" fill="none" stroke="#484848" stroke-width="1"/>
<rect x="377.5" y="255.5" width="45.0" height="44.0" fill="none" stroke="#484848" stroke-width="1"/>
<rect x="428.5" y="255.5" width="45.0" height="44.0" fill="none" stroke="#484848" stroke-width="1"/>
<rect x="480.5" y="255.5" width="45.0" height="44.0" fill="none" stroke="#484848" stroke-width="1"/>
<rect x="531.5" y="255.5" width="45.0" height="44.0" fill="none" stroke="#484848" stroke-width="1"/>
<rect x="583.5" y="255.5" width="45.0" height="44.0" fill="none" stroke="#484848" stroke-width="1"/>
<rect x="15.5" y="305.5" width="45.0" height="44.0" fill="none" stroke="#484848" stroke-width="1"/>
<rect x="67.5" y="305.5" width="45.0" height="44.0" fill="none" stroke="#484848" stroke-width="1"/>
<rect x="118.5" y="305.5" width="45.0" height="44.0" fill="none" stroke="#484848" stroke-width="1"/>
<rect x="170.5" y="305.5" width="45.0" height="44.0" fill="none" stroke="#484848" stroke-width="1"/>
<rect x="222.5" y="305.5" width="45.0" height="44.0" fill="none" stroke="#484848" stroke-width="1"/>
<rect x="273.5" y="305.5" width="45.0" height="44.0" fill="none" stroke="#484848" stroke-width="1"/>
<rect x="325.5" y="305.5" width="45.0" height="44.0" fill="none" stroke="#484848" stroke-width="1"/>
<rect x="377.5" y="305.5" width="45.0" height="44.0" fill="none" stroke="#484848" stroke-width="1"/>
<rect x="428.5" y="305.5" width="45.0" height="44.0" fill="none" stroke="#484848" stroke-width="1"/>
<rect x="480.5" y="305.5" width="45.0" height="44.0" fill="none" stroke="#484848" stroke-width="1"/>
<rect x="531.5" y="305.5" width="45.0" height="44.0" fill="none" stroke="#484848" stroke-width="1"/>
<rect x="583.5" y="305.5" width="45.0" height="44.0" fill="none" stroke="#484848" stroke-width="1"/>
<rect x="15.5" y="356.5" width="45.0" height="44.0" fill="none" stroke="#484848" stroke-width="1"/>
<rect x="67.5" y="356.5" width="45.0" height="44.0" fill="none" stroke="#484848" stroke-width="1"/>
<rect x="118.5" y="356.5" width="45.0" height="44.0" fill="none" stroke="#484848" stroke-width="1"/>
<rect x="170.5" y="356.5" width="45.0" height="44.0" fill="none" stroke="#484848" stroke-width="1"/>
<rect x="222.5" y="356.5" width="45.0" height="44.0" fill="none" stroke="#484848" stroke-width="1"/>
<rect x="273.5" y="356.5" width="45.0" height="44.0" fill="none" stroke="#484848" stroke-width="1"/>
<rect x="325.5" y="356.5" width="45.0" height="44.0" fill="none" stroke="#484848" stroke-width="1"/>
<rect x="377.5" y="356.5" width="45.0" height="44.0" fill="none" stroke="#484848" stroke-width="1"/>
<rect x="428.5" y="356.5" width="45.0" height="44.0" fill="none" stroke="#484848" stroke-width="1"/>
<rect x="480.5" y="356.5" width="45.0" height="44.0" fill="none" stroke="#484848" stroke-width="1"/>
<rect x="531.5" y="356.5" width="45.0" height="44.0" fill="none" stroke="#484848" stroke-width="1"/>
<rect x="583.5" y="356.5" width="45.0" height="44.0" fill="none" stroke="#484848" stroke-width="1"/>
<rect x="15.5" y="406.5" width="45.0" height="44.0" fill="none" stroke="#484848" stroke-width="1"/>
<rect x="67.5" y="406.5" width="45.0" height="44.0" fill="none" stroke="#484848" stroke-width="1"/>
<rect x="118.5" y="406.5" width="45.0" height="44.0" fill="none" stroke="#484848" stroke-width="1"/>
<rect x="170.5" y="406.5" width="45.0" height="44.0" fill="none" stroke="#484848" stroke-width="1"/>
<rect x="222.5" y="406.5" width="45.0" height="44.0" fill="none" stroke="#484848" stroke-width="1"/>
<rect x="273.5" y="406.5" width="45.0" height="44.0" fill="none" stroke="#484848" stroke-width="1"/>
<rect x="325.5" y="406.5" width="45.0" height="44.0" fill="none" stroke="#484848" stroke-width="1"/>
<rect x="377.5" y="406.5" width="45.0" height="44.0" fill="none" stroke="#484848" stroke-width="1"/>
<rect x="428.5" y="406.5" width="45.0" height="44.0" fill="none" stroke="#484848" stroke-width="1"/>
<rect x="480.5" y="406.5" width="45.0" height="44.0" fill="none" stroke="#484848" stroke-width="1"/>
<rect x="531.5" y="406.5" width="45.0" height="44.0" fill="none" stroke="#484848" stroke-width="1"/>
<rect x="583.5" y="406.5" width="45.0" height="44.0" fill="none" stroke="#484848" stroke-width="1"/>
<rect x="15.5" y="457.5" width="45.0" height="44.0" fill="none" stroke="#484848" stroke-width="1"/>
<rect x="67.5" y="457.5" width="45.0" height="44.0" fill="none" stroke="#484848" stroke-width="1"/>
<rect x="118.5" y="457.5" width="45.0" height="44.0" fill="none" stroke="#484848" stroke-width="1"/>
<rect x="170.5" y="457.5" width="45.0" height="44.0" fill="none" stroke="#484848" stroke-width="1"/>
<rect x="222.5" y="457.5" width="45.0" height="44.0" fill="none" stroke="#484848" stroke-width="1"/>
<rect x="273.5" y="457.5" width="45.0" height="44.0" fill="none" stroke="#484848" stroke-width="1"/>
<rect x="325.5" y="457.5" width="45.0" height="44.0" fill="none" stroke="#484848" stroke-width="1"/>
<rect x="377.5" y="457.5" width="45.0" height="44.0" fill="none" stroke="#484848" stroke-width="1"/>
<rect x="428.5" y="457.5" width="45.0" height="44.0" fill="none" stroke="#484848" stroke-width="1"/>
<rect x="480.5" y="457.5" width="45.0" height="44.0" fill="none" stroke="#484848" stroke-width="1"/>
<rect x="531.5" y="457.5" width="45.0" height="44.0" fill="none" stroke="#484848" stroke-width="1"/>
<rect x="583.5" y="457.5" width="45.0" height="44.0" fill="none" stroke="#484848" stroke-width="1"/>
<rect x="15.5" y="507.5" width="45.0" height="44.0" fill="none" stroke="#484848" stroke-width="1"/>
<rect x="67.5" y="507.5" width="45.0" height="44.0" fill="none" stroke="#484848" stroke-width="1"/>
<rect x="118.5" y="507.5" width="45.0" height="44.0" fill="none" stroke="#484848" stroke-width="1"/>
<rect x="170.5" y="507.5" width="45.0" height="44.0" fill="none" stroke="#484848" stroke-width="1"/>
<rect x="222.5" y="507.5" width="45.0" height="44.0" fill="none" stroke="#484848" stroke-width="1"/>
<rect x="273.5" y="507.5" width="45.0" height="44.0" fill="none" stroke="#484848" stroke-width="1"/>
<rect x="325.5" y="507.5" width="45.0" height="44.0" fill="none" stroke="#484848" stroke-width="1"/>
<rect x="377.5" y="507.5" width="45.0" height="44.0" fill="none" stroke="#484848" stroke-width="1"/>
<rect x="428.5" y="507.5" width="45.0" height="44.0" fill="none" stroke="#484848" stroke-width="1"/>
<rect x="480.5" y="507.5" width="45.0" height="44.0" fill="none" stroke="#484848" stroke-width="1"/>
<rect x="531.5" y="507.5" width="45.0" height="44.0" fill="none" stroke="#484848" stroke-width="1"/>
<rect x="583.5" y="507.5" width="45.0" height="44.0" fill="none" stroke="#484848" stroke-width="1"/>
<rect x="15.5" y="558.5" width="45.0" height="44.0" fill="none" stroke="#484848" stroke-width="1"/>
<rect x="67.5" y="558.5" width="45.0" height="44.0" fill="none" stroke="#484848" stroke-width="1"/>
<rect x="118.5" y="558.5" width="45.0" height="44.0" fill="none" stroke="#484848" stroke-width="1"/>
<rect x="170.5" y="558.5" width="45.0" height="44.0" fill="none" stroke="#484848" stroke-width="1"/>
<rect x="222.5" y="558.5" width="45.0" height="44.0" fill="none" stroke="#484848" stroke-width="1"/>
<rect x="273.5" y="558.5" width="45.0" height="44.0" fill="none" stroke="#484848" stroke-width="1"/>
<rect x="325.5" y="558.5" width="45.0" height="44.0" fill="none" stroke="#484848" stroke-width="1"/>
<rect x="377.5" y="558.5" width="45.0" height="44.0" fill="none" stroke="#484848" stroke-width="1"/>
<rect x="428.5" y="558.5" width="45.0" height="44.0" fill="none" stroke="#484848" stroke-width="1"/>
<rect x="480.5" y="558.5" width="45.0" height="44.0" fill="none" stroke="#484848" stroke-width="1"/>
<rect x="531.5" y="558.5" width="45.0" height="44.0" fill="none" stroke="#484848" stroke-width="1"/>
<rect x="583.5" y="558.5" width="45.0" height="44.0" fill="none" stroke="#484848" stroke-width="1"/>
<text x="38.00" y="613.6" font-size="12" text-anchor="middle" fill="#262626">mu</text>
<text x="89.65" y="613.6" font-size="12" text-anchor="middle" fill="#262626">alpha</text>
<text transform="translate(11.2,75.91) rotate(-90)" font-size="12" text-anchor="middle" fill="#262626">alpha</text>
<text x="141.29" y="613.6" font-size="12" text-anchor="middle" fill="#262626">homo</text>
<text transform="translate(11.2,126.46) rotate(-90)" font-size="12" text-anchor="middle" fill="#262626">homo</text>
<text x="192.94" y="613.6" font-size="12" text-anchor="middle" fill="#262626">lumo</text>
<text transform="translate(11.2,177.01) rotate(-90)" font-size="12" text-anchor="middle" fill="#262626">lumo</text>
<text x="244.58" y="613.6" font-size="12" text-anchor="middle" fill="#262626">gap</text>
<text transform="translate(11.2,227.57) rotate(-90)" font-size="12" text-anchor="middle" fill="#262626">gap</text>
<text x="296.23" y="613.6" font-size="12" text-anchor="middle" fill="#262626">r2</text>
<text transform="translate(11.2,278.12) rotate(-90)" font-size="12" text-anchor="middle" fill="#262626">r2</text>
<text x="347.87" y="613.6" font-size="12" text-anchor="middle" fill="#262626">zpve</text>
<text transform="translate(11.2,328.68) rotate(-90)" font-size="12" text-anchor="middle" fill="#262626">zpve</text>
<text x="399.52" y="613.6" font-size="12" text-anchor="middle" fill="#262626">u0</text>
<text transform="translate(11.2,379.23) rotate(-90)" font-size="12" text-anchor="middle" fill="#262626">u0</text>
<text x="451.16" y="613.6" font-size="12" text-anchor="middle" fill="#262626">u298</text>
<text transform="translate(11.2,429.79) rotate(-90)" font-size="12" text-anchor="middle" fill="#262626">u298</text>
<text x="502.81" y="613.6" font-size="12" text-anchor="middle" fill="#262626">h298</text>
<text transform="translate(11.2,480.34) rotate(-90)" font-size="12" text-anchor="middle" fill="#262626">h298</text>
<text x="554.45" y="613.6" font-size="12" text-anchor="middle" fill="#262626">g298</text>
<text transform="translate(11.2,530.90) rotate(-90)" font-size="12" text-anchor="middle" fill="#262626">g298</text>
<text transform="translate(11.2,581.46) rotate(-90)" font-size="12" text-anchor="middle" fill="#262626">cv</text>
<defs><linearGradient id="cb" x1="0" y1="0" x2="0" y2="1"><stop offset="0.000" stop-color="#da3b46"/><stop offset="0.025" stop-color="#da424e"/><stop offset="0.050" stop-color="#da4a56"/><stop offset="0.075" stop-color="#da535f"/><stop offset="0.100" stop-color="#da5a67"/><stop offset="0.125" stop-color="#db626f"/><stop offset="0.150" stop-color="#db6c78"/><stop offset="0.175" stop-color="#dc7480"/><stop offset="0.200" stop-color="#dd7e8a"/><stop offset="0.225" stop-color="#de8692"/><stop offset="0.250" stop-color="#df8f9a"/><stop offset="0.275" stop-color="#e099a4"/><stop offset="0.300" stop-color="#e2a2ac"/><stop offset="0.325" stop-color="#e4acb5"/><stop offset="0.350" stop-color="#e5b5bd"/><stop offset="0.375" stop-color="#e7bfc5"/><stop offset="0.400" stop-color="#e9c9cf"/><stop offset="0.425" stop-color="#ebd3d7"/><stop offset="0.450" stop-color="#eedee0"/><stop offset="0.475" stop-color="#f0e7e9"/><stop offset="0.500" stop-color="#f2f1f1"/><stop offset="0.525" stop-color="#e9ecef"/><stop offset="0.550" stop-color="#e1e7ec"/><stop offset="0.575" stop-color="#d8e1e8"/><stop offset="0.600" stop-color="#d0dce5"/><stop offset="0.625" stop-color="#c8d7e2"/><stop offset="0.650" stop-color="#bfd1de"/><stop offset="0.675" stop-color="#b7ccda"/><stop offset="0.700" stop-color="#adc5d6"/><stop offset="0.725" stop-color="#a5c0d3"/><stop offset="0.750" stop-color="#9dbacf"/><stop offset="0.775" stop-color="#93b3cb"/><stop offset="0.800" stop-color="#8aaec7"/><stop offset="0.825" stop-color="#80a7c3"/><stop offset="0.850" stop-color="#78a2c0"/><stop offset="0.875" stop-color="#709cbc"/><stop offset="0.900" stop-color="#6695b8"/><stop offset="0.925" stop-color="#5d8fb4"/><stop offset="0.950" stop-color="#5388af"/><stop offset="0.975" stop-color="#4a82ab"/><stop offset="1.000" stop-color="#417ca8"/></linearGradient></defs>
<rect x="636.5" y="142.5" width="12.00" height="312.00" fill="url(#cb)" stroke="#484848" stroke-width="1"/>
<line x1="648.5" x2="651.7" y1="142.50" y2="142.50" stroke="#484848" stroke-width="1"/>
 <text x="654" y="146.80" font-size="12" fill="#262626">1.00</text>
<line x1="648.5" x2="651.7" y1="181.50" y2="181.50" stroke="#484848" stroke-width="1"/>
 <text x="654" y="185.80" font-size="12" fill="#262626">0.75</text>
<line x1="648.5" x2="651.7" y1="220.50" y2="220.50" stroke="#484848" stroke-width="1"/>
 <text x="654" y="224.80" font-size="12" fill="#262626">0.50</text>
<line x1="648.5" x2="651.7" y1="259.50" y2="259.50" stroke="#484848" stroke-width="1"/>
 <text x="654" y="263.80" font-size="12" fill="#262626">0.25</text>
<line x1="648.5" x2="651.7" y1="298.50" y2="298.50" stroke="#484848" stroke-width="1"/>
 <text x="654" y="302.80" font-size="12" fill="#262626">0.00</text>
<line x1="648.5" x2="651.7" y1="337.50" y2="337.50" stroke="#484848" stroke-width="1"/>
 <text x="654" y="341.80" font-size="12" fill="#262626">−0.25</text>
<line x1="648.5" x2="651.7" y1="376.50" y2="376.50" stroke="#484848" stroke-width="1"/>
 <text x="654" y="380.80" font-size="12" fill="#262626">−0.50</text>
<line x1="648.5" x2="651.7" y1="415.50" y2="415.50" stroke="#484848" stroke-width="1"/>
 <text x="654" y="419.80" font-size="12" fill="#262626">−0.75</text>
<line x1="648.5" x2="651.7" y1="454.50" y2="454.50" stroke="#484848" stroke-width="1"/>
 <text x="654" y="458.80" font-size="12" fill="#262626">−1.00</text>
</svg>
</body></html>
